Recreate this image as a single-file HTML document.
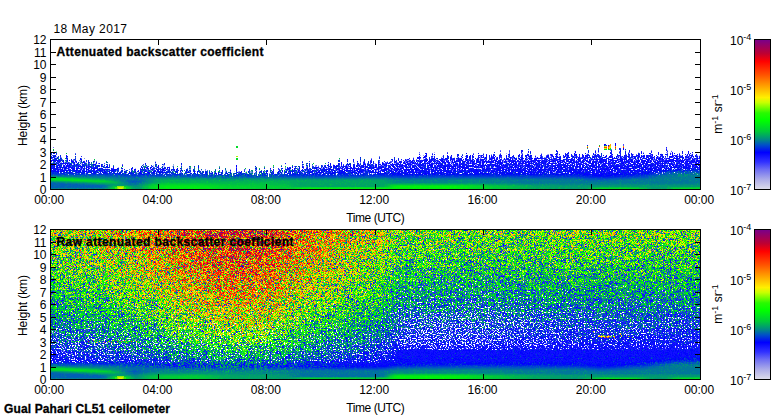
<!DOCTYPE html><html><head><meta charset="utf-8"><title>Ceilometer</title><style>html,body{margin:0;padding:0;background:#fff;}body{width:780px;height:420px;overflow:hidden;position:relative;font-family:"Liberation Sans",sans-serif;font-size:12px;color:#000;}svg{position:absolute;left:0;top:0;}text{font-family:"Liberation Sans",sans-serif;font-size:12px;fill:#000;}.b{font-weight:bold;stroke:#000;stroke-width:.3px;}</style></head><body><svg width="780" height="420" viewBox="0 0 780 420"><defs><linearGradient id="cb" x1="0" y1="0" x2="0" y2="1"><stop offset="0.000" stop-color="rgb(120,0,140)"/><stop offset="0.093" stop-color="rgb(190,0,50)"/><stop offset="0.145" stop-color="rgb(255,0,0)"/><stop offset="0.233" stop-color="rgb(255,80,0)"/><stop offset="0.310" stop-color="rgb(255,160,0)"/><stop offset="0.387" stop-color="rgb(255,240,0)"/><stop offset="0.420" stop-color="rgb(200,255,0)"/><stop offset="0.490" stop-color="rgb(40,250,0)"/><stop offset="0.540" stop-color="rgb(0,255,0)"/><stop offset="0.613" stop-color="rgb(0,200,60)"/><stop offset="0.665" stop-color="rgb(0,140,130)"/><stop offset="0.703" stop-color="rgb(0,80,200)"/><stop offset="0.753" stop-color="rgb(0,0,255)"/><stop offset="0.817" stop-color="rgb(50,50,255)"/><stop offset="0.867" stop-color="rgb(110,110,242)"/><stop offset="0.930" stop-color="rgb(170,170,232)"/><stop offset="1.000" stop-color="rgb(222,222,234)"/></linearGradient><linearGradient id="a0" gradientUnits="userSpaceOnUse" x1="0" y1="39" x2="0" y2="189"><stop offset="0" stop-color="#3600d9"/><stop offset=".167" stop-color="#3900c7"/><stop offset=".333" stop-color="#3c00b2"/><stop offset=".417" stop-color="#3e00a6"/><stop offset=".5" stop-color="#400098"/><stop offset=".583" stop-color="#410088"/><stop offset=".667" stop-color="#430075"/><stop offset=".708" stop-color="#44006a"/><stop offset=".75" stop-color="#45005d"/><stop offset=".792" stop-color="#45004e"/><stop offset=".812" stop-color="#460046"/><stop offset=".833" stop-color="#46003c"/><stop offset=".854" stop-color="#470031"/><stop offset=".875" stop-color="#47002a"/><stop offset=".887" stop-color="#4b0027"/><stop offset=".9" stop-color="#51001f"/><stop offset=".908" stop-color="#560017"/><stop offset=".917" stop-color="#5d000c"/><stop offset=".925" stop-color="#6c0001"/><stop offset=".933" stop-color="#720000"/><stop offset=".942" stop-color="#660000"/><stop offset=".95" stop-color="#5e0000"/><stop offset=".958" stop-color="#570000"/><stop offset=".967" stop-color="#570000"/><stop offset=".975" stop-color="#570000"/><stop offset=".983" stop-color="#570000"/><stop offset=".992" stop-color="#570000"/><stop offset="1" stop-color="#5d0000"/></linearGradient><linearGradient id="a1" gradientUnits="userSpaceOnUse" x1="0" y1="39" x2="0" y2="189"><stop offset="0" stop-color="#3600db"/><stop offset=".167" stop-color="#3900c9"/><stop offset=".333" stop-color="#3c00b4"/><stop offset=".417" stop-color="#3e00a8"/><stop offset=".5" stop-color="#40009a"/><stop offset=".583" stop-color="#41008a"/><stop offset=".667" stop-color="#430077"/><stop offset=".708" stop-color="#44006c"/><stop offset=".75" stop-color="#45005f"/><stop offset=".792" stop-color="#450050"/><stop offset=".812" stop-color="#460048"/><stop offset=".833" stop-color="#46003e"/><stop offset=".854" stop-color="#470033"/><stop offset=".875" stop-color="#47002a"/><stop offset=".887" stop-color="#4b0027"/><stop offset=".9" stop-color="#51001f"/><stop offset=".908" stop-color="#550017"/><stop offset=".917" stop-color="#5c000c"/><stop offset=".925" stop-color="#680001"/><stop offset=".933" stop-color="#720000"/><stop offset=".942" stop-color="#690000"/><stop offset=".95" stop-color="#5f0000"/><stop offset=".958" stop-color="#580000"/><stop offset=".967" stop-color="#570000"/><stop offset=".975" stop-color="#570000"/><stop offset=".983" stop-color="#570000"/><stop offset=".992" stop-color="#570000"/><stop offset="1" stop-color="#5d0000"/></linearGradient><linearGradient id="a2" gradientUnits="userSpaceOnUse" x1="0" y1="39" x2="0" y2="189"><stop offset="0" stop-color="#3600de"/><stop offset=".167" stop-color="#3900cc"/><stop offset=".333" stop-color="#3c00b7"/><stop offset=".417" stop-color="#3e00ab"/><stop offset=".5" stop-color="#40009d"/><stop offset=".583" stop-color="#41008d"/><stop offset=".667" stop-color="#43007a"/><stop offset=".708" stop-color="#44006f"/><stop offset=".75" stop-color="#450063"/><stop offset=".792" stop-color="#450054"/><stop offset=".812" stop-color="#46004b"/><stop offset=".833" stop-color="#460042"/><stop offset=".854" stop-color="#470037"/><stop offset=".875" stop-color="#47002b"/><stop offset=".887" stop-color="#4b0027"/><stop offset=".9" stop-color="#51001f"/><stop offset=".908" stop-color="#550017"/><stop offset=".917" stop-color="#5a000c"/><stop offset=".925" stop-color="#630001"/><stop offset=".933" stop-color="#6f0000"/><stop offset=".942" stop-color="#6d0000"/><stop offset=".95" stop-color="#610000"/><stop offset=".958" stop-color="#5b0000"/><stop offset=".967" stop-color="#570000"/><stop offset=".975" stop-color="#570000"/><stop offset=".983" stop-color="#570000"/><stop offset=".992" stop-color="#570000"/><stop offset="1" stop-color="#5d0000"/></linearGradient><linearGradient id="a3" gradientUnits="userSpaceOnUse" x1="0" y1="39" x2="0" y2="189"><stop offset="0" stop-color="#3600e0"/><stop offset=".167" stop-color="#3900cf"/><stop offset=".333" stop-color="#3c00ba"/><stop offset=".417" stop-color="#3e00ae"/><stop offset=".5" stop-color="#4000a0"/><stop offset=".583" stop-color="#410091"/><stop offset=".667" stop-color="#43007e"/><stop offset=".708" stop-color="#440073"/><stop offset=".75" stop-color="#450066"/><stop offset=".792" stop-color="#450058"/><stop offset=".812" stop-color="#46004f"/><stop offset=".833" stop-color="#460046"/><stop offset=".854" stop-color="#47003b"/><stop offset=".875" stop-color="#47002f"/><stop offset=".887" stop-color="#4a0027"/><stop offset=".9" stop-color="#50001f"/><stop offset=".908" stop-color="#550017"/><stop offset=".917" stop-color="#59000c"/><stop offset=".925" stop-color="#5f0001"/><stop offset=".933" stop-color="#6a0000"/><stop offset=".942" stop-color="#6f0000"/><stop offset=".95" stop-color="#650000"/><stop offset=".958" stop-color="#5e0000"/><stop offset=".967" stop-color="#570000"/><stop offset=".975" stop-color="#570000"/><stop offset=".983" stop-color="#570000"/><stop offset=".992" stop-color="#570000"/><stop offset="1" stop-color="#5d0000"/></linearGradient><linearGradient id="a4" gradientUnits="userSpaceOnUse" x1="0" y1="39" x2="0" y2="189"><stop offset="0" stop-color="#3600e3"/><stop offset=".167" stop-color="#3900d2"/><stop offset=".333" stop-color="#3c00bd"/><stop offset=".417" stop-color="#3e00b1"/><stop offset=".5" stop-color="#4000a4"/><stop offset=".583" stop-color="#410094"/><stop offset=".667" stop-color="#430081"/><stop offset=".708" stop-color="#440077"/><stop offset=".75" stop-color="#45006a"/><stop offset=".792" stop-color="#45005b"/><stop offset=".812" stop-color="#460053"/><stop offset=".833" stop-color="#46004a"/><stop offset=".854" stop-color="#47003f"/><stop offset=".875" stop-color="#470033"/><stop offset=".887" stop-color="#4a0027"/><stop offset=".9" stop-color="#50001f"/><stop offset=".908" stop-color="#540017"/><stop offset=".917" stop-color="#58000c"/><stop offset=".925" stop-color="#5d0001"/><stop offset=".933" stop-color="#650000"/><stop offset=".942" stop-color="#6d0000"/><stop offset=".95" stop-color="#680000"/><stop offset=".958" stop-color="#5f0000"/><stop offset=".967" stop-color="#590000"/><stop offset=".975" stop-color="#570000"/><stop offset=".983" stop-color="#570000"/><stop offset=".992" stop-color="#570000"/><stop offset="1" stop-color="#5d0000"/></linearGradient><linearGradient id="a5" gradientUnits="userSpaceOnUse" x1="0" y1="39" x2="0" y2="189"><stop offset="0" stop-color="#3600e6"/><stop offset=".167" stop-color="#3900d5"/><stop offset=".333" stop-color="#3c00c0"/><stop offset=".417" stop-color="#3e00b4"/><stop offset=".5" stop-color="#4000a7"/><stop offset=".583" stop-color="#410098"/><stop offset=".667" stop-color="#430085"/><stop offset=".708" stop-color="#44007a"/><stop offset=".75" stop-color="#45006e"/><stop offset=".792" stop-color="#45005f"/><stop offset=".812" stop-color="#460057"/><stop offset=".833" stop-color="#46004e"/><stop offset=".854" stop-color="#470043"/><stop offset=".875" stop-color="#470037"/><stop offset=".887" stop-color="#4a002c"/><stop offset=".9" stop-color="#50001f"/><stop offset=".908" stop-color="#540017"/><stop offset=".917" stop-color="#58000c"/><stop offset=".925" stop-color="#5b0001"/><stop offset=".933" stop-color="#610000"/><stop offset=".942" stop-color="#690000"/><stop offset=".95" stop-color="#6a0000"/><stop offset=".958" stop-color="#620000"/><stop offset=".967" stop-color="#5c0000"/><stop offset=".975" stop-color="#570000"/><stop offset=".983" stop-color="#570000"/><stop offset=".992" stop-color="#570000"/><stop offset="1" stop-color="#5d0000"/></linearGradient><linearGradient id="a6" gradientUnits="userSpaceOnUse" x1="0" y1="39" x2="0" y2="189"><stop offset="0" stop-color="#3600e9"/><stop offset=".167" stop-color="#3900d8"/><stop offset=".333" stop-color="#3c00c4"/><stop offset=".417" stop-color="#3e00b8"/><stop offset=".5" stop-color="#4000ab"/><stop offset=".583" stop-color="#41009b"/><stop offset=".667" stop-color="#430089"/><stop offset=".708" stop-color="#44007e"/><stop offset=".75" stop-color="#450071"/><stop offset=".792" stop-color="#450063"/><stop offset=".812" stop-color="#46005b"/><stop offset=".833" stop-color="#460052"/><stop offset=".854" stop-color="#470047"/><stop offset=".875" stop-color="#47003b"/><stop offset=".887" stop-color="#4a0030"/><stop offset=".9" stop-color="#4f0021"/><stop offset=".908" stop-color="#540017"/><stop offset=".917" stop-color="#58000c"/><stop offset=".925" stop-color="#5b0001"/><stop offset=".933" stop-color="#5e0000"/><stop offset=".942" stop-color="#640000"/><stop offset=".95" stop-color="#6a0000"/><stop offset=".958" stop-color="#650000"/><stop offset=".967" stop-color="#5e0000"/><stop offset=".975" stop-color="#590000"/><stop offset=".983" stop-color="#570000"/><stop offset=".992" stop-color="#570000"/><stop offset="1" stop-color="#5d0000"/></linearGradient><linearGradient id="a7" gradientUnits="userSpaceOnUse" x1="0" y1="39" x2="0" y2="189"><stop offset="0" stop-color="#3600ee"/><stop offset=".167" stop-color="#3900dd"/><stop offset=".333" stop-color="#3c00c8"/><stop offset=".417" stop-color="#3e00bd"/><stop offset=".5" stop-color="#4000af"/><stop offset=".583" stop-color="#4100a0"/><stop offset=".667" stop-color="#43008e"/><stop offset=".708" stop-color="#440083"/><stop offset=".75" stop-color="#450077"/><stop offset=".792" stop-color="#450068"/><stop offset=".812" stop-color="#460060"/><stop offset=".833" stop-color="#460057"/><stop offset=".854" stop-color="#47004d"/><stop offset=".875" stop-color="#470041"/><stop offset=".887" stop-color="#4a0036"/><stop offset=".9" stop-color="#4f0027"/><stop offset=".908" stop-color="#53001c"/><stop offset=".917" stop-color="#570010"/><stop offset=".925" stop-color="#5b0004"/><stop offset=".933" stop-color="#5c0000"/><stop offset=".942" stop-color="#5e0000"/><stop offset=".95" stop-color="#620000"/><stop offset=".958" stop-color="#650000"/><stop offset=".967" stop-color="#610000"/><stop offset=".975" stop-color="#5f0000"/><stop offset=".983" stop-color="#670000"/><stop offset=".992" stop-color="#6b0000"/><stop offset="1" stop-color="#6b0000"/></linearGradient><linearGradient id="a8" gradientUnits="userSpaceOnUse" x1="0" y1="39" x2="0" y2="189"><stop offset="0" stop-color="#3600f2"/><stop offset=".167" stop-color="#3900e1"/><stop offset=".333" stop-color="#3c00cd"/><stop offset=".417" stop-color="#3e00c1"/><stop offset=".5" stop-color="#4000b4"/><stop offset=".583" stop-color="#4100a5"/><stop offset=".667" stop-color="#430093"/><stop offset=".708" stop-color="#440088"/><stop offset=".75" stop-color="#45007c"/><stop offset=".792" stop-color="#45006e"/><stop offset=".812" stop-color="#460066"/><stop offset=".833" stop-color="#46005d"/><stop offset=".854" stop-color="#470052"/><stop offset=".875" stop-color="#470047"/><stop offset=".887" stop-color="#49003d"/><stop offset=".9" stop-color="#4d002f"/><stop offset=".908" stop-color="#510024"/><stop offset=".917" stop-color="#550018"/><stop offset=".925" stop-color="#58000d"/><stop offset=".933" stop-color="#5a0003"/><stop offset=".942" stop-color="#590000"/><stop offset=".95" stop-color="#590000"/><stop offset=".958" stop-color="#5b0000"/><stop offset=".967" stop-color="#5c0000"/><stop offset=".975" stop-color="#5e0000"/><stop offset=".983" stop-color="#690000"/><stop offset=".992" stop-color="#700000"/><stop offset="1" stop-color="#710000"/></linearGradient><linearGradient id="a9" gradientUnits="userSpaceOnUse" x1="0" y1="39" x2="0" y2="189"><stop offset="0" stop-color="#3600f7"/><stop offset=".167" stop-color="#3900e6"/><stop offset=".333" stop-color="#3c00d2"/><stop offset=".417" stop-color="#3e00c6"/><stop offset=".5" stop-color="#4000b9"/><stop offset=".583" stop-color="#4100aa"/><stop offset=".667" stop-color="#430098"/><stop offset=".708" stop-color="#44008d"/><stop offset=".75" stop-color="#450081"/><stop offset=".792" stop-color="#450073"/><stop offset=".812" stop-color="#46006b"/><stop offset=".833" stop-color="#460062"/><stop offset=".854" stop-color="#470058"/><stop offset=".875" stop-color="#47004c"/><stop offset=".887" stop-color="#480043"/><stop offset=".9" stop-color="#4c0036"/><stop offset=".908" stop-color="#50002b"/><stop offset=".917" stop-color="#540020"/><stop offset=".925" stop-color="#570014"/><stop offset=".933" stop-color="#58000b"/><stop offset=".942" stop-color="#570002"/><stop offset=".95" stop-color="#550000"/><stop offset=".958" stop-color="#560000"/><stop offset=".967" stop-color="#580000"/><stop offset=".975" stop-color="#5a0000"/><stop offset=".983" stop-color="#5b0000"/><stop offset=".992" stop-color="#5c0000"/><stop offset="1" stop-color="#5c0000"/></linearGradient><linearGradient id="a10" gradientUnits="userSpaceOnUse" x1="0" y1="39" x2="0" y2="189"><stop offset="0" stop-color="#3600f5"/><stop offset=".167" stop-color="#3900e4"/><stop offset=".333" stop-color="#3c00d0"/><stop offset=".417" stop-color="#3e00c4"/><stop offset=".5" stop-color="#4000b7"/><stop offset=".583" stop-color="#4100a8"/><stop offset=".667" stop-color="#430096"/><stop offset=".708" stop-color="#44008c"/><stop offset=".75" stop-color="#450080"/><stop offset=".792" stop-color="#450072"/><stop offset=".812" stop-color="#46006a"/><stop offset=".833" stop-color="#460061"/><stop offset=".854" stop-color="#470057"/><stop offset=".875" stop-color="#47004b"/><stop offset=".887" stop-color="#490042"/><stop offset=".9" stop-color="#4c0035"/><stop offset=".908" stop-color="#50002a"/><stop offset=".917" stop-color="#54001e"/><stop offset=".925" stop-color="#580012"/><stop offset=".933" stop-color="#5a0007"/><stop offset=".942" stop-color="#5a0000"/><stop offset=".95" stop-color="#5a0000"/><stop offset=".958" stop-color="#5b0000"/><stop offset=".967" stop-color="#5f0000"/><stop offset=".975" stop-color="#620000"/><stop offset=".983" stop-color="#640000"/><stop offset=".992" stop-color="#640000"/><stop offset="1" stop-color="#640000"/></linearGradient><linearGradient id="a11" gradientUnits="userSpaceOnUse" x1="0" y1="39" x2="0" y2="189"><stop offset="0" stop-color="#3600ea"/><stop offset=".167" stop-color="#3900d9"/><stop offset=".333" stop-color="#3c00c5"/><stop offset=".417" stop-color="#3e00ba"/><stop offset=".5" stop-color="#4000ad"/><stop offset=".583" stop-color="#41009e"/><stop offset=".667" stop-color="#43008c"/><stop offset=".708" stop-color="#440081"/><stop offset=".75" stop-color="#450076"/><stop offset=".792" stop-color="#450068"/><stop offset=".812" stop-color="#460060"/><stop offset=".833" stop-color="#460057"/><stop offset=".854" stop-color="#47004d"/><stop offset=".875" stop-color="#480040"/><stop offset=".887" stop-color="#4b0035"/><stop offset=".9" stop-color="#4e002a"/><stop offset=".908" stop-color="#51001f"/><stop offset=".917" stop-color="#560013"/><stop offset=".925" stop-color="#5b0005"/><stop offset=".933" stop-color="#5e0000"/><stop offset=".942" stop-color="#600000"/><stop offset=".95" stop-color="#600000"/><stop offset=".958" stop-color="#620000"/><stop offset=".967" stop-color="#660000"/><stop offset=".975" stop-color="#6a0000"/><stop offset=".983" stop-color="#6d0000"/><stop offset=".992" stop-color="#6d0000"/><stop offset="1" stop-color="#6d0000"/></linearGradient><linearGradient id="a12" gradientUnits="userSpaceOnUse" x1="0" y1="39" x2="0" y2="189"><stop offset="0" stop-color="#3600e8"/><stop offset=".167" stop-color="#3900d7"/><stop offset=".333" stop-color="#3c00c3"/><stop offset=".417" stop-color="#3e00b8"/><stop offset=".5" stop-color="#4000ab"/><stop offset=".583" stop-color="#41009c"/><stop offset=".667" stop-color="#43008a"/><stop offset=".708" stop-color="#440080"/><stop offset=".75" stop-color="#450074"/><stop offset=".792" stop-color="#450066"/><stop offset=".812" stop-color="#46005e"/><stop offset=".833" stop-color="#460055"/><stop offset=".854" stop-color="#47004b"/><stop offset=".875" stop-color="#48003e"/><stop offset=".887" stop-color="#4c0033"/><stop offset=".9" stop-color="#4e0027"/><stop offset=".908" stop-color="#51001d"/><stop offset=".917" stop-color="#560011"/><stop offset=".925" stop-color="#5b0003"/><stop offset=".933" stop-color="#600000"/><stop offset=".942" stop-color="#630000"/><stop offset=".95" stop-color="#630000"/><stop offset=".958" stop-color="#650000"/><stop offset=".967" stop-color="#680000"/><stop offset=".975" stop-color="#6d0000"/><stop offset=".983" stop-color="#700000"/><stop offset=".992" stop-color="#700000"/><stop offset="1" stop-color="#700000"/></linearGradient><linearGradient id="a13" gradientUnits="userSpaceOnUse" x1="0" y1="39" x2="0" y2="189"><stop offset="0" stop-color="#3600ed"/><stop offset=".167" stop-color="#3900dc"/><stop offset=".333" stop-color="#3c00c9"/><stop offset=".417" stop-color="#3e00bd"/><stop offset=".5" stop-color="#4000b0"/><stop offset=".583" stop-color="#4100a1"/><stop offset=".667" stop-color="#43008f"/><stop offset=".708" stop-color="#440085"/><stop offset=".75" stop-color="#450079"/><stop offset=".792" stop-color="#45006b"/><stop offset=".812" stop-color="#460063"/><stop offset=".833" stop-color="#46005a"/><stop offset=".854" stop-color="#470050"/><stop offset=".875" stop-color="#480043"/><stop offset=".887" stop-color="#4b0038"/><stop offset=".9" stop-color="#4e002c"/><stop offset=".908" stop-color="#510023"/><stop offset=".917" stop-color="#550017"/><stop offset=".925" stop-color="#5a0009"/><stop offset=".933" stop-color="#5f0000"/><stop offset=".942" stop-color="#620000"/><stop offset=".95" stop-color="#630000"/><stop offset=".958" stop-color="#650000"/><stop offset=".967" stop-color="#680000"/><stop offset=".975" stop-color="#6d0000"/><stop offset=".983" stop-color="#700000"/><stop offset=".992" stop-color="#700000"/><stop offset="1" stop-color="#700000"/></linearGradient><linearGradient id="a14" gradientUnits="userSpaceOnUse" x1="0" y1="39" x2="0" y2="189"><stop offset="0" stop-color="#3600f3"/><stop offset=".167" stop-color="#3900e2"/><stop offset=".333" stop-color="#3c00ce"/><stop offset=".417" stop-color="#3e00c3"/><stop offset=".5" stop-color="#4000b6"/><stop offset=".583" stop-color="#4100a7"/><stop offset=".667" stop-color="#430095"/><stop offset=".708" stop-color="#44008a"/><stop offset=".75" stop-color="#45007f"/><stop offset=".792" stop-color="#450071"/><stop offset=".812" stop-color="#460069"/><stop offset=".833" stop-color="#460060"/><stop offset=".854" stop-color="#470056"/><stop offset=".875" stop-color="#480049"/><stop offset=".887" stop-color="#4b003e"/><stop offset=".9" stop-color="#4e0032"/><stop offset=".908" stop-color="#500029"/><stop offset=".917" stop-color="#55001d"/><stop offset=".925" stop-color="#5a0010"/><stop offset=".933" stop-color="#5f0001"/><stop offset=".942" stop-color="#620000"/><stop offset=".95" stop-color="#630000"/><stop offset=".958" stop-color="#650000"/><stop offset=".967" stop-color="#680000"/><stop offset=".975" stop-color="#6d0000"/><stop offset=".983" stop-color="#700000"/><stop offset=".992" stop-color="#700000"/><stop offset="1" stop-color="#700000"/></linearGradient><linearGradient id="a15" gradientUnits="userSpaceOnUse" x1="0" y1="39" x2="0" y2="189"><stop offset="0" stop-color="#3600f8"/><stop offset=".167" stop-color="#3900e7"/><stop offset=".333" stop-color="#3c00d3"/><stop offset=".417" stop-color="#3e00c8"/><stop offset=".5" stop-color="#4000bb"/><stop offset=".583" stop-color="#4100ac"/><stop offset=".667" stop-color="#43009a"/><stop offset=".708" stop-color="#44008f"/><stop offset=".75" stop-color="#450084"/><stop offset=".792" stop-color="#450076"/><stop offset=".812" stop-color="#46006e"/><stop offset=".833" stop-color="#460065"/><stop offset=".854" stop-color="#47005b"/><stop offset=".875" stop-color="#48004e"/><stop offset=".887" stop-color="#4b0043"/><stop offset=".9" stop-color="#4e0037"/><stop offset=".908" stop-color="#50002e"/><stop offset=".917" stop-color="#540023"/><stop offset=".925" stop-color="#590015"/><stop offset=".933" stop-color="#5e0007"/><stop offset=".942" stop-color="#620000"/><stop offset=".95" stop-color="#630000"/><stop offset=".958" stop-color="#650000"/><stop offset=".967" stop-color="#680000"/><stop offset=".975" stop-color="#6d0000"/><stop offset=".983" stop-color="#700000"/><stop offset=".992" stop-color="#700000"/><stop offset="1" stop-color="#700000"/></linearGradient><linearGradient id="a16" gradientUnits="userSpaceOnUse" x1="0" y1="39" x2="0" y2="189"><stop offset="0" stop-color="#3600fd"/><stop offset=".167" stop-color="#3900ec"/><stop offset=".333" stop-color="#3c00d8"/><stop offset=".417" stop-color="#3e00cd"/><stop offset=".5" stop-color="#4000c0"/><stop offset=".583" stop-color="#4100b1"/><stop offset=".667" stop-color="#43009f"/><stop offset=".708" stop-color="#440094"/><stop offset=".75" stop-color="#450089"/><stop offset=".792" stop-color="#45007b"/><stop offset=".812" stop-color="#460073"/><stop offset=".833" stop-color="#46006a"/><stop offset=".854" stop-color="#470060"/><stop offset=".875" stop-color="#480053"/><stop offset=".887" stop-color="#4b0049"/><stop offset=".9" stop-color="#4e003d"/><stop offset=".908" stop-color="#500034"/><stop offset=".917" stop-color="#530029"/><stop offset=".925" stop-color="#58001b"/><stop offset=".933" stop-color="#5e000d"/><stop offset=".942" stop-color="#620000"/><stop offset=".95" stop-color="#630000"/><stop offset=".958" stop-color="#640000"/><stop offset=".967" stop-color="#680000"/><stop offset=".975" stop-color="#6c0000"/><stop offset=".983" stop-color="#6e0000"/><stop offset=".992" stop-color="#6f0000"/><stop offset="1" stop-color="#6f0000"/></linearGradient><linearGradient id="a17" gradientUnits="userSpaceOnUse" x1="0" y1="39" x2="0" y2="189"><stop offset="0" stop-color="#3700ff"/><stop offset=".167" stop-color="#3900f0"/><stop offset=".333" stop-color="#3c00dc"/><stop offset=".417" stop-color="#3e00d1"/><stop offset=".5" stop-color="#4000c4"/><stop offset=".583" stop-color="#4100b5"/><stop offset=".667" stop-color="#4300a3"/><stop offset=".708" stop-color="#440099"/><stop offset=".75" stop-color="#45008d"/><stop offset=".792" stop-color="#45007f"/><stop offset=".812" stop-color="#460077"/><stop offset=".833" stop-color="#46006e"/><stop offset=".854" stop-color="#470064"/><stop offset=".875" stop-color="#480058"/><stop offset=".887" stop-color="#4a004d"/><stop offset=".9" stop-color="#4d0041"/><stop offset=".908" stop-color="#4f0038"/><stop offset=".917" stop-color="#53002d"/><stop offset=".925" stop-color="#580020"/><stop offset=".933" stop-color="#5d0011"/><stop offset=".942" stop-color="#610003"/><stop offset=".95" stop-color="#630000"/><stop offset=".958" stop-color="#640000"/><stop offset=".967" stop-color="#670000"/><stop offset=".975" stop-color="#6a0000"/><stop offset=".983" stop-color="#6c0000"/><stop offset=".992" stop-color="#6d0000"/><stop offset="1" stop-color="#6d0000"/></linearGradient><linearGradient id="a18" gradientUnits="userSpaceOnUse" x1="0" y1="39" x2="0" y2="189"><stop offset="0" stop-color="#3900ff"/><stop offset=".167" stop-color="#3900f2"/><stop offset=".333" stop-color="#3c00de"/><stop offset=".417" stop-color="#3e00d3"/><stop offset=".5" stop-color="#4000c6"/><stop offset=".583" stop-color="#4100b7"/><stop offset=".667" stop-color="#4300a5"/><stop offset=".708" stop-color="#44009a"/><stop offset=".75" stop-color="#45008e"/><stop offset=".792" stop-color="#450081"/><stop offset=".812" stop-color="#460079"/><stop offset=".833" stop-color="#460070"/><stop offset=".854" stop-color="#470066"/><stop offset=".875" stop-color="#48005a"/><stop offset=".887" stop-color="#4a004f"/><stop offset=".9" stop-color="#4d0043"/><stop offset=".908" stop-color="#4f003a"/><stop offset=".917" stop-color="#53002f"/><stop offset=".925" stop-color="#580022"/><stop offset=".933" stop-color="#5d0013"/><stop offset=".942" stop-color="#610005"/><stop offset=".95" stop-color="#630000"/><stop offset=".958" stop-color="#640000"/><stop offset=".967" stop-color="#660000"/><stop offset=".975" stop-color="#680000"/><stop offset=".983" stop-color="#6a0000"/><stop offset=".992" stop-color="#6a0000"/><stop offset="1" stop-color="#6a0000"/></linearGradient><linearGradient id="a19" gradientUnits="userSpaceOnUse" x1="0" y1="39" x2="0" y2="189"><stop offset="0" stop-color="#3a00ff"/><stop offset=".167" stop-color="#3900f4"/><stop offset=".333" stop-color="#3c00e0"/><stop offset=".417" stop-color="#3e00d4"/><stop offset=".5" stop-color="#4000c7"/><stop offset=".583" stop-color="#4100b9"/><stop offset=".667" stop-color="#4300a7"/><stop offset=".708" stop-color="#44009c"/><stop offset=".75" stop-color="#450090"/><stop offset=".792" stop-color="#450082"/><stop offset=".812" stop-color="#46007a"/><stop offset=".833" stop-color="#460072"/><stop offset=".854" stop-color="#470068"/><stop offset=".875" stop-color="#48005b"/><stop offset=".887" stop-color="#4a0051"/><stop offset=".9" stop-color="#4d0045"/><stop offset=".908" stop-color="#4f003c"/><stop offset=".917" stop-color="#530031"/><stop offset=".925" stop-color="#580024"/><stop offset=".933" stop-color="#5d0015"/><stop offset=".942" stop-color="#610007"/><stop offset=".95" stop-color="#630000"/><stop offset=".958" stop-color="#640000"/><stop offset=".967" stop-color="#660000"/><stop offset=".975" stop-color="#680000"/><stop offset=".983" stop-color="#690000"/><stop offset=".992" stop-color="#6a0000"/><stop offset="1" stop-color="#6a0000"/></linearGradient><linearGradient id="a20" gradientUnits="userSpaceOnUse" x1="0" y1="39" x2="0" y2="189"><stop offset="0" stop-color="#3a00ff"/><stop offset=".167" stop-color="#3900f3"/><stop offset=".333" stop-color="#3c00e0"/><stop offset=".417" stop-color="#3e00d4"/><stop offset=".5" stop-color="#4000c7"/><stop offset=".583" stop-color="#4100b8"/><stop offset=".667" stop-color="#4300a7"/><stop offset=".708" stop-color="#44009c"/><stop offset=".75" stop-color="#450090"/><stop offset=".792" stop-color="#450082"/><stop offset=".812" stop-color="#46007a"/><stop offset=".833" stop-color="#460071"/><stop offset=".854" stop-color="#470067"/><stop offset=".875" stop-color="#48005b"/><stop offset=".887" stop-color="#4a0051"/><stop offset=".9" stop-color="#4d0044"/><stop offset=".908" stop-color="#4f003c"/><stop offset=".917" stop-color="#530031"/><stop offset=".925" stop-color="#580023"/><stop offset=".933" stop-color="#5d0015"/><stop offset=".942" stop-color="#610006"/><stop offset=".95" stop-color="#630000"/><stop offset=".958" stop-color="#640000"/><stop offset=".967" stop-color="#660000"/><stop offset=".975" stop-color="#680000"/><stop offset=".983" stop-color="#690000"/><stop offset=".992" stop-color="#690000"/><stop offset="1" stop-color="#690000"/></linearGradient><linearGradient id="a21" gradientUnits="userSpaceOnUse" x1="0" y1="39" x2="0" y2="189"><stop offset="0" stop-color="#3900ff"/><stop offset=".167" stop-color="#3900f2"/><stop offset=".333" stop-color="#3c00de"/><stop offset=".417" stop-color="#3e00d2"/><stop offset=".5" stop-color="#4000c5"/><stop offset=".583" stop-color="#4100b7"/><stop offset=".667" stop-color="#4300a5"/><stop offset=".708" stop-color="#44009a"/><stop offset=".75" stop-color="#45008e"/><stop offset=".792" stop-color="#450080"/><stop offset=".812" stop-color="#460078"/><stop offset=".833" stop-color="#460070"/><stop offset=".854" stop-color="#470066"/><stop offset=".875" stop-color="#480059"/><stop offset=".887" stop-color="#4a004f"/><stop offset=".9" stop-color="#4d0043"/><stop offset=".908" stop-color="#4f003a"/><stop offset=".917" stop-color="#53002f"/><stop offset=".925" stop-color="#580022"/><stop offset=".933" stop-color="#5d0013"/><stop offset=".942" stop-color="#610005"/><stop offset=".95" stop-color="#630000"/><stop offset=".958" stop-color="#640000"/><stop offset=".967" stop-color="#650000"/><stop offset=".975" stop-color="#670000"/><stop offset=".983" stop-color="#680000"/><stop offset=".992" stop-color="#690000"/><stop offset="1" stop-color="#690000"/></linearGradient><linearGradient id="a22" gradientUnits="userSpaceOnUse" x1="0" y1="39" x2="0" y2="189"><stop offset="0" stop-color="#3700ff"/><stop offset=".167" stop-color="#3900f0"/><stop offset=".333" stop-color="#3c00dc"/><stop offset=".417" stop-color="#3e00d1"/><stop offset=".5" stop-color="#4000c4"/><stop offset=".583" stop-color="#4100b5"/><stop offset=".667" stop-color="#4300a3"/><stop offset=".708" stop-color="#440098"/><stop offset=".75" stop-color="#45008d"/><stop offset=".792" stop-color="#45007f"/><stop offset=".812" stop-color="#460077"/><stop offset=".833" stop-color="#46006e"/><stop offset=".854" stop-color="#470064"/><stop offset=".875" stop-color="#480058"/><stop offset=".887" stop-color="#4a004d"/><stop offset=".9" stop-color="#4d0041"/><stop offset=".908" stop-color="#4f0038"/><stop offset=".917" stop-color="#53002d"/><stop offset=".925" stop-color="#580020"/><stop offset=".933" stop-color="#5d0011"/><stop offset=".942" stop-color="#610003"/><stop offset=".95" stop-color="#630000"/><stop offset=".958" stop-color="#640000"/><stop offset=".967" stop-color="#650000"/><stop offset=".975" stop-color="#670000"/><stop offset=".983" stop-color="#680000"/><stop offset=".992" stop-color="#680000"/><stop offset="1" stop-color="#680000"/></linearGradient><linearGradient id="a23" gradientUnits="userSpaceOnUse" x1="0" y1="39" x2="0" y2="189"><stop offset="0" stop-color="#3600fb"/><stop offset=".167" stop-color="#3900ea"/><stop offset=".333" stop-color="#3c00d6"/><stop offset=".417" stop-color="#3e00cb"/><stop offset=".5" stop-color="#4000be"/><stop offset=".583" stop-color="#4100af"/><stop offset=".667" stop-color="#43009d"/><stop offset=".708" stop-color="#440093"/><stop offset=".75" stop-color="#450087"/><stop offset=".792" stop-color="#450079"/><stop offset=".812" stop-color="#460071"/><stop offset=".833" stop-color="#460068"/><stop offset=".854" stop-color="#47005e"/><stop offset=".875" stop-color="#480052"/><stop offset=".887" stop-color="#4a0047"/><stop offset=".9" stop-color="#4d003b"/><stop offset=".908" stop-color="#4f0032"/><stop offset=".917" stop-color="#530027"/><stop offset=".925" stop-color="#58001a"/><stop offset=".933" stop-color="#5d000b"/><stop offset=".942" stop-color="#610000"/><stop offset=".95" stop-color="#630000"/><stop offset=".958" stop-color="#640000"/><stop offset=".967" stop-color="#650000"/><stop offset=".975" stop-color="#660000"/><stop offset=".983" stop-color="#680000"/><stop offset=".992" stop-color="#680000"/><stop offset="1" stop-color="#680000"/></linearGradient><linearGradient id="a24" gradientUnits="userSpaceOnUse" x1="0" y1="39" x2="0" y2="189"><stop offset="0" stop-color="#3600f4"/><stop offset=".167" stop-color="#3900e3"/><stop offset=".333" stop-color="#3c00cf"/><stop offset=".417" stop-color="#3e00c4"/><stop offset=".5" stop-color="#4000b7"/><stop offset=".583" stop-color="#4100a8"/><stop offset=".667" stop-color="#430096"/><stop offset=".708" stop-color="#44008c"/><stop offset=".75" stop-color="#450080"/><stop offset=".792" stop-color="#450072"/><stop offset=".812" stop-color="#46006a"/><stop offset=".833" stop-color="#460061"/><stop offset=".854" stop-color="#470057"/><stop offset=".875" stop-color="#48004b"/><stop offset=".887" stop-color="#4a0040"/><stop offset=".9" stop-color="#4d0034"/><stop offset=".908" stop-color="#4f002c"/><stop offset=".917" stop-color="#530020"/><stop offset=".925" stop-color="#580013"/><stop offset=".933" stop-color="#5d0005"/><stop offset=".942" stop-color="#610000"/><stop offset=".95" stop-color="#630000"/><stop offset=".958" stop-color="#630000"/><stop offset=".967" stop-color="#650000"/><stop offset=".975" stop-color="#660000"/><stop offset=".983" stop-color="#670000"/><stop offset=".992" stop-color="#670000"/><stop offset="1" stop-color="#670000"/></linearGradient><linearGradient id="a25" gradientUnits="userSpaceOnUse" x1="0" y1="39" x2="0" y2="189"><stop offset="0" stop-color="#3600ed"/><stop offset=".167" stop-color="#3900dc"/><stop offset=".333" stop-color="#3c00c9"/><stop offset=".417" stop-color="#3e00bd"/><stop offset=".5" stop-color="#4000b0"/><stop offset=".583" stop-color="#4100a1"/><stop offset=".667" stop-color="#430090"/><stop offset=".708" stop-color="#440085"/><stop offset=".75" stop-color="#450079"/><stop offset=".792" stop-color="#45006b"/><stop offset=".812" stop-color="#460063"/><stop offset=".833" stop-color="#46005a"/><stop offset=".854" stop-color="#470050"/><stop offset=".875" stop-color="#480044"/><stop offset=".887" stop-color="#4a0039"/><stop offset=".9" stop-color="#4d002d"/><stop offset=".908" stop-color="#4f0025"/><stop offset=".917" stop-color="#53001a"/><stop offset=".925" stop-color="#57000d"/><stop offset=".933" stop-color="#5c0000"/><stop offset=".942" stop-color="#600000"/><stop offset=".95" stop-color="#620000"/><stop offset=".958" stop-color="#620000"/><stop offset=".967" stop-color="#620000"/><stop offset=".975" stop-color="#620000"/><stop offset=".983" stop-color="#620000"/><stop offset=".992" stop-color="#680000"/><stop offset="1" stop-color="#6b0000"/></linearGradient><linearGradient id="a26" gradientUnits="userSpaceOnUse" x1="0" y1="39" x2="0" y2="189"><stop offset="0" stop-color="#3600e7"/><stop offset=".167" stop-color="#3900d6"/><stop offset=".333" stop-color="#3c00c3"/><stop offset=".417" stop-color="#3e00b7"/><stop offset=".5" stop-color="#4000aa"/><stop offset=".583" stop-color="#41009b"/><stop offset=".667" stop-color="#43008a"/><stop offset=".708" stop-color="#44007f"/><stop offset=".75" stop-color="#450073"/><stop offset=".792" stop-color="#450065"/><stop offset=".812" stop-color="#46005d"/><stop offset=".833" stop-color="#460054"/><stop offset=".854" stop-color="#47004a"/><stop offset=".875" stop-color="#48003e"/><stop offset=".887" stop-color="#4a0034"/><stop offset=".9" stop-color="#4d0028"/><stop offset=".908" stop-color="#4f001f"/><stop offset=".917" stop-color="#530014"/><stop offset=".925" stop-color="#570007"/><stop offset=".933" stop-color="#5c0000"/><stop offset=".942" stop-color="#600000"/><stop offset=".95" stop-color="#610000"/><stop offset=".958" stop-color="#610000"/><stop offset=".967" stop-color="#610000"/><stop offset=".975" stop-color="#610000"/><stop offset=".983" stop-color="#610000"/><stop offset=".992" stop-color="#6e0000"/><stop offset="1" stop-color="#730000"/></linearGradient><linearGradient id="a27" gradientUnits="userSpaceOnUse" x1="0" y1="39" x2="0" y2="189"><stop offset="0" stop-color="#3600e1"/><stop offset=".167" stop-color="#3900d1"/><stop offset=".333" stop-color="#3c00bd"/><stop offset=".417" stop-color="#3e00b1"/><stop offset=".5" stop-color="#4000a4"/><stop offset=".583" stop-color="#410096"/><stop offset=".667" stop-color="#430084"/><stop offset=".708" stop-color="#440079"/><stop offset=".75" stop-color="#45006d"/><stop offset=".792" stop-color="#45005f"/><stop offset=".812" stop-color="#460057"/><stop offset=".833" stop-color="#46004f"/><stop offset=".854" stop-color="#470045"/><stop offset=".875" stop-color="#480038"/><stop offset=".887" stop-color="#4a002e"/><stop offset=".9" stop-color="#4d0022"/><stop offset=".908" stop-color="#4f0019"/><stop offset=".917" stop-color="#53000e"/><stop offset=".925" stop-color="#570001"/><stop offset=".933" stop-color="#5c0000"/><stop offset=".942" stop-color="#600000"/><stop offset=".95" stop-color="#610000"/><stop offset=".958" stop-color="#610000"/><stop offset=".967" stop-color="#610000"/><stop offset=".975" stop-color="#610000"/><stop offset=".983" stop-color="#610000"/><stop offset=".992" stop-color="#6e0000"/><stop offset="1" stop-color="#730000"/></linearGradient><linearGradient id="a28" gradientUnits="userSpaceOnUse" x1="0" y1="39" x2="0" y2="189"><stop offset="0" stop-color="#3600dc"/><stop offset=".167" stop-color="#3900cb"/><stop offset=".333" stop-color="#3c00b7"/><stop offset=".417" stop-color="#3e00ac"/><stop offset=".5" stop-color="#40009f"/><stop offset=".583" stop-color="#410090"/><stop offset=".667" stop-color="#43007e"/><stop offset=".708" stop-color="#440074"/><stop offset=".75" stop-color="#450068"/><stop offset=".792" stop-color="#45005a"/><stop offset=".812" stop-color="#460052"/><stop offset=".833" stop-color="#460049"/><stop offset=".854" stop-color="#47003f"/><stop offset=".875" stop-color="#480033"/><stop offset=".887" stop-color="#4a0028"/><stop offset=".9" stop-color="#4d001f"/><stop offset=".908" stop-color="#4f0017"/><stop offset=".917" stop-color="#53000c"/><stop offset=".925" stop-color="#570001"/><stop offset=".933" stop-color="#5c0000"/><stop offset=".942" stop-color="#600000"/><stop offset=".95" stop-color="#610000"/><stop offset=".958" stop-color="#610000"/><stop offset=".967" stop-color="#610000"/><stop offset=".975" stop-color="#610000"/><stop offset=".983" stop-color="#610000"/><stop offset=".992" stop-color="#6e0000"/><stop offset="1" stop-color="#730000"/></linearGradient><linearGradient id="a29" gradientUnits="userSpaceOnUse" x1="0" y1="39" x2="0" y2="189"><stop offset="0" stop-color="#3600d8"/><stop offset=".167" stop-color="#3900c7"/><stop offset=".333" stop-color="#3c00b3"/><stop offset=".417" stop-color="#3e00a8"/><stop offset=".5" stop-color="#40009b"/><stop offset=".583" stop-color="#41008c"/><stop offset=".667" stop-color="#43007a"/><stop offset=".708" stop-color="#44006f"/><stop offset=".75" stop-color="#450063"/><stop offset=".792" stop-color="#450056"/><stop offset=".812" stop-color="#46004e"/><stop offset=".833" stop-color="#460045"/><stop offset=".854" stop-color="#47003b"/><stop offset=".875" stop-color="#48002f"/><stop offset=".887" stop-color="#4a0027"/><stop offset=".9" stop-color="#4d001f"/><stop offset=".908" stop-color="#4f0017"/><stop offset=".917" stop-color="#53000c"/><stop offset=".925" stop-color="#570001"/><stop offset=".933" stop-color="#5c0000"/><stop offset=".942" stop-color="#600000"/><stop offset=".95" stop-color="#610000"/><stop offset=".958" stop-color="#610000"/><stop offset=".967" stop-color="#610000"/><stop offset=".975" stop-color="#610000"/><stop offset=".983" stop-color="#610000"/><stop offset=".992" stop-color="#6e0000"/><stop offset="1" stop-color="#730000"/></linearGradient><linearGradient id="a30" gradientUnits="userSpaceOnUse" x1="0" y1="39" x2="0" y2="189"><stop offset="0" stop-color="#3600d3"/><stop offset=".167" stop-color="#3900c2"/><stop offset=".333" stop-color="#3c00ae"/><stop offset=".417" stop-color="#3e00a3"/><stop offset=".5" stop-color="#400096"/><stop offset=".583" stop-color="#410087"/><stop offset=".667" stop-color="#430075"/><stop offset=".708" stop-color="#44006b"/><stop offset=".75" stop-color="#45005f"/><stop offset=".792" stop-color="#450051"/><stop offset=".812" stop-color="#460049"/><stop offset=".833" stop-color="#460040"/><stop offset=".854" stop-color="#470036"/><stop offset=".875" stop-color="#48002a"/><stop offset=".887" stop-color="#4a0027"/><stop offset=".9" stop-color="#4d001f"/><stop offset=".908" stop-color="#4f0017"/><stop offset=".917" stop-color="#53000c"/><stop offset=".925" stop-color="#570001"/><stop offset=".933" stop-color="#5c0000"/><stop offset=".942" stop-color="#600000"/><stop offset=".95" stop-color="#610000"/><stop offset=".958" stop-color="#610000"/><stop offset=".967" stop-color="#610000"/><stop offset=".975" stop-color="#610000"/><stop offset=".983" stop-color="#610000"/><stop offset=".992" stop-color="#6e0000"/><stop offset="1" stop-color="#730000"/></linearGradient><linearGradient id="a31" gradientUnits="userSpaceOnUse" x1="0" y1="39" x2="0" y2="189"><stop offset="0" stop-color="#3600cf"/><stop offset=".167" stop-color="#3900be"/><stop offset=".333" stop-color="#3c00aa"/><stop offset=".417" stop-color="#3e009e"/><stop offset=".5" stop-color="#400091"/><stop offset=".583" stop-color="#410082"/><stop offset=".667" stop-color="#430070"/><stop offset=".708" stop-color="#440065"/><stop offset=".75" stop-color="#450059"/><stop offset=".792" stop-color="#45004b"/><stop offset=".812" stop-color="#460043"/><stop offset=".833" stop-color="#46003a"/><stop offset=".854" stop-color="#470030"/><stop offset=".875" stop-color="#48002a"/><stop offset=".887" stop-color="#4a0027"/><stop offset=".9" stop-color="#4d001f"/><stop offset=".908" stop-color="#4f0017"/><stop offset=".917" stop-color="#53000c"/><stop offset=".925" stop-color="#570001"/><stop offset=".933" stop-color="#5c0000"/><stop offset=".942" stop-color="#600000"/><stop offset=".95" stop-color="#610000"/><stop offset=".958" stop-color="#610000"/><stop offset=".967" stop-color="#610000"/><stop offset=".975" stop-color="#610000"/><stop offset=".983" stop-color="#610000"/><stop offset=".992" stop-color="#6e0000"/><stop offset="1" stop-color="#730000"/></linearGradient><linearGradient id="a32" gradientUnits="userSpaceOnUse" x1="0" y1="39" x2="0" y2="189"><stop offset="0" stop-color="#3600cb"/><stop offset=".167" stop-color="#3900ba"/><stop offset=".333" stop-color="#3c00a5"/><stop offset=".417" stop-color="#3e0099"/><stop offset=".5" stop-color="#40008c"/><stop offset=".583" stop-color="#41007d"/><stop offset=".667" stop-color="#43006a"/><stop offset=".708" stop-color="#440060"/><stop offset=".75" stop-color="#450053"/><stop offset=".792" stop-color="#450045"/><stop offset=".812" stop-color="#46003d"/><stop offset=".833" stop-color="#460034"/><stop offset=".854" stop-color="#47002a"/><stop offset=".875" stop-color="#48002a"/><stop offset=".887" stop-color="#4a0027"/><stop offset=".9" stop-color="#4d001f"/><stop offset=".908" stop-color="#4f0017"/><stop offset=".917" stop-color="#53000c"/><stop offset=".925" stop-color="#570001"/><stop offset=".933" stop-color="#5c0000"/><stop offset=".942" stop-color="#600000"/><stop offset=".95" stop-color="#610000"/><stop offset=".958" stop-color="#610000"/><stop offset=".967" stop-color="#610000"/><stop offset=".975" stop-color="#610000"/><stop offset=".983" stop-color="#610000"/><stop offset=".992" stop-color="#6e0000"/><stop offset="1" stop-color="#730000"/></linearGradient><linearGradient id="a33" gradientUnits="userSpaceOnUse" x1="0" y1="39" x2="0" y2="189"><stop offset="0" stop-color="#3600c7"/><stop offset=".167" stop-color="#3900b5"/><stop offset=".333" stop-color="#3c00a1"/><stop offset=".417" stop-color="#3e0095"/><stop offset=".5" stop-color="#400087"/><stop offset=".583" stop-color="#410078"/><stop offset=".667" stop-color="#430065"/><stop offset=".708" stop-color="#44005a"/><stop offset=".75" stop-color="#45004d"/><stop offset=".792" stop-color="#45003f"/><stop offset=".812" stop-color="#460036"/><stop offset=".833" stop-color="#46002d"/><stop offset=".854" stop-color="#47002a"/><stop offset=".875" stop-color="#48002a"/><stop offset=".887" stop-color="#4a0027"/><stop offset=".9" stop-color="#4d001f"/><stop offset=".908" stop-color="#4f0017"/><stop offset=".917" stop-color="#53000c"/><stop offset=".925" stop-color="#570001"/><stop offset=".933" stop-color="#5c0000"/><stop offset=".942" stop-color="#600000"/><stop offset=".95" stop-color="#610000"/><stop offset=".958" stop-color="#610000"/><stop offset=".967" stop-color="#610000"/><stop offset=".975" stop-color="#610000"/><stop offset=".983" stop-color="#610000"/><stop offset=".992" stop-color="#6e0000"/><stop offset="1" stop-color="#730000"/></linearGradient><linearGradient id="a34" gradientUnits="userSpaceOnUse" x1="0" y1="39" x2="0" y2="189"><stop offset="0" stop-color="#3600c4"/><stop offset=".167" stop-color="#3900b2"/><stop offset=".333" stop-color="#3c009d"/><stop offset=".417" stop-color="#3e0091"/><stop offset=".5" stop-color="#400084"/><stop offset=".583" stop-color="#410074"/><stop offset=".667" stop-color="#430061"/><stop offset=".708" stop-color="#440056"/><stop offset=".75" stop-color="#450049"/><stop offset=".792" stop-color="#45003a"/><stop offset=".812" stop-color="#460031"/><stop offset=".833" stop-color="#46002a"/><stop offset=".854" stop-color="#47002a"/><stop offset=".875" stop-color="#48002a"/><stop offset=".887" stop-color="#4a0027"/><stop offset=".9" stop-color="#4d001f"/><stop offset=".908" stop-color="#4f0017"/><stop offset=".917" stop-color="#53000c"/><stop offset=".925" stop-color="#570001"/><stop offset=".933" stop-color="#5c0000"/><stop offset=".942" stop-color="#5f0000"/><stop offset=".95" stop-color="#610000"/><stop offset=".958" stop-color="#610000"/><stop offset=".967" stop-color="#610000"/><stop offset=".975" stop-color="#610000"/><stop offset=".983" stop-color="#610000"/><stop offset=".992" stop-color="#6d0000"/><stop offset="1" stop-color="#730000"/></linearGradient><linearGradient id="a35" gradientUnits="userSpaceOnUse" x1="0" y1="39" x2="0" y2="189"><stop offset="0" stop-color="#3600d5"/><stop offset=".167" stop-color="#3900c2"/><stop offset=".333" stop-color="#3c00ab"/><stop offset=".417" stop-color="#3e009e"/><stop offset=".5" stop-color="#400090"/><stop offset=".583" stop-color="#41007e"/><stop offset=".667" stop-color="#43006a"/><stop offset=".708" stop-color="#44005e"/><stop offset=".75" stop-color="#450050"/><stop offset=".792" stop-color="#450040"/><stop offset=".812" stop-color="#460037"/><stop offset=".833" stop-color="#46002c"/><stop offset=".854" stop-color="#47002a"/><stop offset=".875" stop-color="#47002a"/><stop offset=".887" stop-color="#470027"/><stop offset=".9" stop-color="#4a001f"/><stop offset=".908" stop-color="#4d0017"/><stop offset=".917" stop-color="#51000c"/><stop offset=".925" stop-color="#550001"/><stop offset=".933" stop-color="#590000"/><stop offset=".942" stop-color="#5b0000"/><stop offset=".95" stop-color="#5c0000"/><stop offset=".958" stop-color="#5c0000"/><stop offset=".967" stop-color="#620000"/><stop offset=".975" stop-color="#6c0000"/><stop offset=".983" stop-color="#720000"/><stop offset=".992" stop-color="#720000"/><stop offset="1" stop-color="#720000"/></linearGradient><linearGradient id="a36" gradientUnits="userSpaceOnUse" x1="0" y1="39" x2="0" y2="189"><stop offset="0" stop-color="#3600d0"/><stop offset=".167" stop-color="#3900bc"/><stop offset=".333" stop-color="#3c00a4"/><stop offset=".417" stop-color="#3e0096"/><stop offset=".5" stop-color="#400086"/><stop offset=".583" stop-color="#410073"/><stop offset=".667" stop-color="#43005d"/><stop offset=".708" stop-color="#440050"/><stop offset=".75" stop-color="#450041"/><stop offset=".792" stop-color="#450030"/><stop offset=".812" stop-color="#46002a"/><stop offset=".833" stop-color="#46002a"/><stop offset=".854" stop-color="#47002a"/><stop offset=".875" stop-color="#47002a"/><stop offset=".887" stop-color="#470027"/><stop offset=".9" stop-color="#4a001f"/><stop offset=".908" stop-color="#4d0017"/><stop offset=".917" stop-color="#51000c"/><stop offset=".925" stop-color="#550001"/><stop offset=".933" stop-color="#590000"/><stop offset=".942" stop-color="#5b0000"/><stop offset=".95" stop-color="#5c0000"/><stop offset=".958" stop-color="#5c0000"/><stop offset=".967" stop-color="#620000"/><stop offset=".975" stop-color="#6c0000"/><stop offset=".983" stop-color="#720000"/><stop offset=".992" stop-color="#720000"/><stop offset="1" stop-color="#720000"/></linearGradient><linearGradient id="a37" gradientUnits="userSpaceOnUse" x1="0" y1="39" x2="0" y2="189"><stop offset="0" stop-color="#3600d0"/><stop offset=".167" stop-color="#3900bb"/><stop offset=".333" stop-color="#3c00a3"/><stop offset=".417" stop-color="#3e0095"/><stop offset=".5" stop-color="#400085"/><stop offset=".583" stop-color="#410073"/><stop offset=".667" stop-color="#43005d"/><stop offset=".708" stop-color="#440050"/><stop offset=".75" stop-color="#450041"/><stop offset=".792" stop-color="#45002f"/><stop offset=".812" stop-color="#46002a"/><stop offset=".833" stop-color="#46002a"/><stop offset=".854" stop-color="#47002a"/><stop offset=".875" stop-color="#47002a"/><stop offset=".887" stop-color="#470027"/><stop offset=".9" stop-color="#4a001f"/><stop offset=".908" stop-color="#4d0017"/><stop offset=".917" stop-color="#51000c"/><stop offset=".925" stop-color="#550001"/><stop offset=".933" stop-color="#590000"/><stop offset=".942" stop-color="#5b0000"/><stop offset=".95" stop-color="#5c0000"/><stop offset=".958" stop-color="#5c0000"/><stop offset=".967" stop-color="#620000"/><stop offset=".975" stop-color="#6c0000"/><stop offset=".983" stop-color="#720000"/><stop offset=".992" stop-color="#720000"/><stop offset="1" stop-color="#720000"/></linearGradient><linearGradient id="a38" gradientUnits="userSpaceOnUse" x1="0" y1="39" x2="0" y2="189"><stop offset="0" stop-color="#3600cf"/><stop offset=".167" stop-color="#3900bb"/><stop offset=".333" stop-color="#3c00a3"/><stop offset=".417" stop-color="#3e0095"/><stop offset=".5" stop-color="#400085"/><stop offset=".583" stop-color="#410072"/><stop offset=".667" stop-color="#43005c"/><stop offset=".708" stop-color="#44004f"/><stop offset=".75" stop-color="#450040"/><stop offset=".792" stop-color="#45002e"/><stop offset=".812" stop-color="#46002a"/><stop offset=".833" stop-color="#46002a"/><stop offset=".854" stop-color="#47002a"/><stop offset=".875" stop-color="#47002a"/><stop offset=".887" stop-color="#470027"/><stop offset=".9" stop-color="#4a001f"/><stop offset=".908" stop-color="#4e0017"/><stop offset=".917" stop-color="#52000c"/><stop offset=".925" stop-color="#560001"/><stop offset=".933" stop-color="#590000"/><stop offset=".942" stop-color="#5b0000"/><stop offset=".95" stop-color="#5c0000"/><stop offset=".958" stop-color="#5c0000"/><stop offset=".967" stop-color="#620000"/><stop offset=".975" stop-color="#6c0000"/><stop offset=".983" stop-color="#720000"/><stop offset=".992" stop-color="#720000"/><stop offset="1" stop-color="#720000"/></linearGradient><linearGradient id="a39" gradientUnits="userSpaceOnUse" x1="0" y1="39" x2="0" y2="189"><stop offset="0" stop-color="#3600cf"/><stop offset=".167" stop-color="#3900bb"/><stop offset=".333" stop-color="#3c00a3"/><stop offset=".417" stop-color="#3e0095"/><stop offset=".5" stop-color="#400085"/><stop offset=".583" stop-color="#410072"/><stop offset=".667" stop-color="#43005c"/><stop offset=".708" stop-color="#44004f"/><stop offset=".75" stop-color="#450040"/><stop offset=".792" stop-color="#45002e"/><stop offset=".812" stop-color="#46002a"/><stop offset=".833" stop-color="#46002a"/><stop offset=".854" stop-color="#47002a"/><stop offset=".875" stop-color="#47002a"/><stop offset=".887" stop-color="#470027"/><stop offset=".9" stop-color="#4a001f"/><stop offset=".908" stop-color="#4e0017"/><stop offset=".917" stop-color="#52000c"/><stop offset=".925" stop-color="#560001"/><stop offset=".933" stop-color="#590000"/><stop offset=".942" stop-color="#5b0000"/><stop offset=".95" stop-color="#5c0000"/><stop offset=".958" stop-color="#5c0000"/><stop offset=".967" stop-color="#620000"/><stop offset=".975" stop-color="#6c0000"/><stop offset=".983" stop-color="#720000"/><stop offset=".992" stop-color="#720000"/><stop offset="1" stop-color="#720000"/></linearGradient><linearGradient id="a40" gradientUnits="userSpaceOnUse" x1="0" y1="39" x2="0" y2="189"><stop offset="0" stop-color="#3600cf"/><stop offset=".167" stop-color="#3900bb"/><stop offset=".333" stop-color="#3c00a3"/><stop offset=".417" stop-color="#3e0094"/><stop offset=".5" stop-color="#400084"/><stop offset=".583" stop-color="#410072"/><stop offset=".667" stop-color="#43005c"/><stop offset=".708" stop-color="#44004f"/><stop offset=".75" stop-color="#450040"/><stop offset=".792" stop-color="#45002e"/><stop offset=".812" stop-color="#46002a"/><stop offset=".833" stop-color="#46002a"/><stop offset=".854" stop-color="#47002a"/><stop offset=".875" stop-color="#47002a"/><stop offset=".887" stop-color="#470027"/><stop offset=".9" stop-color="#4b001f"/><stop offset=".908" stop-color="#4e0017"/><stop offset=".917" stop-color="#52000c"/><stop offset=".925" stop-color="#560001"/><stop offset=".933" stop-color="#590000"/><stop offset=".942" stop-color="#5b0000"/><stop offset=".95" stop-color="#5c0000"/><stop offset=".958" stop-color="#5c0000"/><stop offset=".967" stop-color="#620000"/><stop offset=".975" stop-color="#6c0000"/><stop offset=".983" stop-color="#720000"/><stop offset=".992" stop-color="#720000"/><stop offset="1" stop-color="#720000"/></linearGradient><linearGradient id="a41" gradientUnits="userSpaceOnUse" x1="0" y1="39" x2="0" y2="189"><stop offset="0" stop-color="#3600cf"/><stop offset=".167" stop-color="#3900bb"/><stop offset=".333" stop-color="#3c00a3"/><stop offset=".417" stop-color="#3e0094"/><stop offset=".5" stop-color="#400084"/><stop offset=".583" stop-color="#410072"/><stop offset=".667" stop-color="#43005c"/><stop offset=".708" stop-color="#44004e"/><stop offset=".75" stop-color="#45003f"/><stop offset=".792" stop-color="#45002e"/><stop offset=".812" stop-color="#46002a"/><stop offset=".833" stop-color="#46002a"/><stop offset=".854" stop-color="#47002a"/><stop offset=".875" stop-color="#47002a"/><stop offset=".887" stop-color="#480027"/><stop offset=".9" stop-color="#4b001f"/><stop offset=".908" stop-color="#4e0017"/><stop offset=".917" stop-color="#52000c"/><stop offset=".925" stop-color="#560001"/><stop offset=".933" stop-color="#590000"/><stop offset=".942" stop-color="#5b0000"/><stop offset=".95" stop-color="#5c0000"/><stop offset=".958" stop-color="#5c0000"/><stop offset=".967" stop-color="#620000"/><stop offset=".975" stop-color="#6c0000"/><stop offset=".983" stop-color="#720000"/><stop offset=".992" stop-color="#720000"/><stop offset="1" stop-color="#720000"/></linearGradient><linearGradient id="a42" gradientUnits="userSpaceOnUse" x1="0" y1="39" x2="0" y2="189"><stop offset="0" stop-color="#3600cf"/><stop offset=".167" stop-color="#3900bb"/><stop offset=".333" stop-color="#3c00a2"/><stop offset=".417" stop-color="#3e0094"/><stop offset=".5" stop-color="#400084"/><stop offset=".583" stop-color="#410072"/><stop offset=".667" stop-color="#43005b"/><stop offset=".708" stop-color="#44004e"/><stop offset=".75" stop-color="#45003f"/><stop offset=".792" stop-color="#45002e"/><stop offset=".812" stop-color="#46002a"/><stop offset=".833" stop-color="#46002a"/><stop offset=".854" stop-color="#47002a"/><stop offset=".875" stop-color="#47002a"/><stop offset=".887" stop-color="#480027"/><stop offset=".9" stop-color="#4b001f"/><stop offset=".908" stop-color="#4e0017"/><stop offset=".917" stop-color="#53000c"/><stop offset=".925" stop-color="#560001"/><stop offset=".933" stop-color="#5a0000"/><stop offset=".942" stop-color="#5c0000"/><stop offset=".95" stop-color="#5c0000"/><stop offset=".958" stop-color="#5c0000"/><stop offset=".967" stop-color="#610000"/><stop offset=".975" stop-color="#6a0000"/><stop offset=".983" stop-color="#6f0000"/><stop offset=".992" stop-color="#6f0000"/><stop offset="1" stop-color="#6f0000"/></linearGradient><linearGradient id="a43" gradientUnits="userSpaceOnUse" x1="0" y1="39" x2="0" y2="189"><stop offset="0" stop-color="#3600cf"/><stop offset=".167" stop-color="#3900bb"/><stop offset=".333" stop-color="#3c00a2"/><stop offset=".417" stop-color="#3e0094"/><stop offset=".5" stop-color="#400084"/><stop offset=".583" stop-color="#410072"/><stop offset=".667" stop-color="#43005b"/><stop offset=".708" stop-color="#44004e"/><stop offset=".75" stop-color="#45003f"/><stop offset=".792" stop-color="#45002d"/><stop offset=".812" stop-color="#46002a"/><stop offset=".833" stop-color="#46002a"/><stop offset=".854" stop-color="#47002a"/><stop offset=".875" stop-color="#47002a"/><stop offset=".887" stop-color="#480027"/><stop offset=".9" stop-color="#4b001f"/><stop offset=".908" stop-color="#4f0017"/><stop offset=".917" stop-color="#53000c"/><stop offset=".925" stop-color="#560001"/><stop offset=".933" stop-color="#5a0000"/><stop offset=".942" stop-color="#5b0000"/><stop offset=".95" stop-color="#5c0000"/><stop offset=".958" stop-color="#5c0000"/><stop offset=".967" stop-color="#600000"/><stop offset=".975" stop-color="#680000"/><stop offset=".983" stop-color="#6c0000"/><stop offset=".992" stop-color="#6c0000"/><stop offset="1" stop-color="#6c0000"/></linearGradient><linearGradient id="a44" gradientUnits="userSpaceOnUse" x1="0" y1="39" x2="0" y2="189"><stop offset="0" stop-color="#3600cf"/><stop offset=".167" stop-color="#3900bb"/><stop offset=".333" stop-color="#3c00a2"/><stop offset=".417" stop-color="#3e0094"/><stop offset=".5" stop-color="#400084"/><stop offset=".583" stop-color="#410072"/><stop offset=".667" stop-color="#43005b"/><stop offset=".708" stop-color="#44004e"/><stop offset=".75" stop-color="#45003f"/><stop offset=".792" stop-color="#45002d"/><stop offset=".812" stop-color="#46002a"/><stop offset=".833" stop-color="#46002a"/><stop offset=".854" stop-color="#47002a"/><stop offset=".875" stop-color="#47002a"/><stop offset=".887" stop-color="#480027"/><stop offset=".9" stop-color="#4b001f"/><stop offset=".908" stop-color="#4e0017"/><stop offset=".917" stop-color="#52000c"/><stop offset=".925" stop-color="#560001"/><stop offset=".933" stop-color="#590000"/><stop offset=".942" stop-color="#5b0000"/><stop offset=".95" stop-color="#5b0000"/><stop offset=".958" stop-color="#5b0000"/><stop offset=".967" stop-color="#5f0000"/><stop offset=".975" stop-color="#650000"/><stop offset=".983" stop-color="#690000"/><stop offset=".992" stop-color="#690000"/><stop offset="1" stop-color="#690000"/></linearGradient><linearGradient id="a45" gradientUnits="userSpaceOnUse" x1="0" y1="39" x2="0" y2="189"><stop offset="0" stop-color="#3600cf"/><stop offset=".167" stop-color="#3900bb"/><stop offset=".333" stop-color="#3c00a2"/><stop offset=".417" stop-color="#3e0094"/><stop offset=".5" stop-color="#400084"/><stop offset=".583" stop-color="#410072"/><stop offset=".667" stop-color="#43005b"/><stop offset=".708" stop-color="#44004e"/><stop offset=".75" stop-color="#45003f"/><stop offset=".792" stop-color="#45002d"/><stop offset=".812" stop-color="#46002a"/><stop offset=".833" stop-color="#46002a"/><stop offset=".854" stop-color="#47002a"/><stop offset=".875" stop-color="#47002a"/><stop offset=".887" stop-color="#480027"/><stop offset=".9" stop-color="#4b001f"/><stop offset=".908" stop-color="#4e0017"/><stop offset=".917" stop-color="#52000c"/><stop offset=".925" stop-color="#560001"/><stop offset=".933" stop-color="#590000"/><stop offset=".942" stop-color="#5b0000"/><stop offset=".95" stop-color="#5b0000"/><stop offset=".958" stop-color="#5b0000"/><stop offset=".967" stop-color="#5e0000"/><stop offset=".975" stop-color="#640000"/><stop offset=".983" stop-color="#670000"/><stop offset=".992" stop-color="#670000"/><stop offset="1" stop-color="#670000"/></linearGradient><linearGradient id="a46" gradientUnits="userSpaceOnUse" x1="0" y1="39" x2="0" y2="189"><stop offset="0" stop-color="#3600d0"/><stop offset=".167" stop-color="#3900bb"/><stop offset=".333" stop-color="#3c00a3"/><stop offset=".417" stop-color="#3e0094"/><stop offset=".5" stop-color="#400084"/><stop offset=".583" stop-color="#410072"/><stop offset=".667" stop-color="#43005b"/><stop offset=".708" stop-color="#44004e"/><stop offset=".75" stop-color="#45003f"/><stop offset=".792" stop-color="#45002d"/><stop offset=".812" stop-color="#46002a"/><stop offset=".833" stop-color="#46002a"/><stop offset=".854" stop-color="#47002a"/><stop offset=".875" stop-color="#47002a"/><stop offset=".887" stop-color="#480027"/><stop offset=".9" stop-color="#4b001f"/><stop offset=".908" stop-color="#4e0017"/><stop offset=".917" stop-color="#52000c"/><stop offset=".925" stop-color="#560001"/><stop offset=".933" stop-color="#590000"/><stop offset=".942" stop-color="#5a0000"/><stop offset=".95" stop-color="#5b0000"/><stop offset=".958" stop-color="#5b0000"/><stop offset=".967" stop-color="#5e0000"/><stop offset=".975" stop-color="#630000"/><stop offset=".983" stop-color="#660000"/><stop offset=".992" stop-color="#660000"/><stop offset="1" stop-color="#660000"/></linearGradient><linearGradient id="a47" gradientUnits="userSpaceOnUse" x1="0" y1="39" x2="0" y2="189"><stop offset="0" stop-color="#3600d0"/><stop offset=".167" stop-color="#3900bb"/><stop offset=".333" stop-color="#3c00a3"/><stop offset=".417" stop-color="#3e0094"/><stop offset=".5" stop-color="#400084"/><stop offset=".583" stop-color="#410072"/><stop offset=".667" stop-color="#43005b"/><stop offset=".708" stop-color="#44004e"/><stop offset=".75" stop-color="#45003f"/><stop offset=".792" stop-color="#45002d"/><stop offset=".812" stop-color="#46002a"/><stop offset=".833" stop-color="#46002a"/><stop offset=".854" stop-color="#47002a"/><stop offset=".875" stop-color="#47002a"/><stop offset=".887" stop-color="#480027"/><stop offset=".9" stop-color="#4b001f"/><stop offset=".908" stop-color="#4e0017"/><stop offset=".917" stop-color="#52000c"/><stop offset=".925" stop-color="#560001"/><stop offset=".933" stop-color="#580000"/><stop offset=".942" stop-color="#5a0000"/><stop offset=".95" stop-color="#5a0000"/><stop offset=".958" stop-color="#5a0000"/><stop offset=".967" stop-color="#5d0000"/><stop offset=".975" stop-color="#620000"/><stop offset=".983" stop-color="#640000"/><stop offset=".992" stop-color="#640000"/><stop offset="1" stop-color="#640000"/></linearGradient><linearGradient id="a48" gradientUnits="userSpaceOnUse" x1="0" y1="39" x2="0" y2="189"><stop offset="0" stop-color="#3600d0"/><stop offset=".167" stop-color="#3900bb"/><stop offset=".333" stop-color="#3c00a3"/><stop offset=".417" stop-color="#3e0094"/><stop offset=".5" stop-color="#400084"/><stop offset=".583" stop-color="#410072"/><stop offset=".667" stop-color="#43005b"/><stop offset=".708" stop-color="#44004e"/><stop offset=".75" stop-color="#45003f"/><stop offset=".792" stop-color="#45002d"/><stop offset=".812" stop-color="#46002a"/><stop offset=".833" stop-color="#46002a"/><stop offset=".854" stop-color="#47002a"/><stop offset=".875" stop-color="#47002a"/><stop offset=".887" stop-color="#480027"/><stop offset=".9" stop-color="#4b001f"/><stop offset=".908" stop-color="#4e0017"/><stop offset=".917" stop-color="#52000c"/><stop offset=".925" stop-color="#550001"/><stop offset=".933" stop-color="#580000"/><stop offset=".942" stop-color="#5a0000"/><stop offset=".95" stop-color="#5a0000"/><stop offset=".958" stop-color="#5a0000"/><stop offset=".967" stop-color="#5c0000"/><stop offset=".975" stop-color="#610000"/><stop offset=".983" stop-color="#630000"/><stop offset=".992" stop-color="#630000"/><stop offset="1" stop-color="#630000"/></linearGradient><linearGradient id="a49" gradientUnits="userSpaceOnUse" x1="0" y1="39" x2="0" y2="189"><stop offset="0" stop-color="#3600d0"/><stop offset=".167" stop-color="#3900bb"/><stop offset=".333" stop-color="#3c00a3"/><stop offset=".417" stop-color="#3e0095"/><stop offset=".5" stop-color="#400084"/><stop offset=".583" stop-color="#410072"/><stop offset=".667" stop-color="#43005b"/><stop offset=".708" stop-color="#44004e"/><stop offset=".75" stop-color="#45003f"/><stop offset=".792" stop-color="#45002d"/><stop offset=".812" stop-color="#46002a"/><stop offset=".833" stop-color="#46002a"/><stop offset=".854" stop-color="#47002a"/><stop offset=".875" stop-color="#47002a"/><stop offset=".887" stop-color="#480027"/><stop offset=".9" stop-color="#4b001f"/><stop offset=".908" stop-color="#4e0017"/><stop offset=".917" stop-color="#52000c"/><stop offset=".925" stop-color="#550001"/><stop offset=".933" stop-color="#580000"/><stop offset=".942" stop-color="#5a0000"/><stop offset=".95" stop-color="#5a0000"/><stop offset=".958" stop-color="#5a0000"/><stop offset=".967" stop-color="#5c0000"/><stop offset=".975" stop-color="#5f0000"/><stop offset=".983" stop-color="#610000"/><stop offset=".992" stop-color="#610000"/><stop offset="1" stop-color="#610000"/></linearGradient><linearGradient id="a50" gradientUnits="userSpaceOnUse" x1="0" y1="39" x2="0" y2="189"><stop offset="0" stop-color="#3600d0"/><stop offset=".167" stop-color="#3900bb"/><stop offset=".333" stop-color="#3c00a3"/><stop offset=".417" stop-color="#3e0095"/><stop offset=".5" stop-color="#400084"/><stop offset=".583" stop-color="#410072"/><stop offset=".667" stop-color="#43005b"/><stop offset=".708" stop-color="#44004e"/><stop offset=".75" stop-color="#45003f"/><stop offset=".792" stop-color="#45002d"/><stop offset=".812" stop-color="#46002a"/><stop offset=".833" stop-color="#46002a"/><stop offset=".854" stop-color="#47002a"/><stop offset=".875" stop-color="#47002a"/><stop offset=".887" stop-color="#480027"/><stop offset=".9" stop-color="#4b001f"/><stop offset=".908" stop-color="#4e0017"/><stop offset=".917" stop-color="#51000c"/><stop offset=".925" stop-color="#550001"/><stop offset=".933" stop-color="#580000"/><stop offset=".942" stop-color="#5a0000"/><stop offset=".95" stop-color="#5a0000"/><stop offset=".958" stop-color="#5a0000"/><stop offset=".967" stop-color="#5c0000"/><stop offset=".975" stop-color="#5f0000"/><stop offset=".983" stop-color="#610000"/><stop offset=".992" stop-color="#610000"/><stop offset="1" stop-color="#610000"/></linearGradient><linearGradient id="a51" gradientUnits="userSpaceOnUse" x1="0" y1="39" x2="0" y2="189"><stop offset="0" stop-color="#3600d0"/><stop offset=".167" stop-color="#3900bb"/><stop offset=".333" stop-color="#3c00a3"/><stop offset=".417" stop-color="#3e0095"/><stop offset=".5" stop-color="#400084"/><stop offset=".583" stop-color="#410072"/><stop offset=".667" stop-color="#43005b"/><stop offset=".708" stop-color="#44004e"/><stop offset=".75" stop-color="#45003f"/><stop offset=".792" stop-color="#45002d"/><stop offset=".812" stop-color="#46002a"/><stop offset=".833" stop-color="#46002a"/><stop offset=".854" stop-color="#47002a"/><stop offset=".875" stop-color="#47002a"/><stop offset=".887" stop-color="#480027"/><stop offset=".9" stop-color="#4b001f"/><stop offset=".908" stop-color="#4e0017"/><stop offset=".917" stop-color="#51000c"/><stop offset=".925" stop-color="#550001"/><stop offset=".933" stop-color="#580000"/><stop offset=".942" stop-color="#5a0000"/><stop offset=".95" stop-color="#5a0000"/><stop offset=".958" stop-color="#5a0000"/><stop offset=".967" stop-color="#5b0000"/><stop offset=".975" stop-color="#5f0000"/><stop offset=".983" stop-color="#600000"/><stop offset=".992" stop-color="#600000"/><stop offset="1" stop-color="#600000"/></linearGradient><linearGradient id="a52" gradientUnits="userSpaceOnUse" x1="0" y1="39" x2="0" y2="189"><stop offset="0" stop-color="#3600d0"/><stop offset=".167" stop-color="#3900bb"/><stop offset=".333" stop-color="#3c00a3"/><stop offset=".417" stop-color="#3e0095"/><stop offset=".5" stop-color="#400085"/><stop offset=".583" stop-color="#410072"/><stop offset=".667" stop-color="#43005b"/><stop offset=".708" stop-color="#44004e"/><stop offset=".75" stop-color="#45003f"/><stop offset=".792" stop-color="#45002d"/><stop offset=".812" stop-color="#46002a"/><stop offset=".833" stop-color="#46002a"/><stop offset=".854" stop-color="#47002a"/><stop offset=".875" stop-color="#47002a"/><stop offset=".887" stop-color="#480027"/><stop offset=".9" stop-color="#4b001f"/><stop offset=".908" stop-color="#4e0017"/><stop offset=".917" stop-color="#51000c"/><stop offset=".925" stop-color="#550001"/><stop offset=".933" stop-color="#580000"/><stop offset=".942" stop-color="#5a0000"/><stop offset=".95" stop-color="#5a0000"/><stop offset=".958" stop-color="#5a0000"/><stop offset=".967" stop-color="#5b0000"/><stop offset=".975" stop-color="#5e0000"/><stop offset=".983" stop-color="#600000"/><stop offset=".992" stop-color="#600000"/><stop offset="1" stop-color="#600000"/></linearGradient><linearGradient id="a53" gradientUnits="userSpaceOnUse" x1="0" y1="39" x2="0" y2="189"><stop offset="0" stop-color="#3600d0"/><stop offset=".167" stop-color="#3900bc"/><stop offset=".333" stop-color="#3c00a3"/><stop offset=".417" stop-color="#3e0095"/><stop offset=".5" stop-color="#400085"/><stop offset=".583" stop-color="#410072"/><stop offset=".667" stop-color="#43005b"/><stop offset=".708" stop-color="#44004e"/><stop offset=".75" stop-color="#45003f"/><stop offset=".792" stop-color="#45002d"/><stop offset=".812" stop-color="#46002a"/><stop offset=".833" stop-color="#46002a"/><stop offset=".854" stop-color="#47002a"/><stop offset=".875" stop-color="#47002a"/><stop offset=".887" stop-color="#480027"/><stop offset=".9" stop-color="#4b001f"/><stop offset=".908" stop-color="#4e0017"/><stop offset=".917" stop-color="#51000c"/><stop offset=".925" stop-color="#550001"/><stop offset=".933" stop-color="#580000"/><stop offset=".942" stop-color="#5a0000"/><stop offset=".95" stop-color="#5a0000"/><stop offset=".958" stop-color="#5a0000"/><stop offset=".967" stop-color="#5b0000"/><stop offset=".975" stop-color="#5e0000"/><stop offset=".983" stop-color="#5f0000"/><stop offset=".992" stop-color="#5f0000"/><stop offset="1" stop-color="#5f0000"/></linearGradient><linearGradient id="a54" gradientUnits="userSpaceOnUse" x1="0" y1="39" x2="0" y2="189"><stop offset="0" stop-color="#3600d0"/><stop offset=".167" stop-color="#3900bc"/><stop offset=".333" stop-color="#3c00a3"/><stop offset=".417" stop-color="#3e0095"/><stop offset=".5" stop-color="#400085"/><stop offset=".583" stop-color="#410072"/><stop offset=".667" stop-color="#43005b"/><stop offset=".708" stop-color="#44004e"/><stop offset=".75" stop-color="#45003f"/><stop offset=".792" stop-color="#45002d"/><stop offset=".812" stop-color="#46002a"/><stop offset=".833" stop-color="#46002a"/><stop offset=".854" stop-color="#47002a"/><stop offset=".875" stop-color="#47002a"/><stop offset=".887" stop-color="#470027"/><stop offset=".9" stop-color="#49001f"/><stop offset=".908" stop-color="#4c0017"/><stop offset=".917" stop-color="#50000c"/><stop offset=".925" stop-color="#530001"/><stop offset=".933" stop-color="#570000"/><stop offset=".942" stop-color="#590000"/><stop offset=".95" stop-color="#5a0000"/><stop offset=".958" stop-color="#5a0000"/><stop offset=".967" stop-color="#5b0000"/><stop offset=".975" stop-color="#5e0000"/><stop offset=".983" stop-color="#5f0000"/><stop offset=".992" stop-color="#5f0000"/><stop offset="1" stop-color="#5f0000"/></linearGradient><linearGradient id="a55" gradientUnits="userSpaceOnUse" x1="0" y1="39" x2="0" y2="189"><stop offset="0" stop-color="#3600d1"/><stop offset=".167" stop-color="#3900bc"/><stop offset=".333" stop-color="#3c00a3"/><stop offset=".417" stop-color="#3e0095"/><stop offset=".5" stop-color="#400085"/><stop offset=".583" stop-color="#410072"/><stop offset=".667" stop-color="#43005b"/><stop offset=".708" stop-color="#44004e"/><stop offset=".75" stop-color="#45003f"/><stop offset=".792" stop-color="#45002d"/><stop offset=".812" stop-color="#46002a"/><stop offset=".833" stop-color="#46002a"/><stop offset=".854" stop-color="#47002a"/><stop offset=".875" stop-color="#47002a"/><stop offset=".887" stop-color="#470027"/><stop offset=".9" stop-color="#48001f"/><stop offset=".908" stop-color="#4a0017"/><stop offset=".917" stop-color="#4d000c"/><stop offset=".925" stop-color="#510001"/><stop offset=".933" stop-color="#540000"/><stop offset=".942" stop-color="#570000"/><stop offset=".95" stop-color="#590000"/><stop offset=".958" stop-color="#5a0000"/><stop offset=".967" stop-color="#5b0000"/><stop offset=".975" stop-color="#5e0000"/><stop offset=".983" stop-color="#5f0000"/><stop offset=".992" stop-color="#650000"/><stop offset="1" stop-color="#6a0000"/></linearGradient><linearGradient id="a56" gradientUnits="userSpaceOnUse" x1="0" y1="39" x2="0" y2="189"><stop offset="0" stop-color="#3600d1"/><stop offset=".167" stop-color="#3900bc"/><stop offset=".333" stop-color="#3c00a3"/><stop offset=".417" stop-color="#3e0095"/><stop offset=".5" stop-color="#400085"/><stop offset=".583" stop-color="#410072"/><stop offset=".667" stop-color="#43005b"/><stop offset=".708" stop-color="#44004e"/><stop offset=".75" stop-color="#45003e"/><stop offset=".792" stop-color="#45002d"/><stop offset=".812" stop-color="#46002a"/><stop offset=".833" stop-color="#46002a"/><stop offset=".854" stop-color="#47002a"/><stop offset=".875" stop-color="#47002a"/><stop offset=".887" stop-color="#470027"/><stop offset=".9" stop-color="#48001f"/><stop offset=".908" stop-color="#4a0017"/><stop offset=".917" stop-color="#4d000c"/><stop offset=".925" stop-color="#500001"/><stop offset=".933" stop-color="#540000"/><stop offset=".942" stop-color="#570000"/><stop offset=".95" stop-color="#590000"/><stop offset=".958" stop-color="#5a0000"/><stop offset=".967" stop-color="#5b0000"/><stop offset=".975" stop-color="#5e0000"/><stop offset=".983" stop-color="#5f0000"/><stop offset=".992" stop-color="#670000"/><stop offset="1" stop-color="#6f0000"/></linearGradient><linearGradient id="a57" gradientUnits="userSpaceOnUse" x1="0" y1="39" x2="0" y2="189"><stop offset="0" stop-color="#3600d1"/><stop offset=".167" stop-color="#3900bc"/><stop offset=".333" stop-color="#3c00a3"/><stop offset=".417" stop-color="#3e0095"/><stop offset=".5" stop-color="#400084"/><stop offset=".583" stop-color="#410072"/><stop offset=".667" stop-color="#43005b"/><stop offset=".708" stop-color="#44004e"/><stop offset=".75" stop-color="#45003e"/><stop offset=".792" stop-color="#45002c"/><stop offset=".812" stop-color="#46002a"/><stop offset=".833" stop-color="#46002a"/><stop offset=".854" stop-color="#47002a"/><stop offset=".875" stop-color="#47002a"/><stop offset=".887" stop-color="#470027"/><stop offset=".9" stop-color="#49001f"/><stop offset=".908" stop-color="#4b0017"/><stop offset=".917" stop-color="#4e000c"/><stop offset=".925" stop-color="#520001"/><stop offset=".933" stop-color="#560000"/><stop offset=".942" stop-color="#580000"/><stop offset=".95" stop-color="#5a0000"/><stop offset=".958" stop-color="#5a0000"/><stop offset=".967" stop-color="#5b0000"/><stop offset=".975" stop-color="#5e0000"/><stop offset=".983" stop-color="#5f0000"/><stop offset=".992" stop-color="#670000"/><stop offset="1" stop-color="#6f0000"/></linearGradient><linearGradient id="a58" gradientUnits="userSpaceOnUse" x1="0" y1="39" x2="0" y2="189"><stop offset="0" stop-color="#3600d1"/><stop offset=".167" stop-color="#3900bc"/><stop offset=".333" stop-color="#3c00a3"/><stop offset=".417" stop-color="#3e0095"/><stop offset=".5" stop-color="#400084"/><stop offset=".583" stop-color="#410071"/><stop offset=".667" stop-color="#43005b"/><stop offset=".708" stop-color="#44004d"/><stop offset=".75" stop-color="#45003e"/><stop offset=".792" stop-color="#45002c"/><stop offset=".812" stop-color="#46002a"/><stop offset=".833" stop-color="#46002a"/><stop offset=".854" stop-color="#47002a"/><stop offset=".875" stop-color="#47002a"/><stop offset=".887" stop-color="#470027"/><stop offset=".9" stop-color="#4a001f"/><stop offset=".908" stop-color="#4c0017"/><stop offset=".917" stop-color="#50000c"/><stop offset=".925" stop-color="#540001"/><stop offset=".933" stop-color="#570000"/><stop offset=".942" stop-color="#590000"/><stop offset=".95" stop-color="#5a0000"/><stop offset=".958" stop-color="#5a0000"/><stop offset=".967" stop-color="#5b0000"/><stop offset=".975" stop-color="#5e0000"/><stop offset=".983" stop-color="#5f0000"/><stop offset=".992" stop-color="#670000"/><stop offset="1" stop-color="#6f0000"/></linearGradient><linearGradient id="a59" gradientUnits="userSpaceOnUse" x1="0" y1="39" x2="0" y2="189"><stop offset="0" stop-color="#3600d1"/><stop offset=".167" stop-color="#3900bc"/><stop offset=".333" stop-color="#3c00a3"/><stop offset=".417" stop-color="#3e0095"/><stop offset=".5" stop-color="#400084"/><stop offset=".583" stop-color="#410071"/><stop offset=".667" stop-color="#43005b"/><stop offset=".708" stop-color="#44004d"/><stop offset=".75" stop-color="#45003e"/><stop offset=".792" stop-color="#45002c"/><stop offset=".812" stop-color="#46002a"/><stop offset=".833" stop-color="#46002a"/><stop offset=".854" stop-color="#47002a"/><stop offset=".875" stop-color="#47002a"/><stop offset=".887" stop-color="#480027"/><stop offset=".9" stop-color="#4b001f"/><stop offset=".908" stop-color="#4e0017"/><stop offset=".917" stop-color="#52000c"/><stop offset=".925" stop-color="#550001"/><stop offset=".933" stop-color="#580000"/><stop offset=".942" stop-color="#5a0000"/><stop offset=".95" stop-color="#5a0000"/><stop offset=".958" stop-color="#5a0000"/><stop offset=".967" stop-color="#5b0000"/><stop offset=".975" stop-color="#5e0000"/><stop offset=".983" stop-color="#5f0000"/><stop offset=".992" stop-color="#670000"/><stop offset="1" stop-color="#6f0000"/></linearGradient><linearGradient id="a60" gradientUnits="userSpaceOnUse" x1="0" y1="39" x2="0" y2="189"><stop offset="0" stop-color="#3600d1"/><stop offset=".167" stop-color="#3900bc"/><stop offset=".333" stop-color="#3c00a3"/><stop offset=".417" stop-color="#3e0095"/><stop offset=".5" stop-color="#400084"/><stop offset=".583" stop-color="#410071"/><stop offset=".667" stop-color="#43005b"/><stop offset=".708" stop-color="#44004d"/><stop offset=".75" stop-color="#45003e"/><stop offset=".792" stop-color="#45002c"/><stop offset=".812" stop-color="#46002a"/><stop offset=".833" stop-color="#46002a"/><stop offset=".854" stop-color="#47002a"/><stop offset=".875" stop-color="#47002a"/><stop offset=".887" stop-color="#480027"/><stop offset=".9" stop-color="#4c001f"/><stop offset=".908" stop-color="#500017"/><stop offset=".917" stop-color="#53000c"/><stop offset=".925" stop-color="#560001"/><stop offset=".933" stop-color="#590000"/><stop offset=".942" stop-color="#5a0000"/><stop offset=".95" stop-color="#5a0000"/><stop offset=".958" stop-color="#5a0000"/><stop offset=".967" stop-color="#5b0000"/><stop offset=".975" stop-color="#5e0000"/><stop offset=".983" stop-color="#5f0000"/><stop offset=".992" stop-color="#620000"/><stop offset="1" stop-color="#640000"/></linearGradient><linearGradient id="a61" gradientUnits="userSpaceOnUse" x1="0" y1="39" x2="0" y2="189"><stop offset="0" stop-color="#3600d1"/><stop offset=".167" stop-color="#3900bc"/><stop offset=".333" stop-color="#3c00a3"/><stop offset=".417" stop-color="#3e0094"/><stop offset=".5" stop-color="#400084"/><stop offset=".583" stop-color="#410071"/><stop offset=".667" stop-color="#43005a"/><stop offset=".708" stop-color="#44004d"/><stop offset=".75" stop-color="#45003e"/><stop offset=".792" stop-color="#45002c"/><stop offset=".812" stop-color="#46002a"/><stop offset=".833" stop-color="#46002a"/><stop offset=".854" stop-color="#47002a"/><stop offset=".875" stop-color="#47002a"/><stop offset=".887" stop-color="#4b0027"/><stop offset=".9" stop-color="#50001f"/><stop offset=".908" stop-color="#530017"/><stop offset=".917" stop-color="#57000c"/><stop offset=".925" stop-color="#590001"/><stop offset=".933" stop-color="#5a0000"/><stop offset=".942" stop-color="#5a0000"/><stop offset=".95" stop-color="#5a0000"/><stop offset=".958" stop-color="#5a0000"/><stop offset=".967" stop-color="#5b0000"/><stop offset=".975" stop-color="#5e0000"/><stop offset=".983" stop-color="#5f0000"/><stop offset=".992" stop-color="#5f0000"/><stop offset="1" stop-color="#5f0000"/></linearGradient><linearGradient id="a62" gradientUnits="userSpaceOnUse" x1="0" y1="39" x2="0" y2="189"><stop offset="0" stop-color="#3600d1"/><stop offset=".167" stop-color="#3900bc"/><stop offset=".333" stop-color="#3c00a3"/><stop offset=".417" stop-color="#3e0094"/><stop offset=".5" stop-color="#400084"/><stop offset=".583" stop-color="#410071"/><stop offset=".667" stop-color="#43005a"/><stop offset=".708" stop-color="#44004d"/><stop offset=".75" stop-color="#45003d"/><stop offset=".792" stop-color="#45002c"/><stop offset=".812" stop-color="#46002a"/><stop offset=".833" stop-color="#46002a"/><stop offset=".854" stop-color="#47002a"/><stop offset=".875" stop-color="#49002a"/><stop offset=".887" stop-color="#4e0027"/><stop offset=".9" stop-color="#54001f"/><stop offset=".908" stop-color="#570017"/><stop offset=".917" stop-color="#59000c"/><stop offset=".925" stop-color="#5a0001"/><stop offset=".933" stop-color="#5a0000"/><stop offset=".942" stop-color="#5a0000"/><stop offset=".95" stop-color="#5a0000"/><stop offset=".958" stop-color="#5a0000"/><stop offset=".967" stop-color="#5b0000"/><stop offset=".975" stop-color="#5e0000"/><stop offset=".983" stop-color="#5f0000"/><stop offset=".992" stop-color="#5f0000"/><stop offset="1" stop-color="#5f0000"/></linearGradient><linearGradient id="a63" gradientUnits="userSpaceOnUse" x1="0" y1="39" x2="0" y2="189"><stop offset="0" stop-color="#3600d1"/><stop offset=".167" stop-color="#3900bc"/><stop offset=".333" stop-color="#3c00a3"/><stop offset=".417" stop-color="#3e0094"/><stop offset=".5" stop-color="#400084"/><stop offset=".583" stop-color="#410071"/><stop offset=".667" stop-color="#43005a"/><stop offset=".708" stop-color="#44004d"/><stop offset=".75" stop-color="#45003d"/><stop offset=".792" stop-color="#45002b"/><stop offset=".812" stop-color="#46002a"/><stop offset=".833" stop-color="#46002a"/><stop offset=".854" stop-color="#47002a"/><stop offset=".875" stop-color="#4c002a"/><stop offset=".887" stop-color="#520027"/><stop offset=".9" stop-color="#57001f"/><stop offset=".908" stop-color="#590017"/><stop offset=".917" stop-color="#5a000c"/><stop offset=".925" stop-color="#5a0001"/><stop offset=".933" stop-color="#5a0000"/><stop offset=".942" stop-color="#5a0000"/><stop offset=".95" stop-color="#5a0000"/><stop offset=".958" stop-color="#5a0000"/><stop offset=".967" stop-color="#5b0000"/><stop offset=".975" stop-color="#5e0000"/><stop offset=".983" stop-color="#5f0000"/><stop offset=".992" stop-color="#650000"/><stop offset="1" stop-color="#6b0000"/></linearGradient><linearGradient id="a64" gradientUnits="userSpaceOnUse" x1="0" y1="39" x2="0" y2="189"><stop offset="0" stop-color="#3600d1"/><stop offset=".167" stop-color="#3900bc"/><stop offset=".333" stop-color="#3c00a3"/><stop offset=".417" stop-color="#3e0094"/><stop offset=".5" stop-color="#400084"/><stop offset=".583" stop-color="#410071"/><stop offset=".667" stop-color="#43005a"/><stop offset=".708" stop-color="#44004d"/><stop offset=".75" stop-color="#45003d"/><stop offset=".792" stop-color="#45002b"/><stop offset=".812" stop-color="#46002a"/><stop offset=".833" stop-color="#46002a"/><stop offset=".854" stop-color="#47002a"/><stop offset=".875" stop-color="#4d002a"/><stop offset=".887" stop-color="#520027"/><stop offset=".9" stop-color="#57001f"/><stop offset=".908" stop-color="#590017"/><stop offset=".917" stop-color="#5a000c"/><stop offset=".925" stop-color="#5a0001"/><stop offset=".933" stop-color="#5a0000"/><stop offset=".942" stop-color="#5a0000"/><stop offset=".95" stop-color="#5a0000"/><stop offset=".958" stop-color="#5a0000"/><stop offset=".967" stop-color="#5b0000"/><stop offset=".975" stop-color="#5e0000"/><stop offset=".983" stop-color="#5f0000"/><stop offset=".992" stop-color="#670000"/><stop offset="1" stop-color="#6f0000"/></linearGradient><linearGradient id="a65" gradientUnits="userSpaceOnUse" x1="0" y1="39" x2="0" y2="189"><stop offset="0" stop-color="#3600d1"/><stop offset=".167" stop-color="#3900bc"/><stop offset=".333" stop-color="#3c00a3"/><stop offset=".417" stop-color="#3e0094"/><stop offset=".5" stop-color="#400084"/><stop offset=".583" stop-color="#410071"/><stop offset=".667" stop-color="#43005a"/><stop offset=".708" stop-color="#44004c"/><stop offset=".75" stop-color="#45003d"/><stop offset=".792" stop-color="#45002b"/><stop offset=".812" stop-color="#46002a"/><stop offset=".833" stop-color="#46002a"/><stop offset=".854" stop-color="#47002a"/><stop offset=".875" stop-color="#4d002a"/><stop offset=".887" stop-color="#530027"/><stop offset=".9" stop-color="#58001f"/><stop offset=".908" stop-color="#590017"/><stop offset=".917" stop-color="#5a000c"/><stop offset=".925" stop-color="#5a0001"/><stop offset=".933" stop-color="#5a0000"/><stop offset=".942" stop-color="#5a0000"/><stop offset=".95" stop-color="#5a0000"/><stop offset=".958" stop-color="#5a0000"/><stop offset=".967" stop-color="#5b0000"/><stop offset=".975" stop-color="#5e0000"/><stop offset=".983" stop-color="#5f0000"/><stop offset=".992" stop-color="#670000"/><stop offset="1" stop-color="#6f0000"/></linearGradient><linearGradient id="a66" gradientUnits="userSpaceOnUse" x1="0" y1="39" x2="0" y2="189"><stop offset="0" stop-color="#3600d1"/><stop offset=".167" stop-color="#3900bc"/><stop offset=".333" stop-color="#3c00a3"/><stop offset=".417" stop-color="#3e0094"/><stop offset=".5" stop-color="#400084"/><stop offset=".583" stop-color="#410071"/><stop offset=".667" stop-color="#43005a"/><stop offset=".708" stop-color="#44004c"/><stop offset=".75" stop-color="#45003d"/><stop offset=".792" stop-color="#45002b"/><stop offset=".812" stop-color="#46002a"/><stop offset=".833" stop-color="#46002a"/><stop offset=".854" stop-color="#47002a"/><stop offset=".875" stop-color="#4e002a"/><stop offset=".887" stop-color="#530027"/><stop offset=".9" stop-color="#58001f"/><stop offset=".908" stop-color="#5a0017"/><stop offset=".917" stop-color="#5a000c"/><stop offset=".925" stop-color="#5a0001"/><stop offset=".933" stop-color="#5a0000"/><stop offset=".942" stop-color="#5a0000"/><stop offset=".95" stop-color="#5a0000"/><stop offset=".958" stop-color="#5a0000"/><stop offset=".967" stop-color="#5b0000"/><stop offset=".975" stop-color="#5e0000"/><stop offset=".983" stop-color="#5f0000"/><stop offset=".992" stop-color="#670000"/><stop offset="1" stop-color="#6f0000"/></linearGradient><linearGradient id="b0" gradientUnits="userSpaceOnUse" x1="0" y1="229" x2="0" y2="379"><stop offset="0" stop-color="#3600d9"/><stop offset=".167" stop-color="#3900c7"/><stop offset=".333" stop-color="#3c00b2"/><stop offset=".417" stop-color="#3e00a6"/><stop offset=".5" stop-color="#400098"/><stop offset=".583" stop-color="#410088"/><stop offset=".667" stop-color="#430075"/><stop offset=".708" stop-color="#44006a"/><stop offset=".75" stop-color="#45005d"/><stop offset=".792" stop-color="#45004e"/><stop offset=".812" stop-color="#460046"/><stop offset=".833" stop-color="#46003c"/><stop offset=".854" stop-color="#470031"/><stop offset=".875" stop-color="#47002a"/><stop offset=".887" stop-color="#4b0027"/><stop offset=".9" stop-color="#51001f"/><stop offset=".908" stop-color="#560017"/><stop offset=".917" stop-color="#5d000c"/><stop offset=".925" stop-color="#6c0001"/><stop offset=".933" stop-color="#720000"/><stop offset=".942" stop-color="#660000"/><stop offset=".95" stop-color="#5e0000"/><stop offset=".958" stop-color="#570000"/><stop offset=".967" stop-color="#570000"/><stop offset=".975" stop-color="#570000"/><stop offset=".983" stop-color="#570000"/><stop offset=".992" stop-color="#570000"/><stop offset="1" stop-color="#5d0000"/></linearGradient><linearGradient id="b1" gradientUnits="userSpaceOnUse" x1="0" y1="229" x2="0" y2="379"><stop offset="0" stop-color="#3600db"/><stop offset=".167" stop-color="#3900c9"/><stop offset=".333" stop-color="#3c00b4"/><stop offset=".417" stop-color="#3e00a8"/><stop offset=".5" stop-color="#40009a"/><stop offset=".583" stop-color="#41008a"/><stop offset=".667" stop-color="#430077"/><stop offset=".708" stop-color="#44006c"/><stop offset=".75" stop-color="#45005f"/><stop offset=".792" stop-color="#450050"/><stop offset=".812" stop-color="#460048"/><stop offset=".833" stop-color="#46003e"/><stop offset=".854" stop-color="#470033"/><stop offset=".875" stop-color="#47002a"/><stop offset=".887" stop-color="#4b0027"/><stop offset=".9" stop-color="#51001f"/><stop offset=".908" stop-color="#550017"/><stop offset=".917" stop-color="#5c000c"/><stop offset=".925" stop-color="#680001"/><stop offset=".933" stop-color="#720000"/><stop offset=".942" stop-color="#690000"/><stop offset=".95" stop-color="#5f0000"/><stop offset=".958" stop-color="#580000"/><stop offset=".967" stop-color="#570000"/><stop offset=".975" stop-color="#570000"/><stop offset=".983" stop-color="#570000"/><stop offset=".992" stop-color="#570000"/><stop offset="1" stop-color="#5d0000"/></linearGradient><linearGradient id="b2" gradientUnits="userSpaceOnUse" x1="0" y1="229" x2="0" y2="379"><stop offset="0" stop-color="#3600de"/><stop offset=".167" stop-color="#3900cc"/><stop offset=".333" stop-color="#3c00b7"/><stop offset=".417" stop-color="#3e00ab"/><stop offset=".5" stop-color="#40009d"/><stop offset=".583" stop-color="#41008d"/><stop offset=".667" stop-color="#43007a"/><stop offset=".708" stop-color="#44006f"/><stop offset=".75" stop-color="#450063"/><stop offset=".792" stop-color="#450054"/><stop offset=".812" stop-color="#46004b"/><stop offset=".833" stop-color="#460042"/><stop offset=".854" stop-color="#470037"/><stop offset=".875" stop-color="#47002b"/><stop offset=".887" stop-color="#4b0027"/><stop offset=".9" stop-color="#51001f"/><stop offset=".908" stop-color="#550017"/><stop offset=".917" stop-color="#5a000c"/><stop offset=".925" stop-color="#630001"/><stop offset=".933" stop-color="#6f0000"/><stop offset=".942" stop-color="#6d0000"/><stop offset=".95" stop-color="#610000"/><stop offset=".958" stop-color="#5b0000"/><stop offset=".967" stop-color="#570000"/><stop offset=".975" stop-color="#570000"/><stop offset=".983" stop-color="#570000"/><stop offset=".992" stop-color="#570000"/><stop offset="1" stop-color="#5d0000"/></linearGradient><linearGradient id="b3" gradientUnits="userSpaceOnUse" x1="0" y1="229" x2="0" y2="379"><stop offset="0" stop-color="#3600e0"/><stop offset=".167" stop-color="#3900cf"/><stop offset=".333" stop-color="#3c00ba"/><stop offset=".417" stop-color="#3e00ae"/><stop offset=".5" stop-color="#4000a0"/><stop offset=".583" stop-color="#410091"/><stop offset=".667" stop-color="#43007e"/><stop offset=".708" stop-color="#440073"/><stop offset=".75" stop-color="#450066"/><stop offset=".792" stop-color="#450058"/><stop offset=".812" stop-color="#46004f"/><stop offset=".833" stop-color="#460046"/><stop offset=".854" stop-color="#47003b"/><stop offset=".875" stop-color="#47002f"/><stop offset=".887" stop-color="#4a0027"/><stop offset=".9" stop-color="#50001f"/><stop offset=".908" stop-color="#550017"/><stop offset=".917" stop-color="#59000c"/><stop offset=".925" stop-color="#5f0001"/><stop offset=".933" stop-color="#6a0000"/><stop offset=".942" stop-color="#6f0000"/><stop offset=".95" stop-color="#650000"/><stop offset=".958" stop-color="#5e0000"/><stop offset=".967" stop-color="#570000"/><stop offset=".975" stop-color="#570000"/><stop offset=".983" stop-color="#570000"/><stop offset=".992" stop-color="#570000"/><stop offset="1" stop-color="#5d0000"/></linearGradient><linearGradient id="b4" gradientUnits="userSpaceOnUse" x1="0" y1="229" x2="0" y2="379"><stop offset="0" stop-color="#3600e3"/><stop offset=".167" stop-color="#3900d2"/><stop offset=".333" stop-color="#3c00bd"/><stop offset=".417" stop-color="#3e00b1"/><stop offset=".5" stop-color="#4000a4"/><stop offset=".583" stop-color="#410094"/><stop offset=".667" stop-color="#430081"/><stop offset=".708" stop-color="#440077"/><stop offset=".75" stop-color="#45006a"/><stop offset=".792" stop-color="#45005b"/><stop offset=".812" stop-color="#460053"/><stop offset=".833" stop-color="#46004a"/><stop offset=".854" stop-color="#47003f"/><stop offset=".875" stop-color="#470033"/><stop offset=".887" stop-color="#4a0027"/><stop offset=".9" stop-color="#50001f"/><stop offset=".908" stop-color="#540017"/><stop offset=".917" stop-color="#58000c"/><stop offset=".925" stop-color="#5d0001"/><stop offset=".933" stop-color="#650000"/><stop offset=".942" stop-color="#6d0000"/><stop offset=".95" stop-color="#680000"/><stop offset=".958" stop-color="#5f0000"/><stop offset=".967" stop-color="#590000"/><stop offset=".975" stop-color="#570000"/><stop offset=".983" stop-color="#570000"/><stop offset=".992" stop-color="#570000"/><stop offset="1" stop-color="#5d0000"/></linearGradient><linearGradient id="b5" gradientUnits="userSpaceOnUse" x1="0" y1="229" x2="0" y2="379"><stop offset="0" stop-color="#3600e6"/><stop offset=".167" stop-color="#3900d5"/><stop offset=".333" stop-color="#3c00c0"/><stop offset=".417" stop-color="#3e00b4"/><stop offset=".5" stop-color="#4000a7"/><stop offset=".583" stop-color="#410098"/><stop offset=".667" stop-color="#430085"/><stop offset=".708" stop-color="#44007a"/><stop offset=".75" stop-color="#45006e"/><stop offset=".792" stop-color="#45005f"/><stop offset=".812" stop-color="#460057"/><stop offset=".833" stop-color="#46004e"/><stop offset=".854" stop-color="#470043"/><stop offset=".875" stop-color="#470037"/><stop offset=".887" stop-color="#4a002c"/><stop offset=".9" stop-color="#50001f"/><stop offset=".908" stop-color="#540017"/><stop offset=".917" stop-color="#58000c"/><stop offset=".925" stop-color="#5b0001"/><stop offset=".933" stop-color="#610000"/><stop offset=".942" stop-color="#690000"/><stop offset=".95" stop-color="#6a0000"/><stop offset=".958" stop-color="#620000"/><stop offset=".967" stop-color="#5c0000"/><stop offset=".975" stop-color="#570000"/><stop offset=".983" stop-color="#570000"/><stop offset=".992" stop-color="#570000"/><stop offset="1" stop-color="#5d0000"/></linearGradient><linearGradient id="b6" gradientUnits="userSpaceOnUse" x1="0" y1="229" x2="0" y2="379"><stop offset="0" stop-color="#3600e9"/><stop offset=".167" stop-color="#3900d8"/><stop offset=".333" stop-color="#3c00c4"/><stop offset=".417" stop-color="#3e00b8"/><stop offset=".5" stop-color="#4000ab"/><stop offset=".583" stop-color="#41009b"/><stop offset=".667" stop-color="#430089"/><stop offset=".708" stop-color="#44007e"/><stop offset=".75" stop-color="#450071"/><stop offset=".792" stop-color="#450063"/><stop offset=".812" stop-color="#46005b"/><stop offset=".833" stop-color="#460052"/><stop offset=".854" stop-color="#470047"/><stop offset=".875" stop-color="#47003b"/><stop offset=".887" stop-color="#4a0030"/><stop offset=".9" stop-color="#4f0021"/><stop offset=".908" stop-color="#540017"/><stop offset=".917" stop-color="#58000c"/><stop offset=".925" stop-color="#5b0001"/><stop offset=".933" stop-color="#5e0000"/><stop offset=".942" stop-color="#640000"/><stop offset=".95" stop-color="#6a0000"/><stop offset=".958" stop-color="#650000"/><stop offset=".967" stop-color="#5e0000"/><stop offset=".975" stop-color="#590000"/><stop offset=".983" stop-color="#570000"/><stop offset=".992" stop-color="#570000"/><stop offset="1" stop-color="#5d0000"/></linearGradient><linearGradient id="b7" gradientUnits="userSpaceOnUse" x1="0" y1="229" x2="0" y2="379"><stop offset="0" stop-color="#3600ee"/><stop offset=".167" stop-color="#3900dd"/><stop offset=".333" stop-color="#3c00c8"/><stop offset=".417" stop-color="#3e00bd"/><stop offset=".5" stop-color="#4000af"/><stop offset=".583" stop-color="#4100a0"/><stop offset=".667" stop-color="#43008e"/><stop offset=".708" stop-color="#440083"/><stop offset=".75" stop-color="#450077"/><stop offset=".792" stop-color="#450068"/><stop offset=".812" stop-color="#460060"/><stop offset=".833" stop-color="#460057"/><stop offset=".854" stop-color="#47004d"/><stop offset=".875" stop-color="#470041"/><stop offset=".887" stop-color="#4a0036"/><stop offset=".9" stop-color="#4f0027"/><stop offset=".908" stop-color="#53001c"/><stop offset=".917" stop-color="#570010"/><stop offset=".925" stop-color="#5b0004"/><stop offset=".933" stop-color="#5c0000"/><stop offset=".942" stop-color="#5e0000"/><stop offset=".95" stop-color="#620000"/><stop offset=".958" stop-color="#650000"/><stop offset=".967" stop-color="#610000"/><stop offset=".975" stop-color="#5f0000"/><stop offset=".983" stop-color="#670000"/><stop offset=".992" stop-color="#6b0000"/><stop offset="1" stop-color="#6b0000"/></linearGradient><linearGradient id="b8" gradientUnits="userSpaceOnUse" x1="0" y1="229" x2="0" y2="379"><stop offset="0" stop-color="#3600f2"/><stop offset=".167" stop-color="#3900e1"/><stop offset=".333" stop-color="#3c00cd"/><stop offset=".417" stop-color="#3e00c1"/><stop offset=".5" stop-color="#4000b4"/><stop offset=".583" stop-color="#4100a5"/><stop offset=".667" stop-color="#430093"/><stop offset=".708" stop-color="#440088"/><stop offset=".75" stop-color="#45007c"/><stop offset=".792" stop-color="#45006e"/><stop offset=".812" stop-color="#460066"/><stop offset=".833" stop-color="#46005d"/><stop offset=".854" stop-color="#470052"/><stop offset=".875" stop-color="#470047"/><stop offset=".887" stop-color="#49003d"/><stop offset=".9" stop-color="#4d002f"/><stop offset=".908" stop-color="#510024"/><stop offset=".917" stop-color="#550018"/><stop offset=".925" stop-color="#58000d"/><stop offset=".933" stop-color="#5a0003"/><stop offset=".942" stop-color="#590000"/><stop offset=".95" stop-color="#590000"/><stop offset=".958" stop-color="#5b0000"/><stop offset=".967" stop-color="#5c0000"/><stop offset=".975" stop-color="#5e0000"/><stop offset=".983" stop-color="#690000"/><stop offset=".992" stop-color="#700000"/><stop offset="1" stop-color="#710000"/></linearGradient><linearGradient id="b9" gradientUnits="userSpaceOnUse" x1="0" y1="229" x2="0" y2="379"><stop offset="0" stop-color="#3600f7"/><stop offset=".167" stop-color="#3900e6"/><stop offset=".333" stop-color="#3c00d2"/><stop offset=".417" stop-color="#3e00c6"/><stop offset=".5" stop-color="#4000b9"/><stop offset=".583" stop-color="#4100aa"/><stop offset=".667" stop-color="#430098"/><stop offset=".708" stop-color="#44008d"/><stop offset=".75" stop-color="#450081"/><stop offset=".792" stop-color="#450073"/><stop offset=".812" stop-color="#46006b"/><stop offset=".833" stop-color="#460062"/><stop offset=".854" stop-color="#470058"/><stop offset=".875" stop-color="#47004c"/><stop offset=".887" stop-color="#480043"/><stop offset=".9" stop-color="#4c0036"/><stop offset=".908" stop-color="#50002b"/><stop offset=".917" stop-color="#540020"/><stop offset=".925" stop-color="#570014"/><stop offset=".933" stop-color="#58000b"/><stop offset=".942" stop-color="#570002"/><stop offset=".95" stop-color="#550000"/><stop offset=".958" stop-color="#560000"/><stop offset=".967" stop-color="#580000"/><stop offset=".975" stop-color="#5a0000"/><stop offset=".983" stop-color="#5b0000"/><stop offset=".992" stop-color="#5c0000"/><stop offset="1" stop-color="#5c0000"/></linearGradient><linearGradient id="b10" gradientUnits="userSpaceOnUse" x1="0" y1="229" x2="0" y2="379"><stop offset="0" stop-color="#3600fc"/><stop offset=".167" stop-color="#3900eb"/><stop offset=".333" stop-color="#3c00d7"/><stop offset=".417" stop-color="#3e00cb"/><stop offset=".5" stop-color="#4000be"/><stop offset=".583" stop-color="#4100af"/><stop offset=".667" stop-color="#43009d"/><stop offset=".708" stop-color="#440092"/><stop offset=".75" stop-color="#450086"/><stop offset=".792" stop-color="#450078"/><stop offset=".812" stop-color="#460070"/><stop offset=".833" stop-color="#460067"/><stop offset=".854" stop-color="#47005d"/><stop offset=".875" stop-color="#470052"/><stop offset=".887" stop-color="#47004a"/><stop offset=".9" stop-color="#4b003d"/><stop offset=".908" stop-color="#4f0033"/><stop offset=".917" stop-color="#530027"/><stop offset=".925" stop-color="#56001b"/><stop offset=".933" stop-color="#580010"/><stop offset=".942" stop-color="#580006"/><stop offset=".95" stop-color="#580000"/><stop offset=".958" stop-color="#590000"/><stop offset=".967" stop-color="#5d0000"/><stop offset=".975" stop-color="#600000"/><stop offset=".983" stop-color="#620000"/><stop offset=".992" stop-color="#630000"/><stop offset="1" stop-color="#630000"/></linearGradient><linearGradient id="b11" gradientUnits="userSpaceOnUse" x1="0" y1="229" x2="0" y2="379"><stop offset="0" stop-color="#3700ff"/><stop offset=".167" stop-color="#3900ef"/><stop offset=".333" stop-color="#3c00db"/><stop offset=".417" stop-color="#3e00d0"/><stop offset=".5" stop-color="#4000c3"/><stop offset=".583" stop-color="#4100b4"/><stop offset=".667" stop-color="#4300a2"/><stop offset=".708" stop-color="#440098"/><stop offset=".75" stop-color="#45008c"/><stop offset=".792" stop-color="#45007e"/><stop offset=".812" stop-color="#460076"/><stop offset=".833" stop-color="#46006d"/><stop offset=".854" stop-color="#470063"/><stop offset=".875" stop-color="#470057"/><stop offset=".887" stop-color="#470050"/><stop offset=".9" stop-color="#480046"/><stop offset=".908" stop-color="#4b003c"/><stop offset=".917" stop-color="#500030"/><stop offset=".925" stop-color="#540023"/><stop offset=".933" stop-color="#580016"/><stop offset=".942" stop-color="#5a000a"/><stop offset=".95" stop-color="#5a0000"/><stop offset=".958" stop-color="#5c0000"/><stop offset=".967" stop-color="#600000"/><stop offset=".975" stop-color="#640000"/><stop offset=".983" stop-color="#660000"/><stop offset=".992" stop-color="#670000"/><stop offset="1" stop-color="#670000"/></linearGradient><linearGradient id="b12" gradientUnits="userSpaceOnUse" x1="0" y1="229" x2="0" y2="379"><stop offset="0" stop-color="#3b00ff"/><stop offset=".167" stop-color="#3900f4"/><stop offset=".333" stop-color="#3c00e1"/><stop offset=".417" stop-color="#3e00d5"/><stop offset=".5" stop-color="#4000c8"/><stop offset=".583" stop-color="#4100b9"/><stop offset=".667" stop-color="#4300a7"/><stop offset=".708" stop-color="#44009d"/><stop offset=".75" stop-color="#450091"/><stop offset=".792" stop-color="#450083"/><stop offset=".812" stop-color="#46007b"/><stop offset=".833" stop-color="#460072"/><stop offset=".854" stop-color="#470068"/><stop offset=".875" stop-color="#47005d"/><stop offset=".887" stop-color="#470055"/><stop offset=".9" stop-color="#47004d"/><stop offset=".908" stop-color="#490044"/><stop offset=".917" stop-color="#4e0038"/><stop offset=".925" stop-color="#53002a"/><stop offset=".933" stop-color="#58001c"/><stop offset=".942" stop-color="#5a000f"/><stop offset=".95" stop-color="#5b0004"/><stop offset=".958" stop-color="#5c0000"/><stop offset=".967" stop-color="#600000"/><stop offset=".975" stop-color="#650000"/><stop offset=".983" stop-color="#680000"/><stop offset=".992" stop-color="#680000"/><stop offset="1" stop-color="#680000"/></linearGradient><linearGradient id="b13" gradientUnits="userSpaceOnUse" x1="0" y1="229" x2="0" y2="379"><stop offset="0" stop-color="#4000ff"/><stop offset=".167" stop-color="#3900fa"/><stop offset=".333" stop-color="#3c00e6"/><stop offset=".417" stop-color="#3e00db"/><stop offset=".5" stop-color="#4000ce"/><stop offset=".583" stop-color="#4100bf"/><stop offset=".667" stop-color="#4300ad"/><stop offset=".708" stop-color="#4400a2"/><stop offset=".75" stop-color="#450097"/><stop offset=".792" stop-color="#450089"/><stop offset=".812" stop-color="#460081"/><stop offset=".833" stop-color="#460078"/><stop offset=".854" stop-color="#47006e"/><stop offset=".875" stop-color="#470062"/><stop offset=".887" stop-color="#47005b"/><stop offset=".9" stop-color="#470052"/><stop offset=".908" stop-color="#49004a"/><stop offset=".917" stop-color="#4d003e"/><stop offset=".925" stop-color="#520031"/><stop offset=".933" stop-color="#570022"/><stop offset=".942" stop-color="#5a0015"/><stop offset=".95" stop-color="#5b000a"/><stop offset=".958" stop-color="#5c0000"/><stop offset=".967" stop-color="#600000"/><stop offset=".975" stop-color="#650000"/><stop offset=".983" stop-color="#680000"/><stop offset=".992" stop-color="#680000"/><stop offset="1" stop-color="#680000"/></linearGradient><linearGradient id="b14" gradientUnits="userSpaceOnUse" x1="0" y1="229" x2="0" y2="379"><stop offset="0" stop-color="#4400ff"/><stop offset=".167" stop-color="#3900ff"/><stop offset=".333" stop-color="#3c00eb"/><stop offset=".417" stop-color="#3e00e0"/><stop offset=".5" stop-color="#4000d3"/><stop offset=".583" stop-color="#4100c4"/><stop offset=".667" stop-color="#4300b2"/><stop offset=".708" stop-color="#4400a8"/><stop offset=".75" stop-color="#45009c"/><stop offset=".792" stop-color="#45008e"/><stop offset=".812" stop-color="#460086"/><stop offset=".833" stop-color="#46007d"/><stop offset=".854" stop-color="#470073"/><stop offset=".875" stop-color="#470068"/><stop offset=".887" stop-color="#470060"/><stop offset=".9" stop-color="#470058"/><stop offset=".908" stop-color="#490050"/><stop offset=".917" stop-color="#4c0045"/><stop offset=".925" stop-color="#520037"/><stop offset=".933" stop-color="#570029"/><stop offset=".942" stop-color="#5a001b"/><stop offset=".95" stop-color="#5b000f"/><stop offset=".958" stop-color="#5c0000"/><stop offset=".967" stop-color="#600000"/><stop offset=".975" stop-color="#650000"/><stop offset=".983" stop-color="#680000"/><stop offset=".992" stop-color="#680000"/><stop offset="1" stop-color="#680000"/></linearGradient><linearGradient id="b15" gradientUnits="userSpaceOnUse" x1="0" y1="229" x2="0" y2="379"><stop offset="0" stop-color="#4800ff"/><stop offset=".167" stop-color="#3e00ff"/><stop offset=".333" stop-color="#3c00f0"/><stop offset=".417" stop-color="#3e00e5"/><stop offset=".5" stop-color="#4000d8"/><stop offset=".583" stop-color="#4100c9"/><stop offset=".667" stop-color="#4300b7"/><stop offset=".708" stop-color="#4400ad"/><stop offset=".75" stop-color="#4500a1"/><stop offset=".792" stop-color="#450093"/><stop offset=".812" stop-color="#46008b"/><stop offset=".833" stop-color="#460082"/><stop offset=".854" stop-color="#470078"/><stop offset=".875" stop-color="#47006d"/><stop offset=".887" stop-color="#470065"/><stop offset=".9" stop-color="#47005d"/><stop offset=".908" stop-color="#480055"/><stop offset=".917" stop-color="#4c004a"/><stop offset=".925" stop-color="#51003d"/><stop offset=".933" stop-color="#56002e"/><stop offset=".942" stop-color="#5a0020"/><stop offset=".95" stop-color="#5b0014"/><stop offset=".958" stop-color="#5c0005"/><stop offset=".967" stop-color="#600000"/><stop offset=".975" stop-color="#650000"/><stop offset=".983" stop-color="#680000"/><stop offset=".992" stop-color="#680000"/><stop offset="1" stop-color="#680000"/></linearGradient><linearGradient id="b16" gradientUnits="userSpaceOnUse" x1="0" y1="229" x2="0" y2="379"><stop offset="0" stop-color="#4c00ff"/><stop offset=".167" stop-color="#4200ff"/><stop offset=".333" stop-color="#3c00f5"/><stop offset=".417" stop-color="#3e00ea"/><stop offset=".5" stop-color="#4000dd"/><stop offset=".583" stop-color="#4100ce"/><stop offset=".667" stop-color="#4300bc"/><stop offset=".708" stop-color="#4400b2"/><stop offset=".75" stop-color="#4500a6"/><stop offset=".792" stop-color="#450098"/><stop offset=".812" stop-color="#460090"/><stop offset=".833" stop-color="#460087"/><stop offset=".854" stop-color="#47007d"/><stop offset=".875" stop-color="#470072"/><stop offset=".887" stop-color="#47006a"/><stop offset=".9" stop-color="#470062"/><stop offset=".908" stop-color="#48005b"/><stop offset=".917" stop-color="#4b0050"/><stop offset=".925" stop-color="#500042"/><stop offset=".933" stop-color="#550034"/><stop offset=".942" stop-color="#590026"/><stop offset=".95" stop-color="#5b0019"/><stop offset=".958" stop-color="#5c000a"/><stop offset=".967" stop-color="#600000"/><stop offset=".975" stop-color="#640000"/><stop offset=".983" stop-color="#660000"/><stop offset=".992" stop-color="#670000"/><stop offset="1" stop-color="#670000"/></linearGradient><linearGradient id="b17" gradientUnits="userSpaceOnUse" x1="0" y1="229" x2="0" y2="379"><stop offset="0" stop-color="#5000ff"/><stop offset=".167" stop-color="#4500ff"/><stop offset=".333" stop-color="#3c00fa"/><stop offset=".417" stop-color="#3e00ee"/><stop offset=".5" stop-color="#4000e1"/><stop offset=".583" stop-color="#4100d2"/><stop offset=".667" stop-color="#4300c1"/><stop offset=".708" stop-color="#4400b6"/><stop offset=".75" stop-color="#4500aa"/><stop offset=".792" stop-color="#45009c"/><stop offset=".812" stop-color="#460094"/><stop offset=".833" stop-color="#46008b"/><stop offset=".854" stop-color="#470081"/><stop offset=".875" stop-color="#470076"/><stop offset=".887" stop-color="#47006e"/><stop offset=".9" stop-color="#470066"/><stop offset=".908" stop-color="#48005f"/><stop offset=".917" stop-color="#4b0054"/><stop offset=".925" stop-color="#500047"/><stop offset=".933" stop-color="#550039"/><stop offset=".942" stop-color="#59002a"/><stop offset=".95" stop-color="#5b001d"/><stop offset=".958" stop-color="#5c000f"/><stop offset=".967" stop-color="#5f0000"/><stop offset=".975" stop-color="#620000"/><stop offset=".983" stop-color="#640000"/><stop offset=".992" stop-color="#640000"/><stop offset="1" stop-color="#640000"/></linearGradient><linearGradient id="b18" gradientUnits="userSpaceOnUse" x1="0" y1="229" x2="0" y2="379"><stop offset="0" stop-color="#5100ff"/><stop offset=".167" stop-color="#4700ff"/><stop offset=".333" stop-color="#3c00fb"/><stop offset=".417" stop-color="#3e00f0"/><stop offset=".5" stop-color="#4000e3"/><stop offset=".583" stop-color="#4100d4"/><stop offset=".667" stop-color="#4300c2"/><stop offset=".708" stop-color="#4400b8"/><stop offset=".75" stop-color="#4500ac"/><stop offset=".792" stop-color="#45009e"/><stop offset=".812" stop-color="#460096"/><stop offset=".833" stop-color="#46008d"/><stop offset=".854" stop-color="#470083"/><stop offset=".875" stop-color="#470078"/><stop offset=".887" stop-color="#470070"/><stop offset=".9" stop-color="#470068"/><stop offset=".908" stop-color="#480061"/><stop offset=".917" stop-color="#4b0056"/><stop offset=".925" stop-color="#500049"/><stop offset=".933" stop-color="#55003a"/><stop offset=".942" stop-color="#59002c"/><stop offset=".95" stop-color="#5b001f"/><stop offset=".958" stop-color="#5c0011"/><stop offset=".967" stop-color="#5e0000"/><stop offset=".975" stop-color="#600000"/><stop offset=".983" stop-color="#620000"/><stop offset=".992" stop-color="#620000"/><stop offset="1" stop-color="#620000"/></linearGradient><linearGradient id="b19" gradientUnits="userSpaceOnUse" x1="0" y1="229" x2="0" y2="379"><stop offset="0" stop-color="#5300ff"/><stop offset=".167" stop-color="#4800ff"/><stop offset=".333" stop-color="#3c00fd"/><stop offset=".417" stop-color="#3e00f2"/><stop offset=".5" stop-color="#4000e5"/><stop offset=".583" stop-color="#4100d6"/><stop offset=".667" stop-color="#4300c4"/><stop offset=".708" stop-color="#4400ba"/><stop offset=".75" stop-color="#4500ae"/><stop offset=".792" stop-color="#4500a0"/><stop offset=".812" stop-color="#460098"/><stop offset=".833" stop-color="#46008f"/><stop offset=".854" stop-color="#470085"/><stop offset=".875" stop-color="#47007a"/><stop offset=".887" stop-color="#470072"/><stop offset=".9" stop-color="#470069"/><stop offset=".908" stop-color="#480063"/><stop offset=".917" stop-color="#4b0058"/><stop offset=".925" stop-color="#50004b"/><stop offset=".933" stop-color="#55003c"/><stop offset=".942" stop-color="#59002e"/><stop offset=".95" stop-color="#5b0021"/><stop offset=".958" stop-color="#5c0013"/><stop offset=".967" stop-color="#5e0001"/><stop offset=".975" stop-color="#600000"/><stop offset=".983" stop-color="#610000"/><stop offset=".992" stop-color="#610000"/><stop offset="1" stop-color="#610000"/></linearGradient><linearGradient id="b20" gradientUnits="userSpaceOnUse" x1="0" y1="229" x2="0" y2="379"><stop offset="0" stop-color="#5300ff"/><stop offset=".167" stop-color="#4800ff"/><stop offset=".333" stop-color="#3c00fd"/><stop offset=".417" stop-color="#3e00f2"/><stop offset=".5" stop-color="#4000e5"/><stop offset=".583" stop-color="#4100d6"/><stop offset=".667" stop-color="#4300c4"/><stop offset=".708" stop-color="#4400ba"/><stop offset=".75" stop-color="#4500ae"/><stop offset=".792" stop-color="#4500a0"/><stop offset=".812" stop-color="#460098"/><stop offset=".833" stop-color="#46008f"/><stop offset=".854" stop-color="#470085"/><stop offset=".875" stop-color="#470079"/><stop offset=".887" stop-color="#470072"/><stop offset=".9" stop-color="#470069"/><stop offset=".908" stop-color="#480062"/><stop offset=".917" stop-color="#4b0058"/><stop offset=".925" stop-color="#50004b"/><stop offset=".933" stop-color="#55003c"/><stop offset=".942" stop-color="#59002e"/><stop offset=".95" stop-color="#5b0021"/><stop offset=".958" stop-color="#5c0013"/><stop offset=".967" stop-color="#5d0001"/><stop offset=".975" stop-color="#5f0000"/><stop offset=".983" stop-color="#610000"/><stop offset=".992" stop-color="#610000"/><stop offset="1" stop-color="#610000"/></linearGradient><linearGradient id="b21" gradientUnits="userSpaceOnUse" x1="0" y1="229" x2="0" y2="379"><stop offset="0" stop-color="#5100ff"/><stop offset=".167" stop-color="#4700ff"/><stop offset=".333" stop-color="#3c00fb"/><stop offset=".417" stop-color="#3e00f0"/><stop offset=".5" stop-color="#4000e3"/><stop offset=".583" stop-color="#4100d4"/><stop offset=".667" stop-color="#4300c2"/><stop offset=".708" stop-color="#4400b8"/><stop offset=".75" stop-color="#4500ac"/><stop offset=".792" stop-color="#45009e"/><stop offset=".812" stop-color="#460096"/><stop offset=".833" stop-color="#46008d"/><stop offset=".854" stop-color="#470083"/><stop offset=".875" stop-color="#470078"/><stop offset=".887" stop-color="#470070"/><stop offset=".9" stop-color="#470067"/><stop offset=".908" stop-color="#480061"/><stop offset=".917" stop-color="#4b0056"/><stop offset=".925" stop-color="#500049"/><stop offset=".933" stop-color="#55003a"/><stop offset=".942" stop-color="#59002c"/><stop offset=".95" stop-color="#5b001f"/><stop offset=".958" stop-color="#5c0011"/><stop offset=".967" stop-color="#5d0000"/><stop offset=".975" stop-color="#5f0000"/><stop offset=".983" stop-color="#600000"/><stop offset=".992" stop-color="#600000"/><stop offset="1" stop-color="#600000"/></linearGradient><linearGradient id="b22" gradientUnits="userSpaceOnUse" x1="0" y1="229" x2="0" y2="379"><stop offset="0" stop-color="#5000ff"/><stop offset=".167" stop-color="#4500ff"/><stop offset=".333" stop-color="#3c00f9"/><stop offset=".417" stop-color="#3e00ee"/><stop offset=".5" stop-color="#4000e1"/><stop offset=".583" stop-color="#4100d2"/><stop offset=".667" stop-color="#4300c0"/><stop offset=".708" stop-color="#4400b6"/><stop offset=".75" stop-color="#4500aa"/><stop offset=".792" stop-color="#45009c"/><stop offset=".812" stop-color="#460094"/><stop offset=".833" stop-color="#46008b"/><stop offset=".854" stop-color="#470081"/><stop offset=".875" stop-color="#470076"/><stop offset=".887" stop-color="#47006e"/><stop offset=".9" stop-color="#470066"/><stop offset=".908" stop-color="#48005f"/><stop offset=".917" stop-color="#4b0054"/><stop offset=".925" stop-color="#500047"/><stop offset=".933" stop-color="#550038"/><stop offset=".942" stop-color="#59002a"/><stop offset=".95" stop-color="#5b001d"/><stop offset=".958" stop-color="#5b000f"/><stop offset=".967" stop-color="#5d0000"/><stop offset=".975" stop-color="#5f0000"/><stop offset=".983" stop-color="#600000"/><stop offset=".992" stop-color="#600000"/><stop offset="1" stop-color="#600000"/></linearGradient><linearGradient id="b23" gradientUnits="userSpaceOnUse" x1="0" y1="229" x2="0" y2="379"><stop offset="0" stop-color="#4b00ff"/><stop offset=".167" stop-color="#4000ff"/><stop offset=".333" stop-color="#3c00f3"/><stop offset=".417" stop-color="#3e00e8"/><stop offset=".5" stop-color="#4000db"/><stop offset=".583" stop-color="#4100cc"/><stop offset=".667" stop-color="#4300ba"/><stop offset=".708" stop-color="#4400b0"/><stop offset=".75" stop-color="#4500a4"/><stop offset=".792" stop-color="#450096"/><stop offset=".812" stop-color="#46008e"/><stop offset=".833" stop-color="#460085"/><stop offset=".854" stop-color="#47007b"/><stop offset=".875" stop-color="#470070"/><stop offset=".887" stop-color="#470068"/><stop offset=".9" stop-color="#470060"/><stop offset=".908" stop-color="#480059"/><stop offset=".917" stop-color="#4b004e"/><stop offset=".925" stop-color="#500041"/><stop offset=".933" stop-color="#550032"/><stop offset=".942" stop-color="#590024"/><stop offset=".95" stop-color="#5b0017"/><stop offset=".958" stop-color="#5b0009"/><stop offset=".967" stop-color="#5d0000"/><stop offset=".975" stop-color="#5e0000"/><stop offset=".983" stop-color="#5f0000"/><stop offset=".992" stop-color="#600000"/><stop offset="1" stop-color="#600000"/></linearGradient><linearGradient id="b24" gradientUnits="userSpaceOnUse" x1="0" y1="229" x2="0" y2="379"><stop offset="0" stop-color="#4500ff"/><stop offset=".167" stop-color="#3a00ff"/><stop offset=".333" stop-color="#3c00ed"/><stop offset=".417" stop-color="#3e00e1"/><stop offset=".5" stop-color="#4000d4"/><stop offset=".583" stop-color="#4100c5"/><stop offset=".667" stop-color="#4300b4"/><stop offset=".708" stop-color="#4400a9"/><stop offset=".75" stop-color="#45009d"/><stop offset=".792" stop-color="#45008f"/><stop offset=".812" stop-color="#460087"/><stop offset=".833" stop-color="#46007e"/><stop offset=".854" stop-color="#470074"/><stop offset=".875" stop-color="#470069"/><stop offset=".887" stop-color="#470061"/><stop offset=".9" stop-color="#470059"/><stop offset=".908" stop-color="#480052"/><stop offset=".917" stop-color="#4b0048"/><stop offset=".925" stop-color="#50003a"/><stop offset=".933" stop-color="#55002c"/><stop offset=".942" stop-color="#59001d"/><stop offset=".95" stop-color="#5b0011"/><stop offset=".958" stop-color="#5b0003"/><stop offset=".967" stop-color="#5c0000"/><stop offset=".975" stop-color="#5e0000"/><stop offset=".983" stop-color="#5f0000"/><stop offset=".992" stop-color="#5f0000"/><stop offset="1" stop-color="#5f0000"/></linearGradient><linearGradient id="b25" gradientUnits="userSpaceOnUse" x1="0" y1="229" x2="0" y2="379"><stop offset="0" stop-color="#4000ff"/><stop offset=".167" stop-color="#3900fa"/><stop offset=".333" stop-color="#3c00e6"/><stop offset=".417" stop-color="#3e00db"/><stop offset=".5" stop-color="#4000ce"/><stop offset=".583" stop-color="#4100bf"/><stop offset=".667" stop-color="#4300ad"/><stop offset=".708" stop-color="#4400a2"/><stop offset=".75" stop-color="#450097"/><stop offset=".792" stop-color="#450089"/><stop offset=".812" stop-color="#460081"/><stop offset=".833" stop-color="#460078"/><stop offset=".854" stop-color="#47006e"/><stop offset=".875" stop-color="#470062"/><stop offset=".887" stop-color="#47005b"/><stop offset=".9" stop-color="#470052"/><stop offset=".908" stop-color="#48004b"/><stop offset=".917" stop-color="#4b0041"/><stop offset=".925" stop-color="#4f0034"/><stop offset=".933" stop-color="#540026"/><stop offset=".942" stop-color="#580018"/><stop offset=".95" stop-color="#5a000b"/><stop offset=".958" stop-color="#5a0000"/><stop offset=".967" stop-color="#5a0000"/><stop offset=".975" stop-color="#5a0000"/><stop offset=".983" stop-color="#5a0000"/><stop offset=".992" stop-color="#600000"/><stop offset="1" stop-color="#620000"/></linearGradient><linearGradient id="b26" gradientUnits="userSpaceOnUse" x1="0" y1="229" x2="0" y2="379"><stop offset="0" stop-color="#3b00ff"/><stop offset=".167" stop-color="#3900f4"/><stop offset=".333" stop-color="#3c00e0"/><stop offset=".417" stop-color="#3e00d5"/><stop offset=".5" stop-color="#4000c8"/><stop offset=".583" stop-color="#4100b9"/><stop offset=".667" stop-color="#4300a7"/><stop offset=".708" stop-color="#44009d"/><stop offset=".75" stop-color="#450091"/><stop offset=".792" stop-color="#450083"/><stop offset=".812" stop-color="#46007b"/><stop offset=".833" stop-color="#460072"/><stop offset=".854" stop-color="#470068"/><stop offset=".875" stop-color="#47005c"/><stop offset=".887" stop-color="#470055"/><stop offset=".9" stop-color="#47004c"/><stop offset=".908" stop-color="#480046"/><stop offset=".917" stop-color="#4b003b"/><stop offset=".925" stop-color="#4f002f"/><stop offset=".933" stop-color="#540021"/><stop offset=".942" stop-color="#580012"/><stop offset=".95" stop-color="#590006"/><stop offset=".958" stop-color="#590000"/><stop offset=".967" stop-color="#590000"/><stop offset=".975" stop-color="#590000"/><stop offset=".983" stop-color="#590000"/><stop offset=".992" stop-color="#650000"/><stop offset="1" stop-color="#6b0000"/></linearGradient><linearGradient id="b27" gradientUnits="userSpaceOnUse" x1="0" y1="229" x2="0" y2="379"><stop offset="0" stop-color="#3600ff"/><stop offset=".167" stop-color="#3900ee"/><stop offset=".333" stop-color="#3c00da"/><stop offset=".417" stop-color="#3e00cf"/><stop offset=".5" stop-color="#4000c2"/><stop offset=".583" stop-color="#4100b3"/><stop offset=".667" stop-color="#4300a1"/><stop offset=".708" stop-color="#440097"/><stop offset=".75" stop-color="#45008b"/><stop offset=".792" stop-color="#45007d"/><stop offset=".812" stop-color="#460075"/><stop offset=".833" stop-color="#46006c"/><stop offset=".854" stop-color="#470062"/><stop offset=".875" stop-color="#470057"/><stop offset=".887" stop-color="#47004f"/><stop offset=".9" stop-color="#470046"/><stop offset=".908" stop-color="#480040"/><stop offset=".917" stop-color="#4b0036"/><stop offset=".925" stop-color="#4f0029"/><stop offset=".933" stop-color="#54001b"/><stop offset=".942" stop-color="#58000d"/><stop offset=".95" stop-color="#590000"/><stop offset=".958" stop-color="#590000"/><stop offset=".967" stop-color="#590000"/><stop offset=".975" stop-color="#590000"/><stop offset=".983" stop-color="#590000"/><stop offset=".992" stop-color="#650000"/><stop offset="1" stop-color="#6b0000"/></linearGradient><linearGradient id="b28" gradientUnits="userSpaceOnUse" x1="0" y1="229" x2="0" y2="379"><stop offset="0" stop-color="#3600fa"/><stop offset=".167" stop-color="#3900e9"/><stop offset=".333" stop-color="#3c00d5"/><stop offset=".417" stop-color="#3e00c9"/><stop offset=".5" stop-color="#4000bd"/><stop offset=".583" stop-color="#4100ae"/><stop offset=".667" stop-color="#43009c"/><stop offset=".708" stop-color="#440091"/><stop offset=".75" stop-color="#450085"/><stop offset=".792" stop-color="#450078"/><stop offset=".812" stop-color="#460070"/><stop offset=".833" stop-color="#460067"/><stop offset=".854" stop-color="#47005d"/><stop offset=".875" stop-color="#470051"/><stop offset=".887" stop-color="#470049"/><stop offset=".9" stop-color="#470041"/><stop offset=".908" stop-color="#48003a"/><stop offset=".917" stop-color="#4b0030"/><stop offset=".925" stop-color="#4f0023"/><stop offset=".933" stop-color="#540015"/><stop offset=".942" stop-color="#580007"/><stop offset=".95" stop-color="#590000"/><stop offset=".958" stop-color="#590000"/><stop offset=".967" stop-color="#590000"/><stop offset=".975" stop-color="#590000"/><stop offset=".983" stop-color="#590000"/><stop offset=".992" stop-color="#650000"/><stop offset="1" stop-color="#6b0000"/></linearGradient><linearGradient id="b29" gradientUnits="userSpaceOnUse" x1="0" y1="229" x2="0" y2="379"><stop offset="0" stop-color="#3600f5"/><stop offset=".167" stop-color="#3900e4"/><stop offset=".333" stop-color="#3c00d0"/><stop offset=".417" stop-color="#3e00c5"/><stop offset=".5" stop-color="#4000b8"/><stop offset=".583" stop-color="#4100a9"/><stop offset=".667" stop-color="#430097"/><stop offset=".708" stop-color="#44008d"/><stop offset=".75" stop-color="#450081"/><stop offset=".792" stop-color="#450073"/><stop offset=".812" stop-color="#46006b"/><stop offset=".833" stop-color="#460062"/><stop offset=".854" stop-color="#470058"/><stop offset=".875" stop-color="#47004d"/><stop offset=".887" stop-color="#470045"/><stop offset=".9" stop-color="#47003d"/><stop offset=".908" stop-color="#480036"/><stop offset=".917" stop-color="#4b002c"/><stop offset=".925" stop-color="#4f001f"/><stop offset=".933" stop-color="#540011"/><stop offset=".942" stop-color="#580003"/><stop offset=".95" stop-color="#590000"/><stop offset=".958" stop-color="#590000"/><stop offset=".967" stop-color="#590000"/><stop offset=".975" stop-color="#590000"/><stop offset=".983" stop-color="#590000"/><stop offset=".992" stop-color="#650000"/><stop offset="1" stop-color="#6b0000"/></linearGradient><linearGradient id="b30" gradientUnits="userSpaceOnUse" x1="0" y1="229" x2="0" y2="379"><stop offset="0" stop-color="#3600f1"/><stop offset=".167" stop-color="#3900e0"/><stop offset=".333" stop-color="#3c00cc"/><stop offset=".417" stop-color="#3e00c0"/><stop offset=".5" stop-color="#4000b4"/><stop offset=".583" stop-color="#4100a5"/><stop offset=".667" stop-color="#430093"/><stop offset=".708" stop-color="#440088"/><stop offset=".75" stop-color="#45007c"/><stop offset=".792" stop-color="#45006e"/><stop offset=".812" stop-color="#460066"/><stop offset=".833" stop-color="#46005e"/><stop offset=".854" stop-color="#470054"/><stop offset=".875" stop-color="#470048"/><stop offset=".887" stop-color="#470040"/><stop offset=".9" stop-color="#470038"/><stop offset=".908" stop-color="#480031"/><stop offset=".917" stop-color="#4b0027"/><stop offset=".925" stop-color="#4f001a"/><stop offset=".933" stop-color="#54000c"/><stop offset=".942" stop-color="#580000"/><stop offset=".95" stop-color="#590000"/><stop offset=".958" stop-color="#590000"/><stop offset=".967" stop-color="#590000"/><stop offset=".975" stop-color="#590000"/><stop offset=".983" stop-color="#590000"/><stop offset=".992" stop-color="#650000"/><stop offset="1" stop-color="#6b0000"/></linearGradient><linearGradient id="b31" gradientUnits="userSpaceOnUse" x1="0" y1="229" x2="0" y2="379"><stop offset="0" stop-color="#3600ec"/><stop offset=".167" stop-color="#3900db"/><stop offset=".333" stop-color="#3c00c7"/><stop offset=".417" stop-color="#3e00bc"/><stop offset=".5" stop-color="#4000af"/><stop offset=".583" stop-color="#4100a0"/><stop offset=".667" stop-color="#43008d"/><stop offset=".708" stop-color="#440083"/><stop offset=".75" stop-color="#450077"/><stop offset=".792" stop-color="#450069"/><stop offset=".812" stop-color="#460061"/><stop offset=".833" stop-color="#460058"/><stop offset=".854" stop-color="#47004e"/><stop offset=".875" stop-color="#470042"/><stop offset=".887" stop-color="#47003a"/><stop offset=".9" stop-color="#470032"/><stop offset=".908" stop-color="#48002b"/><stop offset=".917" stop-color="#4b0020"/><stop offset=".925" stop-color="#4f0014"/><stop offset=".933" stop-color="#540005"/><stop offset=".942" stop-color="#580000"/><stop offset=".95" stop-color="#590000"/><stop offset=".958" stop-color="#590000"/><stop offset=".967" stop-color="#590000"/><stop offset=".975" stop-color="#590000"/><stop offset=".983" stop-color="#590000"/><stop offset=".992" stop-color="#650000"/><stop offset="1" stop-color="#6b0000"/></linearGradient><linearGradient id="b32" gradientUnits="userSpaceOnUse" x1="0" y1="229" x2="0" y2="379"><stop offset="0" stop-color="#3600e8"/><stop offset=".167" stop-color="#3900d7"/><stop offset=".333" stop-color="#3c00c3"/><stop offset=".417" stop-color="#3e00b7"/><stop offset=".5" stop-color="#4000aa"/><stop offset=".583" stop-color="#41009a"/><stop offset=".667" stop-color="#430088"/><stop offset=".708" stop-color="#44007d"/><stop offset=".75" stop-color="#450071"/><stop offset=".792" stop-color="#450062"/><stop offset=".812" stop-color="#46005a"/><stop offset=".833" stop-color="#460051"/><stop offset=".854" stop-color="#470047"/><stop offset=".875" stop-color="#47003b"/><stop offset=".887" stop-color="#470033"/><stop offset=".9" stop-color="#47002a"/><stop offset=".908" stop-color="#480023"/><stop offset=".917" stop-color="#4b0019"/><stop offset=".925" stop-color="#4f000c"/><stop offset=".933" stop-color="#540000"/><stop offset=".942" stop-color="#580000"/><stop offset=".95" stop-color="#590000"/><stop offset=".958" stop-color="#590000"/><stop offset=".967" stop-color="#590000"/><stop offset=".975" stop-color="#590000"/><stop offset=".983" stop-color="#590000"/><stop offset=".992" stop-color="#650000"/><stop offset="1" stop-color="#6b0000"/></linearGradient><linearGradient id="b33" gradientUnits="userSpaceOnUse" x1="0" y1="229" x2="0" y2="379"><stop offset="0" stop-color="#3600e4"/><stop offset=".167" stop-color="#3900d3"/><stop offset=".333" stop-color="#3c00be"/><stop offset=".417" stop-color="#3e00b2"/><stop offset=".5" stop-color="#4000a5"/><stop offset=".583" stop-color="#410095"/><stop offset=".667" stop-color="#430082"/><stop offset=".708" stop-color="#440077"/><stop offset=".75" stop-color="#45006b"/><stop offset=".792" stop-color="#45005c"/><stop offset=".812" stop-color="#460054"/><stop offset=".833" stop-color="#46004b"/><stop offset=".854" stop-color="#470040"/><stop offset=".875" stop-color="#470034"/><stop offset=".887" stop-color="#47002c"/><stop offset=".9" stop-color="#470023"/><stop offset=".908" stop-color="#48001c"/><stop offset=".917" stop-color="#4b0011"/><stop offset=".925" stop-color="#4f0004"/><stop offset=".933" stop-color="#540000"/><stop offset=".942" stop-color="#580000"/><stop offset=".95" stop-color="#590000"/><stop offset=".958" stop-color="#590000"/><stop offset=".967" stop-color="#590000"/><stop offset=".975" stop-color="#590000"/><stop offset=".983" stop-color="#590000"/><stop offset=".992" stop-color="#650000"/><stop offset="1" stop-color="#6b0000"/></linearGradient><linearGradient id="b34" gradientUnits="userSpaceOnUse" x1="0" y1="229" x2="0" y2="379"><stop offset="0" stop-color="#3600df"/><stop offset=".167" stop-color="#3900cd"/><stop offset=".333" stop-color="#3c00b8"/><stop offset=".417" stop-color="#3e00ac"/><stop offset=".5" stop-color="#40009f"/><stop offset=".583" stop-color="#41008f"/><stop offset=".667" stop-color="#43007c"/><stop offset=".708" stop-color="#440071"/><stop offset=".75" stop-color="#450064"/><stop offset=".792" stop-color="#450055"/><stop offset=".812" stop-color="#46004d"/><stop offset=".833" stop-color="#460043"/><stop offset=".854" stop-color="#470038"/><stop offset=".875" stop-color="#47002c"/><stop offset=".887" stop-color="#470027"/><stop offset=".9" stop-color="#47001f"/><stop offset=".908" stop-color="#480017"/><stop offset=".917" stop-color="#4b000c"/><stop offset=".925" stop-color="#500001"/><stop offset=".933" stop-color="#540000"/><stop offset=".942" stop-color="#580000"/><stop offset=".95" stop-color="#590000"/><stop offset=".958" stop-color="#590000"/><stop offset=".967" stop-color="#590000"/><stop offset=".975" stop-color="#590000"/><stop offset=".983" stop-color="#590000"/><stop offset=".992" stop-color="#650000"/><stop offset="1" stop-color="#6b0000"/></linearGradient><linearGradient id="b35" gradientUnits="userSpaceOnUse" x1="0" y1="229" x2="0" y2="379"><stop offset="0" stop-color="#3600d5"/><stop offset=".167" stop-color="#3900c2"/><stop offset=".333" stop-color="#3c00ab"/><stop offset=".417" stop-color="#3e009e"/><stop offset=".5" stop-color="#400090"/><stop offset=".583" stop-color="#41007e"/><stop offset=".667" stop-color="#43006a"/><stop offset=".708" stop-color="#44005e"/><stop offset=".75" stop-color="#450050"/><stop offset=".792" stop-color="#450040"/><stop offset=".812" stop-color="#460037"/><stop offset=".833" stop-color="#46002c"/><stop offset=".854" stop-color="#47002a"/><stop offset=".875" stop-color="#47002a"/><stop offset=".887" stop-color="#470027"/><stop offset=".9" stop-color="#4a001f"/><stop offset=".908" stop-color="#4d0017"/><stop offset=".917" stop-color="#51000c"/><stop offset=".925" stop-color="#550001"/><stop offset=".933" stop-color="#590000"/><stop offset=".942" stop-color="#5b0000"/><stop offset=".95" stop-color="#5c0000"/><stop offset=".958" stop-color="#5c0000"/><stop offset=".967" stop-color="#620000"/><stop offset=".975" stop-color="#6c0000"/><stop offset=".983" stop-color="#720000"/><stop offset=".992" stop-color="#720000"/><stop offset="1" stop-color="#720000"/></linearGradient><linearGradient id="b36" gradientUnits="userSpaceOnUse" x1="0" y1="229" x2="0" y2="379"><stop offset="0" stop-color="#3600d0"/><stop offset=".167" stop-color="#3900bc"/><stop offset=".333" stop-color="#3c00a4"/><stop offset=".417" stop-color="#3e0096"/><stop offset=".5" stop-color="#400086"/><stop offset=".583" stop-color="#410073"/><stop offset=".667" stop-color="#43005d"/><stop offset=".708" stop-color="#440050"/><stop offset=".75" stop-color="#450041"/><stop offset=".792" stop-color="#450030"/><stop offset=".812" stop-color="#46002a"/><stop offset=".833" stop-color="#46002a"/><stop offset=".854" stop-color="#47002a"/><stop offset=".875" stop-color="#47002a"/><stop offset=".887" stop-color="#470027"/><stop offset=".9" stop-color="#4a001f"/><stop offset=".908" stop-color="#4d0017"/><stop offset=".917" stop-color="#51000c"/><stop offset=".925" stop-color="#550001"/><stop offset=".933" stop-color="#590000"/><stop offset=".942" stop-color="#5b0000"/><stop offset=".95" stop-color="#5c0000"/><stop offset=".958" stop-color="#5c0000"/><stop offset=".967" stop-color="#620000"/><stop offset=".975" stop-color="#6c0000"/><stop offset=".983" stop-color="#720000"/><stop offset=".992" stop-color="#720000"/><stop offset="1" stop-color="#720000"/></linearGradient><linearGradient id="b37" gradientUnits="userSpaceOnUse" x1="0" y1="229" x2="0" y2="379"><stop offset="0" stop-color="#3600d0"/><stop offset=".167" stop-color="#3900bb"/><stop offset=".333" stop-color="#3c00a3"/><stop offset=".417" stop-color="#3e0095"/><stop offset=".5" stop-color="#400085"/><stop offset=".583" stop-color="#410073"/><stop offset=".667" stop-color="#43005d"/><stop offset=".708" stop-color="#440050"/><stop offset=".75" stop-color="#450041"/><stop offset=".792" stop-color="#45002f"/><stop offset=".812" stop-color="#46002a"/><stop offset=".833" stop-color="#46002a"/><stop offset=".854" stop-color="#47002a"/><stop offset=".875" stop-color="#47002a"/><stop offset=".887" stop-color="#470027"/><stop offset=".9" stop-color="#4a001f"/><stop offset=".908" stop-color="#4d0017"/><stop offset=".917" stop-color="#51000c"/><stop offset=".925" stop-color="#550001"/><stop offset=".933" stop-color="#590000"/><stop offset=".942" stop-color="#5b0000"/><stop offset=".95" stop-color="#5c0000"/><stop offset=".958" stop-color="#5c0000"/><stop offset=".967" stop-color="#620000"/><stop offset=".975" stop-color="#6c0000"/><stop offset=".983" stop-color="#720000"/><stop offset=".992" stop-color="#720000"/><stop offset="1" stop-color="#720000"/></linearGradient><linearGradient id="b38" gradientUnits="userSpaceOnUse" x1="0" y1="229" x2="0" y2="379"><stop offset="0" stop-color="#3600cf"/><stop offset=".167" stop-color="#3900bb"/><stop offset=".333" stop-color="#3c00a3"/><stop offset=".417" stop-color="#3e0095"/><stop offset=".5" stop-color="#400085"/><stop offset=".583" stop-color="#410072"/><stop offset=".667" stop-color="#43005c"/><stop offset=".708" stop-color="#44004f"/><stop offset=".75" stop-color="#450040"/><stop offset=".792" stop-color="#45002e"/><stop offset=".812" stop-color="#46002a"/><stop offset=".833" stop-color="#46002a"/><stop offset=".854" stop-color="#47002a"/><stop offset=".875" stop-color="#47002a"/><stop offset=".887" stop-color="#470027"/><stop offset=".9" stop-color="#4a001f"/><stop offset=".908" stop-color="#4e0017"/><stop offset=".917" stop-color="#52000c"/><stop offset=".925" stop-color="#560001"/><stop offset=".933" stop-color="#590000"/><stop offset=".942" stop-color="#5b0000"/><stop offset=".95" stop-color="#5c0000"/><stop offset=".958" stop-color="#5c0000"/><stop offset=".967" stop-color="#620000"/><stop offset=".975" stop-color="#6c0000"/><stop offset=".983" stop-color="#720000"/><stop offset=".992" stop-color="#720000"/><stop offset="1" stop-color="#720000"/></linearGradient><linearGradient id="b39" gradientUnits="userSpaceOnUse" x1="0" y1="229" x2="0" y2="379"><stop offset="0" stop-color="#3600cf"/><stop offset=".167" stop-color="#3900bb"/><stop offset=".333" stop-color="#3c00a3"/><stop offset=".417" stop-color="#3e0095"/><stop offset=".5" stop-color="#400085"/><stop offset=".583" stop-color="#410072"/><stop offset=".667" stop-color="#43005c"/><stop offset=".708" stop-color="#44004f"/><stop offset=".75" stop-color="#450040"/><stop offset=".792" stop-color="#45002e"/><stop offset=".812" stop-color="#46002a"/><stop offset=".833" stop-color="#46002a"/><stop offset=".854" stop-color="#47002a"/><stop offset=".875" stop-color="#47002a"/><stop offset=".887" stop-color="#470027"/><stop offset=".9" stop-color="#4a001f"/><stop offset=".908" stop-color="#4e0017"/><stop offset=".917" stop-color="#52000c"/><stop offset=".925" stop-color="#560001"/><stop offset=".933" stop-color="#590000"/><stop offset=".942" stop-color="#5b0000"/><stop offset=".95" stop-color="#5c0000"/><stop offset=".958" stop-color="#5c0000"/><stop offset=".967" stop-color="#620000"/><stop offset=".975" stop-color="#6c0000"/><stop offset=".983" stop-color="#720000"/><stop offset=".992" stop-color="#720000"/><stop offset="1" stop-color="#720000"/></linearGradient><linearGradient id="b40" gradientUnits="userSpaceOnUse" x1="0" y1="229" x2="0" y2="379"><stop offset="0" stop-color="#3600cf"/><stop offset=".167" stop-color="#3900bb"/><stop offset=".333" stop-color="#3c00a3"/><stop offset=".417" stop-color="#3e0094"/><stop offset=".5" stop-color="#400084"/><stop offset=".583" stop-color="#410072"/><stop offset=".667" stop-color="#43005c"/><stop offset=".708" stop-color="#44004f"/><stop offset=".75" stop-color="#450040"/><stop offset=".792" stop-color="#45002e"/><stop offset=".812" stop-color="#46002a"/><stop offset=".833" stop-color="#46002a"/><stop offset=".854" stop-color="#47002a"/><stop offset=".875" stop-color="#47002a"/><stop offset=".887" stop-color="#470027"/><stop offset=".9" stop-color="#4b001f"/><stop offset=".908" stop-color="#4e0017"/><stop offset=".917" stop-color="#52000c"/><stop offset=".925" stop-color="#560001"/><stop offset=".933" stop-color="#590000"/><stop offset=".942" stop-color="#5b0000"/><stop offset=".95" stop-color="#5c0000"/><stop offset=".958" stop-color="#5c0000"/><stop offset=".967" stop-color="#620000"/><stop offset=".975" stop-color="#6c0000"/><stop offset=".983" stop-color="#720000"/><stop offset=".992" stop-color="#720000"/><stop offset="1" stop-color="#720000"/></linearGradient><linearGradient id="b41" gradientUnits="userSpaceOnUse" x1="0" y1="229" x2="0" y2="379"><stop offset="0" stop-color="#3600cf"/><stop offset=".167" stop-color="#3900bb"/><stop offset=".333" stop-color="#3c00a3"/><stop offset=".417" stop-color="#3e0094"/><stop offset=".5" stop-color="#400084"/><stop offset=".583" stop-color="#410072"/><stop offset=".667" stop-color="#43005c"/><stop offset=".708" stop-color="#44004e"/><stop offset=".75" stop-color="#45003f"/><stop offset=".792" stop-color="#45002e"/><stop offset=".812" stop-color="#46002a"/><stop offset=".833" stop-color="#46002a"/><stop offset=".854" stop-color="#47002a"/><stop offset=".875" stop-color="#47002a"/><stop offset=".887" stop-color="#480027"/><stop offset=".9" stop-color="#4b001f"/><stop offset=".908" stop-color="#4e0017"/><stop offset=".917" stop-color="#52000c"/><stop offset=".925" stop-color="#560001"/><stop offset=".933" stop-color="#590000"/><stop offset=".942" stop-color="#5b0000"/><stop offset=".95" stop-color="#5c0000"/><stop offset=".958" stop-color="#5c0000"/><stop offset=".967" stop-color="#620000"/><stop offset=".975" stop-color="#6c0000"/><stop offset=".983" stop-color="#720000"/><stop offset=".992" stop-color="#720000"/><stop offset="1" stop-color="#720000"/></linearGradient><linearGradient id="b42" gradientUnits="userSpaceOnUse" x1="0" y1="229" x2="0" y2="379"><stop offset="0" stop-color="#3600cf"/><stop offset=".167" stop-color="#3900bb"/><stop offset=".333" stop-color="#3c00a2"/><stop offset=".417" stop-color="#3e0094"/><stop offset=".5" stop-color="#400084"/><stop offset=".583" stop-color="#410072"/><stop offset=".667" stop-color="#43005b"/><stop offset=".708" stop-color="#44004e"/><stop offset=".75" stop-color="#45003f"/><stop offset=".792" stop-color="#45002e"/><stop offset=".812" stop-color="#46002a"/><stop offset=".833" stop-color="#46002a"/><stop offset=".854" stop-color="#47002a"/><stop offset=".875" stop-color="#47002a"/><stop offset=".887" stop-color="#480027"/><stop offset=".9" stop-color="#4b001f"/><stop offset=".908" stop-color="#4e0017"/><stop offset=".917" stop-color="#53000c"/><stop offset=".925" stop-color="#560001"/><stop offset=".933" stop-color="#5a0000"/><stop offset=".942" stop-color="#5c0000"/><stop offset=".95" stop-color="#5c0000"/><stop offset=".958" stop-color="#5c0000"/><stop offset=".967" stop-color="#610000"/><stop offset=".975" stop-color="#6a0000"/><stop offset=".983" stop-color="#6f0000"/><stop offset=".992" stop-color="#6f0000"/><stop offset="1" stop-color="#6f0000"/></linearGradient><linearGradient id="b43" gradientUnits="userSpaceOnUse" x1="0" y1="229" x2="0" y2="379"><stop offset="0" stop-color="#3600cf"/><stop offset=".167" stop-color="#3900bb"/><stop offset=".333" stop-color="#3c00a2"/><stop offset=".417" stop-color="#3e0094"/><stop offset=".5" stop-color="#400084"/><stop offset=".583" stop-color="#410072"/><stop offset=".667" stop-color="#43005b"/><stop offset=".708" stop-color="#44004e"/><stop offset=".75" stop-color="#45003f"/><stop offset=".792" stop-color="#45002d"/><stop offset=".812" stop-color="#46002a"/><stop offset=".833" stop-color="#46002a"/><stop offset=".854" stop-color="#47002a"/><stop offset=".875" stop-color="#47002a"/><stop offset=".887" stop-color="#480027"/><stop offset=".9" stop-color="#4b001f"/><stop offset=".908" stop-color="#4f0017"/><stop offset=".917" stop-color="#53000c"/><stop offset=".925" stop-color="#560001"/><stop offset=".933" stop-color="#5a0000"/><stop offset=".942" stop-color="#5b0000"/><stop offset=".95" stop-color="#5c0000"/><stop offset=".958" stop-color="#5c0000"/><stop offset=".967" stop-color="#600000"/><stop offset=".975" stop-color="#680000"/><stop offset=".983" stop-color="#6c0000"/><stop offset=".992" stop-color="#6c0000"/><stop offset="1" stop-color="#6c0000"/></linearGradient><linearGradient id="b44" gradientUnits="userSpaceOnUse" x1="0" y1="229" x2="0" y2="379"><stop offset="0" stop-color="#3600cf"/><stop offset=".167" stop-color="#3900bb"/><stop offset=".333" stop-color="#3c00a2"/><stop offset=".417" stop-color="#3e0094"/><stop offset=".5" stop-color="#400084"/><stop offset=".583" stop-color="#410072"/><stop offset=".667" stop-color="#43005b"/><stop offset=".708" stop-color="#44004e"/><stop offset=".75" stop-color="#45003f"/><stop offset=".792" stop-color="#45002d"/><stop offset=".812" stop-color="#46002a"/><stop offset=".833" stop-color="#46002a"/><stop offset=".854" stop-color="#47002a"/><stop offset=".875" stop-color="#47002a"/><stop offset=".887" stop-color="#480027"/><stop offset=".9" stop-color="#4b001f"/><stop offset=".908" stop-color="#4e0017"/><stop offset=".917" stop-color="#52000c"/><stop offset=".925" stop-color="#560001"/><stop offset=".933" stop-color="#590000"/><stop offset=".942" stop-color="#5b0000"/><stop offset=".95" stop-color="#5b0000"/><stop offset=".958" stop-color="#5b0000"/><stop offset=".967" stop-color="#5f0000"/><stop offset=".975" stop-color="#650000"/><stop offset=".983" stop-color="#690000"/><stop offset=".992" stop-color="#690000"/><stop offset="1" stop-color="#690000"/></linearGradient><linearGradient id="b45" gradientUnits="userSpaceOnUse" x1="0" y1="229" x2="0" y2="379"><stop offset="0" stop-color="#3600cf"/><stop offset=".167" stop-color="#3900bb"/><stop offset=".333" stop-color="#3c00a2"/><stop offset=".417" stop-color="#3e0094"/><stop offset=".5" stop-color="#400084"/><stop offset=".583" stop-color="#410072"/><stop offset=".667" stop-color="#43005b"/><stop offset=".708" stop-color="#44004e"/><stop offset=".75" stop-color="#45003f"/><stop offset=".792" stop-color="#45002d"/><stop offset=".812" stop-color="#46002a"/><stop offset=".833" stop-color="#46002a"/><stop offset=".854" stop-color="#47002a"/><stop offset=".875" stop-color="#47002a"/><stop offset=".887" stop-color="#480027"/><stop offset=".9" stop-color="#4b001f"/><stop offset=".908" stop-color="#4e0017"/><stop offset=".917" stop-color="#52000c"/><stop offset=".925" stop-color="#560001"/><stop offset=".933" stop-color="#590000"/><stop offset=".942" stop-color="#5b0000"/><stop offset=".95" stop-color="#5b0000"/><stop offset=".958" stop-color="#5b0000"/><stop offset=".967" stop-color="#5e0000"/><stop offset=".975" stop-color="#640000"/><stop offset=".983" stop-color="#670000"/><stop offset=".992" stop-color="#670000"/><stop offset="1" stop-color="#670000"/></linearGradient><linearGradient id="b46" gradientUnits="userSpaceOnUse" x1="0" y1="229" x2="0" y2="379"><stop offset="0" stop-color="#3600d0"/><stop offset=".167" stop-color="#3900bb"/><stop offset=".333" stop-color="#3c00a3"/><stop offset=".417" stop-color="#3e0094"/><stop offset=".5" stop-color="#400084"/><stop offset=".583" stop-color="#410072"/><stop offset=".667" stop-color="#43005b"/><stop offset=".708" stop-color="#44004e"/><stop offset=".75" stop-color="#45003f"/><stop offset=".792" stop-color="#45002d"/><stop offset=".812" stop-color="#46002a"/><stop offset=".833" stop-color="#46002a"/><stop offset=".854" stop-color="#47002a"/><stop offset=".875" stop-color="#47002a"/><stop offset=".887" stop-color="#480027"/><stop offset=".9" stop-color="#4b001f"/><stop offset=".908" stop-color="#4e0017"/><stop offset=".917" stop-color="#52000c"/><stop offset=".925" stop-color="#560001"/><stop offset=".933" stop-color="#590000"/><stop offset=".942" stop-color="#5a0000"/><stop offset=".95" stop-color="#5b0000"/><stop offset=".958" stop-color="#5b0000"/><stop offset=".967" stop-color="#5e0000"/><stop offset=".975" stop-color="#630000"/><stop offset=".983" stop-color="#660000"/><stop offset=".992" stop-color="#660000"/><stop offset="1" stop-color="#660000"/></linearGradient><linearGradient id="b47" gradientUnits="userSpaceOnUse" x1="0" y1="229" x2="0" y2="379"><stop offset="0" stop-color="#3600d0"/><stop offset=".167" stop-color="#3900bb"/><stop offset=".333" stop-color="#3c00a3"/><stop offset=".417" stop-color="#3e0094"/><stop offset=".5" stop-color="#400084"/><stop offset=".583" stop-color="#410072"/><stop offset=".667" stop-color="#43005b"/><stop offset=".708" stop-color="#44004e"/><stop offset=".75" stop-color="#45003f"/><stop offset=".792" stop-color="#45002d"/><stop offset=".812" stop-color="#46002a"/><stop offset=".833" stop-color="#46002a"/><stop offset=".854" stop-color="#47002a"/><stop offset=".875" stop-color="#47002a"/><stop offset=".887" stop-color="#480027"/><stop offset=".9" stop-color="#4b001f"/><stop offset=".908" stop-color="#4e0017"/><stop offset=".917" stop-color="#52000c"/><stop offset=".925" stop-color="#560001"/><stop offset=".933" stop-color="#580000"/><stop offset=".942" stop-color="#5a0000"/><stop offset=".95" stop-color="#5a0000"/><stop offset=".958" stop-color="#5a0000"/><stop offset=".967" stop-color="#5d0000"/><stop offset=".975" stop-color="#620000"/><stop offset=".983" stop-color="#640000"/><stop offset=".992" stop-color="#640000"/><stop offset="1" stop-color="#640000"/></linearGradient><linearGradient id="b48" gradientUnits="userSpaceOnUse" x1="0" y1="229" x2="0" y2="379"><stop offset="0" stop-color="#3600d0"/><stop offset=".167" stop-color="#3900bb"/><stop offset=".333" stop-color="#3c00a3"/><stop offset=".417" stop-color="#3e0094"/><stop offset=".5" stop-color="#400084"/><stop offset=".583" stop-color="#410072"/><stop offset=".667" stop-color="#43005b"/><stop offset=".708" stop-color="#44004e"/><stop offset=".75" stop-color="#45003f"/><stop offset=".792" stop-color="#45002d"/><stop offset=".812" stop-color="#46002a"/><stop offset=".833" stop-color="#46002a"/><stop offset=".854" stop-color="#47002a"/><stop offset=".875" stop-color="#47002a"/><stop offset=".887" stop-color="#480027"/><stop offset=".9" stop-color="#4b001f"/><stop offset=".908" stop-color="#4e0017"/><stop offset=".917" stop-color="#52000c"/><stop offset=".925" stop-color="#550001"/><stop offset=".933" stop-color="#580000"/><stop offset=".942" stop-color="#5a0000"/><stop offset=".95" stop-color="#5a0000"/><stop offset=".958" stop-color="#5a0000"/><stop offset=".967" stop-color="#5c0000"/><stop offset=".975" stop-color="#610000"/><stop offset=".983" stop-color="#630000"/><stop offset=".992" stop-color="#630000"/><stop offset="1" stop-color="#630000"/></linearGradient><linearGradient id="b49" gradientUnits="userSpaceOnUse" x1="0" y1="229" x2="0" y2="379"><stop offset="0" stop-color="#3600d0"/><stop offset=".167" stop-color="#3900bb"/><stop offset=".333" stop-color="#3c00a3"/><stop offset=".417" stop-color="#3e0095"/><stop offset=".5" stop-color="#400084"/><stop offset=".583" stop-color="#410072"/><stop offset=".667" stop-color="#43005b"/><stop offset=".708" stop-color="#44004e"/><stop offset=".75" stop-color="#45003f"/><stop offset=".792" stop-color="#45002d"/><stop offset=".812" stop-color="#46002a"/><stop offset=".833" stop-color="#46002a"/><stop offset=".854" stop-color="#47002a"/><stop offset=".875" stop-color="#47002a"/><stop offset=".887" stop-color="#480027"/><stop offset=".9" stop-color="#4b001f"/><stop offset=".908" stop-color="#4e0017"/><stop offset=".917" stop-color="#52000c"/><stop offset=".925" stop-color="#550001"/><stop offset=".933" stop-color="#580000"/><stop offset=".942" stop-color="#5a0000"/><stop offset=".95" stop-color="#5a0000"/><stop offset=".958" stop-color="#5a0000"/><stop offset=".967" stop-color="#5c0000"/><stop offset=".975" stop-color="#5f0000"/><stop offset=".983" stop-color="#610000"/><stop offset=".992" stop-color="#610000"/><stop offset="1" stop-color="#610000"/></linearGradient><linearGradient id="b50" gradientUnits="userSpaceOnUse" x1="0" y1="229" x2="0" y2="379"><stop offset="0" stop-color="#3600d0"/><stop offset=".167" stop-color="#3900bb"/><stop offset=".333" stop-color="#3c00a3"/><stop offset=".417" stop-color="#3e0095"/><stop offset=".5" stop-color="#400084"/><stop offset=".583" stop-color="#410072"/><stop offset=".667" stop-color="#43005b"/><stop offset=".708" stop-color="#44004e"/><stop offset=".75" stop-color="#45003f"/><stop offset=".792" stop-color="#45002d"/><stop offset=".812" stop-color="#46002a"/><stop offset=".833" stop-color="#46002a"/><stop offset=".854" stop-color="#47002a"/><stop offset=".875" stop-color="#47002a"/><stop offset=".887" stop-color="#480027"/><stop offset=".9" stop-color="#4b001f"/><stop offset=".908" stop-color="#4e0017"/><stop offset=".917" stop-color="#51000c"/><stop offset=".925" stop-color="#550001"/><stop offset=".933" stop-color="#580000"/><stop offset=".942" stop-color="#5a0000"/><stop offset=".95" stop-color="#5a0000"/><stop offset=".958" stop-color="#5a0000"/><stop offset=".967" stop-color="#5c0000"/><stop offset=".975" stop-color="#5f0000"/><stop offset=".983" stop-color="#610000"/><stop offset=".992" stop-color="#610000"/><stop offset="1" stop-color="#610000"/></linearGradient><linearGradient id="b51" gradientUnits="userSpaceOnUse" x1="0" y1="229" x2="0" y2="379"><stop offset="0" stop-color="#3600d0"/><stop offset=".167" stop-color="#3900bb"/><stop offset=".333" stop-color="#3c00a3"/><stop offset=".417" stop-color="#3e0095"/><stop offset=".5" stop-color="#400084"/><stop offset=".583" stop-color="#410072"/><stop offset=".667" stop-color="#43005b"/><stop offset=".708" stop-color="#44004e"/><stop offset=".75" stop-color="#45003f"/><stop offset=".792" stop-color="#45002d"/><stop offset=".812" stop-color="#46002a"/><stop offset=".833" stop-color="#46002a"/><stop offset=".854" stop-color="#47002a"/><stop offset=".875" stop-color="#47002a"/><stop offset=".887" stop-color="#480027"/><stop offset=".9" stop-color="#4b001f"/><stop offset=".908" stop-color="#4e0017"/><stop offset=".917" stop-color="#51000c"/><stop offset=".925" stop-color="#550001"/><stop offset=".933" stop-color="#580000"/><stop offset=".942" stop-color="#5a0000"/><stop offset=".95" stop-color="#5a0000"/><stop offset=".958" stop-color="#5a0000"/><stop offset=".967" stop-color="#5b0000"/><stop offset=".975" stop-color="#5f0000"/><stop offset=".983" stop-color="#600000"/><stop offset=".992" stop-color="#600000"/><stop offset="1" stop-color="#600000"/></linearGradient><linearGradient id="b52" gradientUnits="userSpaceOnUse" x1="0" y1="229" x2="0" y2="379"><stop offset="0" stop-color="#3600d0"/><stop offset=".167" stop-color="#3900bb"/><stop offset=".333" stop-color="#3c00a3"/><stop offset=".417" stop-color="#3e0095"/><stop offset=".5" stop-color="#400085"/><stop offset=".583" stop-color="#410072"/><stop offset=".667" stop-color="#43005b"/><stop offset=".708" stop-color="#44004e"/><stop offset=".75" stop-color="#45003f"/><stop offset=".792" stop-color="#45002d"/><stop offset=".812" stop-color="#46002a"/><stop offset=".833" stop-color="#46002a"/><stop offset=".854" stop-color="#47002a"/><stop offset=".875" stop-color="#47002a"/><stop offset=".887" stop-color="#480027"/><stop offset=".9" stop-color="#4b001f"/><stop offset=".908" stop-color="#4e0017"/><stop offset=".917" stop-color="#51000c"/><stop offset=".925" stop-color="#550001"/><stop offset=".933" stop-color="#580000"/><stop offset=".942" stop-color="#5a0000"/><stop offset=".95" stop-color="#5a0000"/><stop offset=".958" stop-color="#5a0000"/><stop offset=".967" stop-color="#5b0000"/><stop offset=".975" stop-color="#5e0000"/><stop offset=".983" stop-color="#600000"/><stop offset=".992" stop-color="#600000"/><stop offset="1" stop-color="#600000"/></linearGradient><linearGradient id="b53" gradientUnits="userSpaceOnUse" x1="0" y1="229" x2="0" y2="379"><stop offset="0" stop-color="#3600d0"/><stop offset=".167" stop-color="#3900bc"/><stop offset=".333" stop-color="#3c00a3"/><stop offset=".417" stop-color="#3e0095"/><stop offset=".5" stop-color="#400085"/><stop offset=".583" stop-color="#410072"/><stop offset=".667" stop-color="#43005b"/><stop offset=".708" stop-color="#44004e"/><stop offset=".75" stop-color="#45003f"/><stop offset=".792" stop-color="#45002d"/><stop offset=".812" stop-color="#46002a"/><stop offset=".833" stop-color="#46002a"/><stop offset=".854" stop-color="#47002a"/><stop offset=".875" stop-color="#47002a"/><stop offset=".887" stop-color="#480027"/><stop offset=".9" stop-color="#4b001f"/><stop offset=".908" stop-color="#4e0017"/><stop offset=".917" stop-color="#51000c"/><stop offset=".925" stop-color="#550001"/><stop offset=".933" stop-color="#580000"/><stop offset=".942" stop-color="#5a0000"/><stop offset=".95" stop-color="#5a0000"/><stop offset=".958" stop-color="#5a0000"/><stop offset=".967" stop-color="#5b0000"/><stop offset=".975" stop-color="#5e0000"/><stop offset=".983" stop-color="#5f0000"/><stop offset=".992" stop-color="#5f0000"/><stop offset="1" stop-color="#5f0000"/></linearGradient><linearGradient id="b54" gradientUnits="userSpaceOnUse" x1="0" y1="229" x2="0" y2="379"><stop offset="0" stop-color="#3600d0"/><stop offset=".167" stop-color="#3900bc"/><stop offset=".333" stop-color="#3c00a3"/><stop offset=".417" stop-color="#3e0095"/><stop offset=".5" stop-color="#400085"/><stop offset=".583" stop-color="#410072"/><stop offset=".667" stop-color="#43005b"/><stop offset=".708" stop-color="#44004e"/><stop offset=".75" stop-color="#45003f"/><stop offset=".792" stop-color="#45002d"/><stop offset=".812" stop-color="#46002a"/><stop offset=".833" stop-color="#46002a"/><stop offset=".854" stop-color="#47002a"/><stop offset=".875" stop-color="#47002a"/><stop offset=".887" stop-color="#470027"/><stop offset=".9" stop-color="#49001f"/><stop offset=".908" stop-color="#4c0017"/><stop offset=".917" stop-color="#50000c"/><stop offset=".925" stop-color="#530001"/><stop offset=".933" stop-color="#570000"/><stop offset=".942" stop-color="#590000"/><stop offset=".95" stop-color="#5a0000"/><stop offset=".958" stop-color="#5a0000"/><stop offset=".967" stop-color="#5b0000"/><stop offset=".975" stop-color="#5e0000"/><stop offset=".983" stop-color="#5f0000"/><stop offset=".992" stop-color="#5f0000"/><stop offset="1" stop-color="#5f0000"/></linearGradient><linearGradient id="b55" gradientUnits="userSpaceOnUse" x1="0" y1="229" x2="0" y2="379"><stop offset="0" stop-color="#3600d1"/><stop offset=".167" stop-color="#3900bc"/><stop offset=".333" stop-color="#3c00a3"/><stop offset=".417" stop-color="#3e0095"/><stop offset=".5" stop-color="#400085"/><stop offset=".583" stop-color="#410072"/><stop offset=".667" stop-color="#43005b"/><stop offset=".708" stop-color="#44004e"/><stop offset=".75" stop-color="#45003f"/><stop offset=".792" stop-color="#45002d"/><stop offset=".812" stop-color="#46002a"/><stop offset=".833" stop-color="#46002a"/><stop offset=".854" stop-color="#47002a"/><stop offset=".875" stop-color="#47002a"/><stop offset=".887" stop-color="#470027"/><stop offset=".9" stop-color="#48001f"/><stop offset=".908" stop-color="#4a0017"/><stop offset=".917" stop-color="#4d000c"/><stop offset=".925" stop-color="#510001"/><stop offset=".933" stop-color="#540000"/><stop offset=".942" stop-color="#570000"/><stop offset=".95" stop-color="#590000"/><stop offset=".958" stop-color="#5a0000"/><stop offset=".967" stop-color="#5b0000"/><stop offset=".975" stop-color="#5e0000"/><stop offset=".983" stop-color="#5f0000"/><stop offset=".992" stop-color="#650000"/><stop offset="1" stop-color="#6a0000"/></linearGradient><linearGradient id="b56" gradientUnits="userSpaceOnUse" x1="0" y1="229" x2="0" y2="379"><stop offset="0" stop-color="#3600d1"/><stop offset=".167" stop-color="#3900bc"/><stop offset=".333" stop-color="#3c00a3"/><stop offset=".417" stop-color="#3e0095"/><stop offset=".5" stop-color="#400085"/><stop offset=".583" stop-color="#410072"/><stop offset=".667" stop-color="#43005b"/><stop offset=".708" stop-color="#44004e"/><stop offset=".75" stop-color="#45003e"/><stop offset=".792" stop-color="#45002d"/><stop offset=".812" stop-color="#46002a"/><stop offset=".833" stop-color="#46002a"/><stop offset=".854" stop-color="#47002a"/><stop offset=".875" stop-color="#47002a"/><stop offset=".887" stop-color="#470027"/><stop offset=".9" stop-color="#48001f"/><stop offset=".908" stop-color="#4a0017"/><stop offset=".917" stop-color="#4d000c"/><stop offset=".925" stop-color="#500001"/><stop offset=".933" stop-color="#540000"/><stop offset=".942" stop-color="#570000"/><stop offset=".95" stop-color="#590000"/><stop offset=".958" stop-color="#5a0000"/><stop offset=".967" stop-color="#5b0000"/><stop offset=".975" stop-color="#5e0000"/><stop offset=".983" stop-color="#5f0000"/><stop offset=".992" stop-color="#670000"/><stop offset="1" stop-color="#6f0000"/></linearGradient><linearGradient id="b57" gradientUnits="userSpaceOnUse" x1="0" y1="229" x2="0" y2="379"><stop offset="0" stop-color="#3600d1"/><stop offset=".167" stop-color="#3900bc"/><stop offset=".333" stop-color="#3c00a3"/><stop offset=".417" stop-color="#3e0095"/><stop offset=".5" stop-color="#400084"/><stop offset=".583" stop-color="#410072"/><stop offset=".667" stop-color="#43005b"/><stop offset=".708" stop-color="#44004e"/><stop offset=".75" stop-color="#45003e"/><stop offset=".792" stop-color="#45002c"/><stop offset=".812" stop-color="#46002a"/><stop offset=".833" stop-color="#46002a"/><stop offset=".854" stop-color="#47002a"/><stop offset=".875" stop-color="#47002a"/><stop offset=".887" stop-color="#470027"/><stop offset=".9" stop-color="#49001f"/><stop offset=".908" stop-color="#4b0017"/><stop offset=".917" stop-color="#4e000c"/><stop offset=".925" stop-color="#520001"/><stop offset=".933" stop-color="#560000"/><stop offset=".942" stop-color="#580000"/><stop offset=".95" stop-color="#5a0000"/><stop offset=".958" stop-color="#5a0000"/><stop offset=".967" stop-color="#5b0000"/><stop offset=".975" stop-color="#5e0000"/><stop offset=".983" stop-color="#5f0000"/><stop offset=".992" stop-color="#670000"/><stop offset="1" stop-color="#6f0000"/></linearGradient><linearGradient id="b58" gradientUnits="userSpaceOnUse" x1="0" y1="229" x2="0" y2="379"><stop offset="0" stop-color="#3600d1"/><stop offset=".167" stop-color="#3900bc"/><stop offset=".333" stop-color="#3c00a3"/><stop offset=".417" stop-color="#3e0095"/><stop offset=".5" stop-color="#400084"/><stop offset=".583" stop-color="#410071"/><stop offset=".667" stop-color="#43005b"/><stop offset=".708" stop-color="#44004d"/><stop offset=".75" stop-color="#45003e"/><stop offset=".792" stop-color="#45002c"/><stop offset=".812" stop-color="#46002a"/><stop offset=".833" stop-color="#46002a"/><stop offset=".854" stop-color="#47002a"/><stop offset=".875" stop-color="#47002a"/><stop offset=".887" stop-color="#470027"/><stop offset=".9" stop-color="#4a001f"/><stop offset=".908" stop-color="#4c0017"/><stop offset=".917" stop-color="#50000c"/><stop offset=".925" stop-color="#540001"/><stop offset=".933" stop-color="#570000"/><stop offset=".942" stop-color="#590000"/><stop offset=".95" stop-color="#5a0000"/><stop offset=".958" stop-color="#5a0000"/><stop offset=".967" stop-color="#5b0000"/><stop offset=".975" stop-color="#5e0000"/><stop offset=".983" stop-color="#5f0000"/><stop offset=".992" stop-color="#670000"/><stop offset="1" stop-color="#6f0000"/></linearGradient><linearGradient id="b59" gradientUnits="userSpaceOnUse" x1="0" y1="229" x2="0" y2="379"><stop offset="0" stop-color="#3600d1"/><stop offset=".167" stop-color="#3900bc"/><stop offset=".333" stop-color="#3c00a3"/><stop offset=".417" stop-color="#3e0095"/><stop offset=".5" stop-color="#400084"/><stop offset=".583" stop-color="#410071"/><stop offset=".667" stop-color="#43005b"/><stop offset=".708" stop-color="#44004d"/><stop offset=".75" stop-color="#45003e"/><stop offset=".792" stop-color="#45002c"/><stop offset=".812" stop-color="#46002a"/><stop offset=".833" stop-color="#46002a"/><stop offset=".854" stop-color="#47002a"/><stop offset=".875" stop-color="#47002a"/><stop offset=".887" stop-color="#480027"/><stop offset=".9" stop-color="#4b001f"/><stop offset=".908" stop-color="#4e0017"/><stop offset=".917" stop-color="#52000c"/><stop offset=".925" stop-color="#550001"/><stop offset=".933" stop-color="#580000"/><stop offset=".942" stop-color="#5a0000"/><stop offset=".95" stop-color="#5a0000"/><stop offset=".958" stop-color="#5a0000"/><stop offset=".967" stop-color="#5b0000"/><stop offset=".975" stop-color="#5e0000"/><stop offset=".983" stop-color="#5f0000"/><stop offset=".992" stop-color="#670000"/><stop offset="1" stop-color="#6f0000"/></linearGradient><linearGradient id="b60" gradientUnits="userSpaceOnUse" x1="0" y1="229" x2="0" y2="379"><stop offset="0" stop-color="#3600d1"/><stop offset=".167" stop-color="#3900bc"/><stop offset=".333" stop-color="#3c00a3"/><stop offset=".417" stop-color="#3e0095"/><stop offset=".5" stop-color="#400084"/><stop offset=".583" stop-color="#410071"/><stop offset=".667" stop-color="#43005b"/><stop offset=".708" stop-color="#44004d"/><stop offset=".75" stop-color="#45003e"/><stop offset=".792" stop-color="#45002c"/><stop offset=".812" stop-color="#46002a"/><stop offset=".833" stop-color="#46002a"/><stop offset=".854" stop-color="#47002a"/><stop offset=".875" stop-color="#47002a"/><stop offset=".887" stop-color="#480027"/><stop offset=".9" stop-color="#4c001f"/><stop offset=".908" stop-color="#500017"/><stop offset=".917" stop-color="#53000c"/><stop offset=".925" stop-color="#560001"/><stop offset=".933" stop-color="#590000"/><stop offset=".942" stop-color="#5a0000"/><stop offset=".95" stop-color="#5a0000"/><stop offset=".958" stop-color="#5a0000"/><stop offset=".967" stop-color="#5b0000"/><stop offset=".975" stop-color="#5e0000"/><stop offset=".983" stop-color="#5f0000"/><stop offset=".992" stop-color="#620000"/><stop offset="1" stop-color="#640000"/></linearGradient><linearGradient id="b61" gradientUnits="userSpaceOnUse" x1="0" y1="229" x2="0" y2="379"><stop offset="0" stop-color="#3600d1"/><stop offset=".167" stop-color="#3900bc"/><stop offset=".333" stop-color="#3c00a3"/><stop offset=".417" stop-color="#3e0094"/><stop offset=".5" stop-color="#400084"/><stop offset=".583" stop-color="#410071"/><stop offset=".667" stop-color="#43005a"/><stop offset=".708" stop-color="#44004d"/><stop offset=".75" stop-color="#45003e"/><stop offset=".792" stop-color="#45002c"/><stop offset=".812" stop-color="#46002a"/><stop offset=".833" stop-color="#46002a"/><stop offset=".854" stop-color="#47002a"/><stop offset=".875" stop-color="#47002a"/><stop offset=".887" stop-color="#4b0027"/><stop offset=".9" stop-color="#50001f"/><stop offset=".908" stop-color="#530017"/><stop offset=".917" stop-color="#57000c"/><stop offset=".925" stop-color="#590001"/><stop offset=".933" stop-color="#5a0000"/><stop offset=".942" stop-color="#5a0000"/><stop offset=".95" stop-color="#5a0000"/><stop offset=".958" stop-color="#5a0000"/><stop offset=".967" stop-color="#5b0000"/><stop offset=".975" stop-color="#5e0000"/><stop offset=".983" stop-color="#5f0000"/><stop offset=".992" stop-color="#5f0000"/><stop offset="1" stop-color="#5f0000"/></linearGradient><linearGradient id="b62" gradientUnits="userSpaceOnUse" x1="0" y1="229" x2="0" y2="379"><stop offset="0" stop-color="#3600d1"/><stop offset=".167" stop-color="#3900bc"/><stop offset=".333" stop-color="#3c00a3"/><stop offset=".417" stop-color="#3e0094"/><stop offset=".5" stop-color="#400084"/><stop offset=".583" stop-color="#410071"/><stop offset=".667" stop-color="#43005a"/><stop offset=".708" stop-color="#44004d"/><stop offset=".75" stop-color="#45003d"/><stop offset=".792" stop-color="#45002c"/><stop offset=".812" stop-color="#46002a"/><stop offset=".833" stop-color="#46002a"/><stop offset=".854" stop-color="#47002a"/><stop offset=".875" stop-color="#49002a"/><stop offset=".887" stop-color="#4e0027"/><stop offset=".9" stop-color="#54001f"/><stop offset=".908" stop-color="#570017"/><stop offset=".917" stop-color="#59000c"/><stop offset=".925" stop-color="#5a0001"/><stop offset=".933" stop-color="#5a0000"/><stop offset=".942" stop-color="#5a0000"/><stop offset=".95" stop-color="#5a0000"/><stop offset=".958" stop-color="#5a0000"/><stop offset=".967" stop-color="#5b0000"/><stop offset=".975" stop-color="#5e0000"/><stop offset=".983" stop-color="#5f0000"/><stop offset=".992" stop-color="#5f0000"/><stop offset="1" stop-color="#5f0000"/></linearGradient><linearGradient id="b63" gradientUnits="userSpaceOnUse" x1="0" y1="229" x2="0" y2="379"><stop offset="0" stop-color="#3600d1"/><stop offset=".167" stop-color="#3900bc"/><stop offset=".333" stop-color="#3c00a3"/><stop offset=".417" stop-color="#3e0094"/><stop offset=".5" stop-color="#400084"/><stop offset=".583" stop-color="#410071"/><stop offset=".667" stop-color="#43005a"/><stop offset=".708" stop-color="#44004d"/><stop offset=".75" stop-color="#45003d"/><stop offset=".792" stop-color="#45002b"/><stop offset=".812" stop-color="#46002a"/><stop offset=".833" stop-color="#46002a"/><stop offset=".854" stop-color="#47002a"/><stop offset=".875" stop-color="#4c002a"/><stop offset=".887" stop-color="#520027"/><stop offset=".9" stop-color="#57001f"/><stop offset=".908" stop-color="#590017"/><stop offset=".917" stop-color="#5a000c"/><stop offset=".925" stop-color="#5a0001"/><stop offset=".933" stop-color="#5a0000"/><stop offset=".942" stop-color="#5a0000"/><stop offset=".95" stop-color="#5a0000"/><stop offset=".958" stop-color="#5a0000"/><stop offset=".967" stop-color="#5b0000"/><stop offset=".975" stop-color="#5e0000"/><stop offset=".983" stop-color="#5f0000"/><stop offset=".992" stop-color="#650000"/><stop offset="1" stop-color="#6b0000"/></linearGradient><linearGradient id="b64" gradientUnits="userSpaceOnUse" x1="0" y1="229" x2="0" y2="379"><stop offset="0" stop-color="#3600d1"/><stop offset=".167" stop-color="#3900bc"/><stop offset=".333" stop-color="#3c00a3"/><stop offset=".417" stop-color="#3e0094"/><stop offset=".5" stop-color="#400084"/><stop offset=".583" stop-color="#410071"/><stop offset=".667" stop-color="#43005a"/><stop offset=".708" stop-color="#44004d"/><stop offset=".75" stop-color="#45003d"/><stop offset=".792" stop-color="#45002b"/><stop offset=".812" stop-color="#46002a"/><stop offset=".833" stop-color="#46002a"/><stop offset=".854" stop-color="#47002a"/><stop offset=".875" stop-color="#4d002a"/><stop offset=".887" stop-color="#520027"/><stop offset=".9" stop-color="#57001f"/><stop offset=".908" stop-color="#590017"/><stop offset=".917" stop-color="#5a000c"/><stop offset=".925" stop-color="#5a0001"/><stop offset=".933" stop-color="#5a0000"/><stop offset=".942" stop-color="#5a0000"/><stop offset=".95" stop-color="#5a0000"/><stop offset=".958" stop-color="#5a0000"/><stop offset=".967" stop-color="#5b0000"/><stop offset=".975" stop-color="#5e0000"/><stop offset=".983" stop-color="#5f0000"/><stop offset=".992" stop-color="#670000"/><stop offset="1" stop-color="#6f0000"/></linearGradient><linearGradient id="b65" gradientUnits="userSpaceOnUse" x1="0" y1="229" x2="0" y2="379"><stop offset="0" stop-color="#3600d1"/><stop offset=".167" stop-color="#3900bc"/><stop offset=".333" stop-color="#3c00a3"/><stop offset=".417" stop-color="#3e0094"/><stop offset=".5" stop-color="#400084"/><stop offset=".583" stop-color="#410071"/><stop offset=".667" stop-color="#43005a"/><stop offset=".708" stop-color="#44004c"/><stop offset=".75" stop-color="#45003d"/><stop offset=".792" stop-color="#45002b"/><stop offset=".812" stop-color="#46002a"/><stop offset=".833" stop-color="#46002a"/><stop offset=".854" stop-color="#47002a"/><stop offset=".875" stop-color="#4d002a"/><stop offset=".887" stop-color="#530027"/><stop offset=".9" stop-color="#58001f"/><stop offset=".908" stop-color="#590017"/><stop offset=".917" stop-color="#5a000c"/><stop offset=".925" stop-color="#5a0001"/><stop offset=".933" stop-color="#5a0000"/><stop offset=".942" stop-color="#5a0000"/><stop offset=".95" stop-color="#5a0000"/><stop offset=".958" stop-color="#5a0000"/><stop offset=".967" stop-color="#5b0000"/><stop offset=".975" stop-color="#5e0000"/><stop offset=".983" stop-color="#5f0000"/><stop offset=".992" stop-color="#670000"/><stop offset="1" stop-color="#6f0000"/></linearGradient><linearGradient id="b66" gradientUnits="userSpaceOnUse" x1="0" y1="229" x2="0" y2="379"><stop offset="0" stop-color="#3600d1"/><stop offset=".167" stop-color="#3900bc"/><stop offset=".333" stop-color="#3c00a3"/><stop offset=".417" stop-color="#3e0094"/><stop offset=".5" stop-color="#400084"/><stop offset=".583" stop-color="#410071"/><stop offset=".667" stop-color="#43005a"/><stop offset=".708" stop-color="#44004c"/><stop offset=".75" stop-color="#45003d"/><stop offset=".792" stop-color="#45002b"/><stop offset=".812" stop-color="#46002a"/><stop offset=".833" stop-color="#46002a"/><stop offset=".854" stop-color="#47002a"/><stop offset=".875" stop-color="#4e002a"/><stop offset=".887" stop-color="#530027"/><stop offset=".9" stop-color="#58001f"/><stop offset=".908" stop-color="#5a0017"/><stop offset=".917" stop-color="#5a000c"/><stop offset=".925" stop-color="#5a0001"/><stop offset=".933" stop-color="#5a0000"/><stop offset=".942" stop-color="#5a0000"/><stop offset=".95" stop-color="#5a0000"/><stop offset=".958" stop-color="#5a0000"/><stop offset=".967" stop-color="#5b0000"/><stop offset=".975" stop-color="#5e0000"/><stop offset=".983" stop-color="#5f0000"/><stop offset=".992" stop-color="#670000"/><stop offset="1" stop-color="#6f0000"/></linearGradient><linearGradient id="k0" gradientUnits="userSpaceOnUse" x1="0" y1="39" x2="0" y2="189"><stop offset=".687" stop-color="#000000"/><stop offset=".838" stop-color="#ffffff"/></linearGradient><linearGradient id="k1" gradientUnits="userSpaceOnUse" x1="0" y1="39" x2="0" y2="189"><stop offset=".687" stop-color="#000000"/><stop offset=".838" stop-color="#ffffff"/></linearGradient><linearGradient id="k2" gradientUnits="userSpaceOnUse" x1="0" y1="39" x2="0" y2="189"><stop offset=".725" stop-color="#000000"/><stop offset=".877" stop-color="#ffffff"/></linearGradient><linearGradient id="k3" gradientUnits="userSpaceOnUse" x1="0" y1="39" x2="0" y2="189"><stop offset=".728" stop-color="#000000"/><stop offset=".879" stop-color="#ffffff"/></linearGradient><linearGradient id="k4" gradientUnits="userSpaceOnUse" x1="0" y1="39" x2="0" y2="189"><stop offset=".736" stop-color="#000000"/><stop offset=".887" stop-color="#ffffff"/></linearGradient><linearGradient id="k5" gradientUnits="userSpaceOnUse" x1="0" y1="39" x2="0" y2="189"><stop offset=".75" stop-color="#000000"/><stop offset=".902" stop-color="#ffffff"/></linearGradient><linearGradient id="k6" gradientUnits="userSpaceOnUse" x1="0" y1="39" x2="0" y2="189"><stop offset=".76" stop-color="#000000"/><stop offset=".911" stop-color="#ffffff"/></linearGradient><linearGradient id="k7" gradientUnits="userSpaceOnUse" x1="0" y1="39" x2="0" y2="189"><stop offset=".783" stop-color="#000000"/><stop offset=".934" stop-color="#ffffff"/></linearGradient><linearGradient id="k8" gradientUnits="userSpaceOnUse" x1="0" y1="39" x2="0" y2="189"><stop offset=".797" stop-color="#000000"/><stop offset=".948" stop-color="#ffffff"/></linearGradient><linearGradient id="k9" gradientUnits="userSpaceOnUse" x1="0" y1="39" x2="0" y2="189"><stop offset=".799" stop-color="#000000"/><stop offset=".95" stop-color="#ffffff"/></linearGradient><linearGradient id="k10" gradientUnits="userSpaceOnUse" x1="0" y1="39" x2="0" y2="189"><stop offset=".769" stop-color="#000000"/><stop offset=".921" stop-color="#ffffff"/></linearGradient><linearGradient id="k11" gradientUnits="userSpaceOnUse" x1="0" y1="39" x2="0" y2="189"><stop offset=".767" stop-color="#000000"/><stop offset=".918" stop-color="#ffffff"/></linearGradient><linearGradient id="k12" gradientUnits="userSpaceOnUse" x1="0" y1="39" x2="0" y2="189"><stop offset=".776" stop-color="#000000"/><stop offset=".928" stop-color="#ffffff"/></linearGradient><linearGradient id="k13" gradientUnits="userSpaceOnUse" x1="0" y1="39" x2="0" y2="189"><stop offset=".788" stop-color="#000000"/><stop offset=".94" stop-color="#ffffff"/></linearGradient><linearGradient id="k14" gradientUnits="userSpaceOnUse" x1="0" y1="39" x2="0" y2="189"><stop offset=".793" stop-color="#000000"/><stop offset=".945" stop-color="#ffffff"/></linearGradient><linearGradient id="k15" gradientUnits="userSpaceOnUse" x1="0" y1="39" x2="0" y2="189"><stop offset=".799" stop-color="#000000"/><stop offset=".95" stop-color="#ffffff"/></linearGradient><linearGradient id="k16" gradientUnits="userSpaceOnUse" x1="0" y1="39" x2="0" y2="189"><stop offset=".804" stop-color="#000000"/><stop offset=".955" stop-color="#ffffff"/></linearGradient><linearGradient id="k17" gradientUnits="userSpaceOnUse" x1="0" y1="39" x2="0" y2="189"><stop offset=".808" stop-color="#000000"/><stop offset=".959" stop-color="#ffffff"/></linearGradient><linearGradient id="k18" gradientUnits="userSpaceOnUse" x1="0" y1="39" x2="0" y2="189"><stop offset=".808" stop-color="#000000"/><stop offset=".96" stop-color="#ffffff"/></linearGradient><linearGradient id="k19" gradientUnits="userSpaceOnUse" x1="0" y1="39" x2="0" y2="189"><stop offset=".808" stop-color="#000000"/><stop offset=".96" stop-color="#ffffff"/></linearGradient><linearGradient id="k20" gradientUnits="userSpaceOnUse" x1="0" y1="39" x2="0" y2="189"><stop offset=".808" stop-color="#000000"/><stop offset=".96" stop-color="#ffffff"/></linearGradient><linearGradient id="k21" gradientUnits="userSpaceOnUse" x1="0" y1="39" x2="0" y2="189"><stop offset=".809" stop-color="#000000"/><stop offset=".96" stop-color="#ffffff"/></linearGradient><linearGradient id="k22" gradientUnits="userSpaceOnUse" x1="0" y1="39" x2="0" y2="189"><stop offset=".809" stop-color="#000000"/><stop offset=".961" stop-color="#ffffff"/></linearGradient><linearGradient id="k23" gradientUnits="userSpaceOnUse" x1="0" y1="39" x2="0" y2="189"><stop offset=".804" stop-color="#000000"/><stop offset=".956" stop-color="#ffffff"/></linearGradient><linearGradient id="k24" gradientUnits="userSpaceOnUse" x1="0" y1="39" x2="0" y2="189"><stop offset=".788" stop-color="#000000"/><stop offset=".94" stop-color="#ffffff"/></linearGradient><linearGradient id="k25" gradientUnits="userSpaceOnUse" x1="0" y1="39" x2="0" y2="189"><stop offset=".778" stop-color="#000000"/><stop offset=".929" stop-color="#ffffff"/></linearGradient><linearGradient id="k26" gradientUnits="userSpaceOnUse" x1="0" y1="39" x2="0" y2="189"><stop offset=".774" stop-color="#000000"/><stop offset=".925" stop-color="#ffffff"/></linearGradient><linearGradient id="k27" gradientUnits="userSpaceOnUse" x1="0" y1="39" x2="0" y2="189"><stop offset=".769" stop-color="#000000"/><stop offset=".921" stop-color="#ffffff"/></linearGradient><linearGradient id="k28" gradientUnits="userSpaceOnUse" x1="0" y1="39" x2="0" y2="189"><stop offset=".765" stop-color="#000000"/><stop offset=".917" stop-color="#ffffff"/></linearGradient><linearGradient id="k29" gradientUnits="userSpaceOnUse" x1="0" y1="39" x2="0" y2="189"><stop offset=".761" stop-color="#000000"/><stop offset=".913" stop-color="#ffffff"/></linearGradient><linearGradient id="k30" gradientUnits="userSpaceOnUse" x1="0" y1="39" x2="0" y2="189"><stop offset=".757" stop-color="#000000"/><stop offset=".909" stop-color="#ffffff"/></linearGradient><linearGradient id="k31" gradientUnits="userSpaceOnUse" x1="0" y1="39" x2="0" y2="189"><stop offset=".753" stop-color="#000000"/><stop offset=".905" stop-color="#ffffff"/></linearGradient><linearGradient id="k32" gradientUnits="userSpaceOnUse" x1="0" y1="39" x2="0" y2="189"><stop offset=".749" stop-color="#000000"/><stop offset=".901" stop-color="#ffffff"/></linearGradient><linearGradient id="k33" gradientUnits="userSpaceOnUse" x1="0" y1="39" x2="0" y2="189"><stop offset=".745" stop-color="#000000"/><stop offset=".897" stop-color="#ffffff"/></linearGradient><linearGradient id="k34" gradientUnits="userSpaceOnUse" x1="0" y1="39" x2="0" y2="189"><stop offset=".742" stop-color="#000000"/><stop offset=".894" stop-color="#ffffff"/></linearGradient><linearGradient id="k35" gradientUnits="userSpaceOnUse" x1="0" y1="39" x2="0" y2="189"><stop offset=".737" stop-color="#000000"/><stop offset=".889" stop-color="#ffffff"/></linearGradient><linearGradient id="k36" gradientUnits="userSpaceOnUse" x1="0" y1="39" x2="0" y2="189"><stop offset=".728" stop-color="#000000"/><stop offset=".88" stop-color="#ffffff"/></linearGradient><linearGradient id="k37" gradientUnits="userSpaceOnUse" x1="0" y1="39" x2="0" y2="189"><stop offset=".719" stop-color="#000000"/><stop offset=".871" stop-color="#ffffff"/></linearGradient><linearGradient id="k38" gradientUnits="userSpaceOnUse" x1="0" y1="39" x2="0" y2="189"><stop offset=".711" stop-color="#000000"/><stop offset=".862" stop-color="#ffffff"/></linearGradient><linearGradient id="k39" gradientUnits="userSpaceOnUse" x1="0" y1="39" x2="0" y2="189"><stop offset=".709" stop-color="#000000"/><stop offset=".861" stop-color="#ffffff"/></linearGradient><linearGradient id="k40" gradientUnits="userSpaceOnUse" x1="0" y1="39" x2="0" y2="189"><stop offset=".708" stop-color="#000000"/><stop offset=".859" stop-color="#ffffff"/></linearGradient><linearGradient id="k41" gradientUnits="userSpaceOnUse" x1="0" y1="39" x2="0" y2="189"><stop offset=".706" stop-color="#000000"/><stop offset=".858" stop-color="#ffffff"/></linearGradient><linearGradient id="k42" gradientUnits="userSpaceOnUse" x1="0" y1="39" x2="0" y2="189"><stop offset=".706" stop-color="#000000"/><stop offset=".857" stop-color="#ffffff"/></linearGradient><linearGradient id="k43" gradientUnits="userSpaceOnUse" x1="0" y1="39" x2="0" y2="189"><stop offset=".705" stop-color="#000000"/><stop offset=".857" stop-color="#ffffff"/></linearGradient><linearGradient id="k44" gradientUnits="userSpaceOnUse" x1="0" y1="39" x2="0" y2="189"><stop offset=".705" stop-color="#000000"/><stop offset=".857" stop-color="#ffffff"/></linearGradient><linearGradient id="k45" gradientUnits="userSpaceOnUse" x1="0" y1="39" x2="0" y2="189"><stop offset=".705" stop-color="#000000"/><stop offset=".856" stop-color="#ffffff"/></linearGradient><linearGradient id="k46" gradientUnits="userSpaceOnUse" x1="0" y1="39" x2="0" y2="189"><stop offset=".704" stop-color="#000000"/><stop offset=".856" stop-color="#ffffff"/></linearGradient><linearGradient id="k47" gradientUnits="userSpaceOnUse" x1="0" y1="39" x2="0" y2="189"><stop offset=".704" stop-color="#000000"/><stop offset=".856" stop-color="#ffffff"/></linearGradient><linearGradient id="k48" gradientUnits="userSpaceOnUse" x1="0" y1="39" x2="0" y2="189"><stop offset=".704" stop-color="#000000"/><stop offset=".855" stop-color="#ffffff"/></linearGradient><linearGradient id="k49" gradientUnits="userSpaceOnUse" x1="0" y1="39" x2="0" y2="189"><stop offset=".703" stop-color="#000000"/><stop offset=".855" stop-color="#ffffff"/></linearGradient><linearGradient id="k50" gradientUnits="userSpaceOnUse" x1="0" y1="39" x2="0" y2="189"><stop offset=".702" stop-color="#000000"/><stop offset=".854" stop-color="#ffffff"/></linearGradient><linearGradient id="k51" gradientUnits="userSpaceOnUse" x1="0" y1="39" x2="0" y2="189"><stop offset=".701" stop-color="#000000"/><stop offset=".852" stop-color="#ffffff"/></linearGradient><linearGradient id="k52" gradientUnits="userSpaceOnUse" x1="0" y1="39" x2="0" y2="189"><stop offset=".699" stop-color="#000000"/><stop offset=".851" stop-color="#ffffff"/></linearGradient><linearGradient id="k53" gradientUnits="userSpaceOnUse" x1="0" y1="39" x2="0" y2="189"><stop offset=".698" stop-color="#000000"/><stop offset=".849" stop-color="#ffffff"/></linearGradient><linearGradient id="k54" gradientUnits="userSpaceOnUse" x1="0" y1="39" x2="0" y2="189"><stop offset=".696" stop-color="#000000"/><stop offset=".848" stop-color="#ffffff"/></linearGradient><linearGradient id="k55" gradientUnits="userSpaceOnUse" x1="0" y1="39" x2="0" y2="189"><stop offset=".695" stop-color="#000000"/><stop offset=".846" stop-color="#ffffff"/></linearGradient><linearGradient id="k56" gradientUnits="userSpaceOnUse" x1="0" y1="39" x2="0" y2="189"><stop offset=".694" stop-color="#000000"/><stop offset=".846" stop-color="#ffffff"/></linearGradient><linearGradient id="k57" gradientUnits="userSpaceOnUse" x1="0" y1="39" x2="0" y2="189"><stop offset=".693" stop-color="#000000"/><stop offset=".845" stop-color="#ffffff"/></linearGradient><linearGradient id="k58" gradientUnits="userSpaceOnUse" x1="0" y1="39" x2="0" y2="189"><stop offset=".692" stop-color="#000000"/><stop offset=".844" stop-color="#ffffff"/></linearGradient><linearGradient id="k59" gradientUnits="userSpaceOnUse" x1="0" y1="39" x2="0" y2="189"><stop offset=".692" stop-color="#000000"/><stop offset=".843" stop-color="#ffffff"/></linearGradient><linearGradient id="k60" gradientUnits="userSpaceOnUse" x1="0" y1="39" x2="0" y2="189"><stop offset=".691" stop-color="#000000"/><stop offset=".843" stop-color="#ffffff"/></linearGradient><linearGradient id="k61" gradientUnits="userSpaceOnUse" x1="0" y1="39" x2="0" y2="189"><stop offset=".692" stop-color="#000000"/><stop offset=".843" stop-color="#ffffff"/></linearGradient><linearGradient id="k62" gradientUnits="userSpaceOnUse" x1="0" y1="39" x2="0" y2="189"><stop offset=".692" stop-color="#000000"/><stop offset=".844" stop-color="#ffffff"/></linearGradient><linearGradient id="k63" gradientUnits="userSpaceOnUse" x1="0" y1="39" x2="0" y2="189"><stop offset=".693" stop-color="#000000"/><stop offset=".845" stop-color="#ffffff"/></linearGradient><linearGradient id="k64" gradientUnits="userSpaceOnUse" x1="0" y1="39" x2="0" y2="189"><stop offset=".694" stop-color="#000000"/><stop offset=".846" stop-color="#ffffff"/></linearGradient><linearGradient id="k65" gradientUnits="userSpaceOnUse" x1="0" y1="39" x2="0" y2="189"><stop offset=".695" stop-color="#000000"/><stop offset=".846" stop-color="#ffffff"/></linearGradient><linearGradient id="k66" gradientUnits="userSpaceOnUse" x1="0" y1="39" x2="0" y2="189"><stop offset=".695" stop-color="#000000"/><stop offset=".847" stop-color="#ffffff"/></linearGradient><linearGradient id="w0" gradientUnits="userSpaceOnUse" x1="0" y1="229" x2="0" y2="379"><stop offset="0" stop-color="#b0b0b0"/><stop offset=".333" stop-color="#aaaaaa"/><stop offset=".417" stop-color="#a9a9a9"/><stop offset=".458" stop-color="#a6a6a6"/><stop offset=".542" stop-color="#a3a3a3"/><stop offset=".583" stop-color="#a1a1a1"/><stop offset=".625" stop-color="#9c9c9c"/><stop offset=".667" stop-color="#989898"/><stop offset=".75" stop-color="#909090"/><stop offset=".758" stop-color="#909090"/><stop offset=".8" stop-color="#909090"/><stop offset=".842" stop-color="#909090"/><stop offset=".858" stop-color="#909090"/><stop offset=".892" stop-color="#969696"/><stop offset=".921" stop-color="#ffffff"/><stop offset="1" stop-color="#ffffff"/></linearGradient><linearGradient id="w1" gradientUnits="userSpaceOnUse" x1="0" y1="229" x2="0" y2="379"><stop offset="0" stop-color="#b0b0b0"/><stop offset=".333" stop-color="#aaaaaa"/><stop offset=".417" stop-color="#a9a9a9"/><stop offset=".458" stop-color="#a6a6a6"/><stop offset=".542" stop-color="#a3a3a3"/><stop offset=".583" stop-color="#a1a1a1"/><stop offset=".625" stop-color="#9c9c9c"/><stop offset=".667" stop-color="#989898"/><stop offset=".75" stop-color="#909090"/><stop offset=".758" stop-color="#909090"/><stop offset=".8" stop-color="#909090"/><stop offset=".842" stop-color="#909090"/><stop offset=".858" stop-color="#909090"/><stop offset=".892" stop-color="#969696"/><stop offset=".921" stop-color="#ffffff"/><stop offset="1" stop-color="#ffffff"/></linearGradient><linearGradient id="w2" gradientUnits="userSpaceOnUse" x1="0" y1="229" x2="0" y2="379"><stop offset="0" stop-color="#b0b0b0"/><stop offset=".333" stop-color="#aaaaaa"/><stop offset=".417" stop-color="#a9a9a9"/><stop offset=".458" stop-color="#a7a7a7"/><stop offset=".542" stop-color="#a3a3a3"/><stop offset=".583" stop-color="#a2a2a2"/><stop offset=".625" stop-color="#9c9c9c"/><stop offset=".667" stop-color="#999999"/><stop offset=".75" stop-color="#909090"/><stop offset=".758" stop-color="#909090"/><stop offset=".8" stop-color="#909090"/><stop offset=".842" stop-color="#909090"/><stop offset=".858" stop-color="#909090"/><stop offset=".892" stop-color="#979797"/><stop offset=".921" stop-color="#ffffff"/><stop offset="1" stop-color="#ffffff"/></linearGradient><linearGradient id="w3" gradientUnits="userSpaceOnUse" x1="0" y1="229" x2="0" y2="379"><stop offset="0" stop-color="#b0b0b0"/><stop offset=".333" stop-color="#aaaaaa"/><stop offset=".417" stop-color="#a9a9a9"/><stop offset=".458" stop-color="#a7a7a7"/><stop offset=".542" stop-color="#a3a3a3"/><stop offset=".583" stop-color="#a2a2a2"/><stop offset=".625" stop-color="#9c9c9c"/><stop offset=".667" stop-color="#999999"/><stop offset=".75" stop-color="#909090"/><stop offset=".758" stop-color="#909090"/><stop offset=".8" stop-color="#909090"/><stop offset=".842" stop-color="#909090"/><stop offset=".858" stop-color="#909090"/><stop offset=".892" stop-color="#979797"/><stop offset=".921" stop-color="#ffffff"/><stop offset="1" stop-color="#ffffff"/></linearGradient><linearGradient id="w4" gradientUnits="userSpaceOnUse" x1="0" y1="229" x2="0" y2="379"><stop offset="0" stop-color="#b0b0b0"/><stop offset=".333" stop-color="#aaaaaa"/><stop offset=".417" stop-color="#a9a9a9"/><stop offset=".458" stop-color="#a7a7a7"/><stop offset=".542" stop-color="#a3a3a3"/><stop offset=".583" stop-color="#a2a2a2"/><stop offset=".625" stop-color="#9d9d9d"/><stop offset=".667" stop-color="#999999"/><stop offset=".75" stop-color="#919191"/><stop offset=".758" stop-color="#919191"/><stop offset=".8" stop-color="#919191"/><stop offset=".842" stop-color="#919191"/><stop offset=".858" stop-color="#919191"/><stop offset=".892" stop-color="#979797"/><stop offset=".921" stop-color="#ffffff"/><stop offset="1" stop-color="#ffffff"/></linearGradient><linearGradient id="w5" gradientUnits="userSpaceOnUse" x1="0" y1="229" x2="0" y2="379"><stop offset="0" stop-color="#b1b1b1"/><stop offset=".333" stop-color="#ababab"/><stop offset=".417" stop-color="#aaaaaa"/><stop offset=".458" stop-color="#a7a7a7"/><stop offset=".542" stop-color="#a3a3a3"/><stop offset=".583" stop-color="#a2a2a2"/><stop offset=".625" stop-color="#9d9d9d"/><stop offset=".667" stop-color="#999999"/><stop offset=".75" stop-color="#919191"/><stop offset=".758" stop-color="#919191"/><stop offset=".8" stop-color="#919191"/><stop offset=".842" stop-color="#919191"/><stop offset=".858" stop-color="#919191"/><stop offset=".892" stop-color="#979797"/><stop offset=".921" stop-color="#ffffff"/><stop offset="1" stop-color="#ffffff"/></linearGradient><linearGradient id="w6" gradientUnits="userSpaceOnUse" x1="0" y1="229" x2="0" y2="379"><stop offset="0" stop-color="#b1b1b1"/><stop offset=".333" stop-color="#ababab"/><stop offset=".417" stop-color="#aaaaaa"/><stop offset=".458" stop-color="#a7a7a7"/><stop offset=".542" stop-color="#a4a4a4"/><stop offset=".583" stop-color="#a2a2a2"/><stop offset=".625" stop-color="#9d9d9d"/><stop offset=".667" stop-color="#999999"/><stop offset=".75" stop-color="#919191"/><stop offset=".758" stop-color="#919191"/><stop offset=".8" stop-color="#919191"/><stop offset=".842" stop-color="#919191"/><stop offset=".858" stop-color="#919191"/><stop offset=".892" stop-color="#979797"/><stop offset=".921" stop-color="#ffffff"/><stop offset="1" stop-color="#ffffff"/></linearGradient><linearGradient id="w7" gradientUnits="userSpaceOnUse" x1="0" y1="229" x2="0" y2="379"><stop offset="0" stop-color="#b1b1b1"/><stop offset=".333" stop-color="#ababab"/><stop offset=".417" stop-color="#aaaaaa"/><stop offset=".458" stop-color="#a7a7a7"/><stop offset=".542" stop-color="#a4a4a4"/><stop offset=".583" stop-color="#a2a2a2"/><stop offset=".625" stop-color="#9d9d9d"/><stop offset=".667" stop-color="#9a9a9a"/><stop offset=".75" stop-color="#919191"/><stop offset=".758" stop-color="#919191"/><stop offset=".8" stop-color="#919191"/><stop offset=".842" stop-color="#919191"/><stop offset=".858" stop-color="#919191"/><stop offset=".892" stop-color="#989898"/><stop offset=".921" stop-color="#ffffff"/><stop offset="1" stop-color="#ffffff"/></linearGradient><linearGradient id="w8" gradientUnits="userSpaceOnUse" x1="0" y1="229" x2="0" y2="379"><stop offset="0" stop-color="#b1b1b1"/><stop offset=".333" stop-color="#ababab"/><stop offset=".417" stop-color="#aaaaaa"/><stop offset=".458" stop-color="#a8a8a8"/><stop offset=".542" stop-color="#a4a4a4"/><stop offset=".583" stop-color="#a3a3a3"/><stop offset=".625" stop-color="#9d9d9d"/><stop offset=".667" stop-color="#9a9a9a"/><stop offset=".75" stop-color="#929292"/><stop offset=".758" stop-color="#929292"/><stop offset=".8" stop-color="#929292"/><stop offset=".842" stop-color="#929292"/><stop offset=".858" stop-color="#929292"/><stop offset=".892" stop-color="#989898"/><stop offset=".921" stop-color="#ffffff"/><stop offset="1" stop-color="#ffffff"/></linearGradient><linearGradient id="w9" gradientUnits="userSpaceOnUse" x1="0" y1="229" x2="0" y2="379"><stop offset="0" stop-color="#b1b1b1"/><stop offset=".333" stop-color="#ababab"/><stop offset=".417" stop-color="#aaaaaa"/><stop offset=".458" stop-color="#a8a8a8"/><stop offset=".542" stop-color="#a4a4a4"/><stop offset=".583" stop-color="#a3a3a3"/><stop offset=".625" stop-color="#9e9e9e"/><stop offset=".667" stop-color="#9a9a9a"/><stop offset=".75" stop-color="#929292"/><stop offset=".758" stop-color="#929292"/><stop offset=".8" stop-color="#929292"/><stop offset=".842" stop-color="#929292"/><stop offset=".858" stop-color="#929292"/><stop offset=".892" stop-color="#989898"/><stop offset=".921" stop-color="#ffffff"/><stop offset="1" stop-color="#ffffff"/></linearGradient><linearGradient id="w10" gradientUnits="userSpaceOnUse" x1="0" y1="229" x2="0" y2="379"><stop offset="0" stop-color="#b2b2b2"/><stop offset=".333" stop-color="#acacac"/><stop offset=".417" stop-color="#ababab"/><stop offset=".458" stop-color="#a8a8a8"/><stop offset=".542" stop-color="#a5a5a5"/><stop offset=".583" stop-color="#a3a3a3"/><stop offset=".625" stop-color="#9e9e9e"/><stop offset=".667" stop-color="#9b9b9b"/><stop offset=".75" stop-color="#939393"/><stop offset=".758" stop-color="#939393"/><stop offset=".8" stop-color="#939393"/><stop offset=".842" stop-color="#939393"/><stop offset=".858" stop-color="#939393"/><stop offset=".892" stop-color="#999999"/><stop offset=".921" stop-color="#ffffff"/><stop offset="1" stop-color="#ffffff"/></linearGradient><linearGradient id="w11" gradientUnits="userSpaceOnUse" x1="0" y1="229" x2="0" y2="379"><stop offset="0" stop-color="#b2b2b2"/><stop offset=".333" stop-color="#acacac"/><stop offset=".417" stop-color="#ababab"/><stop offset=".458" stop-color="#a9a9a9"/><stop offset=".542" stop-color="#a5a5a5"/><stop offset=".583" stop-color="#a4a4a4"/><stop offset=".625" stop-color="#9f9f9f"/><stop offset=".667" stop-color="#9b9b9b"/><stop offset=".75" stop-color="#949494"/><stop offset=".758" stop-color="#949494"/><stop offset=".8" stop-color="#949494"/><stop offset=".842" stop-color="#949494"/><stop offset=".858" stop-color="#949494"/><stop offset=".892" stop-color="#9a9a9a"/><stop offset=".921" stop-color="#ffffff"/><stop offset="1" stop-color="#ffffff"/></linearGradient><linearGradient id="w12" gradientUnits="userSpaceOnUse" x1="0" y1="229" x2="0" y2="379"><stop offset="0" stop-color="#b2b2b2"/><stop offset=".333" stop-color="#adadad"/><stop offset=".417" stop-color="#acacac"/><stop offset=".458" stop-color="#a9a9a9"/><stop offset=".542" stop-color="#a6a6a6"/><stop offset=".583" stop-color="#a4a4a4"/><stop offset=".625" stop-color="#a0a0a0"/><stop offset=".667" stop-color="#9c9c9c"/><stop offset=".75" stop-color="#949494"/><stop offset=".758" stop-color="#949494"/><stop offset=".8" stop-color="#949494"/><stop offset=".842" stop-color="#949494"/><stop offset=".858" stop-color="#949494"/><stop offset=".892" stop-color="#9a9a9a"/><stop offset=".921" stop-color="#ffffff"/><stop offset="1" stop-color="#ffffff"/></linearGradient><linearGradient id="w13" gradientUnits="userSpaceOnUse" x1="0" y1="229" x2="0" y2="379"><stop offset="0" stop-color="#b3b3b3"/><stop offset=".333" stop-color="#adadad"/><stop offset=".417" stop-color="#acacac"/><stop offset=".458" stop-color="#aaaaaa"/><stop offset=".542" stop-color="#a6a6a6"/><stop offset=".583" stop-color="#a5a5a5"/><stop offset=".625" stop-color="#a0a0a0"/><stop offset=".667" stop-color="#9d9d9d"/><stop offset=".75" stop-color="#959595"/><stop offset=".758" stop-color="#959595"/><stop offset=".8" stop-color="#959595"/><stop offset=".842" stop-color="#959595"/><stop offset=".858" stop-color="#959595"/><stop offset=".892" stop-color="#9b9b9b"/><stop offset=".921" stop-color="#ffffff"/><stop offset="1" stop-color="#ffffff"/></linearGradient><linearGradient id="w14" gradientUnits="userSpaceOnUse" x1="0" y1="229" x2="0" y2="379"><stop offset="0" stop-color="#b3b3b3"/><stop offset=".333" stop-color="#aeaeae"/><stop offset=".417" stop-color="#adadad"/><stop offset=".458" stop-color="#aaaaaa"/><stop offset=".542" stop-color="#a7a7a7"/><stop offset=".583" stop-color="#a6a6a6"/><stop offset=".625" stop-color="#a1a1a1"/><stop offset=".667" stop-color="#9d9d9d"/><stop offset=".75" stop-color="#969696"/><stop offset=".758" stop-color="#969696"/><stop offset=".8" stop-color="#969696"/><stop offset=".842" stop-color="#969696"/><stop offset=".858" stop-color="#969696"/><stop offset=".892" stop-color="#9c9c9c"/><stop offset=".921" stop-color="#ffffff"/><stop offset="1" stop-color="#ffffff"/></linearGradient><linearGradient id="w15" gradientUnits="userSpaceOnUse" x1="0" y1="229" x2="0" y2="379"><stop offset="0" stop-color="#b4b4b4"/><stop offset=".333" stop-color="#aeaeae"/><stop offset=".417" stop-color="#adadad"/><stop offset=".458" stop-color="#ababab"/><stop offset=".542" stop-color="#a7a7a7"/><stop offset=".583" stop-color="#a6a6a6"/><stop offset=".625" stop-color="#a1a1a1"/><stop offset=".667" stop-color="#9e9e9e"/><stop offset=".75" stop-color="#969696"/><stop offset=".758" stop-color="#969696"/><stop offset=".8" stop-color="#969696"/><stop offset=".842" stop-color="#969696"/><stop offset=".858" stop-color="#969696"/><stop offset=".892" stop-color="#9c9c9c"/><stop offset=".921" stop-color="#ffffff"/><stop offset="1" stop-color="#ffffff"/></linearGradient><linearGradient id="w16" gradientUnits="userSpaceOnUse" x1="0" y1="229" x2="0" y2="379"><stop offset="0" stop-color="#b4b4b4"/><stop offset=".333" stop-color="#aeaeae"/><stop offset=".417" stop-color="#adadad"/><stop offset=".458" stop-color="#ababab"/><stop offset=".542" stop-color="#a7a7a7"/><stop offset=".583" stop-color="#a6a6a6"/><stop offset=".625" stop-color="#a1a1a1"/><stop offset=".667" stop-color="#9e9e9e"/><stop offset=".75" stop-color="#979797"/><stop offset=".758" stop-color="#979797"/><stop offset=".8" stop-color="#979797"/><stop offset=".842" stop-color="#979797"/><stop offset=".858" stop-color="#979797"/><stop offset=".892" stop-color="#9c9c9c"/><stop offset=".921" stop-color="#ffffff"/><stop offset="1" stop-color="#ffffff"/></linearGradient><linearGradient id="w17" gradientUnits="userSpaceOnUse" x1="0" y1="229" x2="0" y2="379"><stop offset="0" stop-color="#b4b4b4"/><stop offset=".333" stop-color="#aeaeae"/><stop offset=".417" stop-color="#adadad"/><stop offset=".458" stop-color="#ababab"/><stop offset=".542" stop-color="#a7a7a7"/><stop offset=".583" stop-color="#a6a6a6"/><stop offset=".625" stop-color="#a1a1a1"/><stop offset=".667" stop-color="#9e9e9e"/><stop offset=".75" stop-color="#979797"/><stop offset=".758" stop-color="#979797"/><stop offset=".8" stop-color="#979797"/><stop offset=".842" stop-color="#979797"/><stop offset=".858" stop-color="#979797"/><stop offset=".892" stop-color="#9c9c9c"/><stop offset=".921" stop-color="#ffffff"/><stop offset="1" stop-color="#ffffff"/></linearGradient><linearGradient id="w18" gradientUnits="userSpaceOnUse" x1="0" y1="229" x2="0" y2="379"><stop offset="0" stop-color="#b4b4b4"/><stop offset=".333" stop-color="#aeaeae"/><stop offset=".417" stop-color="#adadad"/><stop offset=".458" stop-color="#ababab"/><stop offset=".542" stop-color="#a8a8a8"/><stop offset=".583" stop-color="#a6a6a6"/><stop offset=".625" stop-color="#a2a2a2"/><stop offset=".667" stop-color="#9e9e9e"/><stop offset=".75" stop-color="#979797"/><stop offset=".758" stop-color="#979797"/><stop offset=".8" stop-color="#979797"/><stop offset=".842" stop-color="#979797"/><stop offset=".858" stop-color="#979797"/><stop offset=".892" stop-color="#9d9d9d"/><stop offset=".921" stop-color="#ffffff"/><stop offset="1" stop-color="#ffffff"/></linearGradient><linearGradient id="w19" gradientUnits="userSpaceOnUse" x1="0" y1="229" x2="0" y2="379"><stop offset="0" stop-color="#b4b4b4"/><stop offset=".333" stop-color="#aeaeae"/><stop offset=".417" stop-color="#adadad"/><stop offset=".458" stop-color="#ababab"/><stop offset=".542" stop-color="#a8a8a8"/><stop offset=".583" stop-color="#a7a7a7"/><stop offset=".625" stop-color="#a2a2a2"/><stop offset=".667" stop-color="#9f9f9f"/><stop offset=".75" stop-color="#979797"/><stop offset=".758" stop-color="#979797"/><stop offset=".8" stop-color="#979797"/><stop offset=".842" stop-color="#979797"/><stop offset=".858" stop-color="#979797"/><stop offset=".892" stop-color="#9d9d9d"/><stop offset=".921" stop-color="#ffffff"/><stop offset="1" stop-color="#ffffff"/></linearGradient><linearGradient id="w20" gradientUnits="userSpaceOnUse" x1="0" y1="229" x2="0" y2="379"><stop offset="0" stop-color="#b4b4b4"/><stop offset=".333" stop-color="#afafaf"/><stop offset=".417" stop-color="#aeaeae"/><stop offset=".458" stop-color="#ababab"/><stop offset=".542" stop-color="#a8a8a8"/><stop offset=".583" stop-color="#a7a7a7"/><stop offset=".625" stop-color="#a2a2a2"/><stop offset=".667" stop-color="#9f9f9f"/><stop offset=".75" stop-color="#989898"/><stop offset=".758" stop-color="#989898"/><stop offset=".8" stop-color="#989898"/><stop offset=".842" stop-color="#989898"/><stop offset=".858" stop-color="#989898"/><stop offset=".892" stop-color="#9d9d9d"/><stop offset=".921" stop-color="#ffffff"/><stop offset="1" stop-color="#ffffff"/></linearGradient><linearGradient id="w21" gradientUnits="userSpaceOnUse" x1="0" y1="229" x2="0" y2="379"><stop offset="0" stop-color="#b4b4b4"/><stop offset=".333" stop-color="#afafaf"/><stop offset=".417" stop-color="#aeaeae"/><stop offset=".458" stop-color="#acacac"/><stop offset=".542" stop-color="#a8a8a8"/><stop offset=".583" stop-color="#a7a7a7"/><stop offset=".625" stop-color="#a2a2a2"/><stop offset=".667" stop-color="#9f9f9f"/><stop offset=".75" stop-color="#989898"/><stop offset=".758" stop-color="#989898"/><stop offset=".8" stop-color="#989898"/><stop offset=".842" stop-color="#989898"/><stop offset=".858" stop-color="#989898"/><stop offset=".892" stop-color="#9d9d9d"/><stop offset=".921" stop-color="#ffffff"/><stop offset="1" stop-color="#ffffff"/></linearGradient><linearGradient id="w22" gradientUnits="userSpaceOnUse" x1="0" y1="229" x2="0" y2="379"><stop offset="0" stop-color="#b5b5b5"/><stop offset=".333" stop-color="#afafaf"/><stop offset=".417" stop-color="#aeaeae"/><stop offset=".458" stop-color="#acacac"/><stop offset=".542" stop-color="#a8a8a8"/><stop offset=".583" stop-color="#a7a7a7"/><stop offset=".625" stop-color="#a2a2a2"/><stop offset=".667" stop-color="#9f9f9f"/><stop offset=".75" stop-color="#989898"/><stop offset=".758" stop-color="#989898"/><stop offset=".8" stop-color="#989898"/><stop offset=".842" stop-color="#989898"/><stop offset=".858" stop-color="#989898"/><stop offset=".892" stop-color="#9d9d9d"/><stop offset=".921" stop-color="#ffffff"/><stop offset="1" stop-color="#ffffff"/></linearGradient><linearGradient id="w23" gradientUnits="userSpaceOnUse" x1="0" y1="229" x2="0" y2="379"><stop offset="0" stop-color="#b4b4b4"/><stop offset=".333" stop-color="#afafaf"/><stop offset=".417" stop-color="#aeaeae"/><stop offset=".458" stop-color="#ababab"/><stop offset=".542" stop-color="#a8a8a8"/><stop offset=".583" stop-color="#a7a7a7"/><stop offset=".625" stop-color="#a2a2a2"/><stop offset=".667" stop-color="#9f9f9f"/><stop offset=".75" stop-color="#989898"/><stop offset=".758" stop-color="#989898"/><stop offset=".8" stop-color="#989898"/><stop offset=".842" stop-color="#989898"/><stop offset=".858" stop-color="#989898"/><stop offset=".892" stop-color="#9d9d9d"/><stop offset=".921" stop-color="#ffffff"/><stop offset="1" stop-color="#ffffff"/></linearGradient><linearGradient id="w24" gradientUnits="userSpaceOnUse" x1="0" y1="229" x2="0" y2="379"><stop offset="0" stop-color="#b4b4b4"/><stop offset=".333" stop-color="#aeaeae"/><stop offset=".417" stop-color="#aeaeae"/><stop offset=".458" stop-color="#ababab"/><stop offset=".542" stop-color="#a8a8a8"/><stop offset=".583" stop-color="#a7a7a7"/><stop offset=".625" stop-color="#a2a2a2"/><stop offset=".667" stop-color="#9f9f9f"/><stop offset=".75" stop-color="#989898"/><stop offset=".758" stop-color="#989898"/><stop offset=".8" stop-color="#989898"/><stop offset=".842" stop-color="#989898"/><stop offset=".858" stop-color="#989898"/><stop offset=".892" stop-color="#9d9d9d"/><stop offset=".921" stop-color="#ffffff"/><stop offset="1" stop-color="#ffffff"/></linearGradient><linearGradient id="w25" gradientUnits="userSpaceOnUse" x1="0" y1="229" x2="0" y2="379"><stop offset="0" stop-color="#b4b4b4"/><stop offset=".333" stop-color="#aeaeae"/><stop offset=".417" stop-color="#adadad"/><stop offset=".458" stop-color="#ababab"/><stop offset=".542" stop-color="#a8a8a8"/><stop offset=".583" stop-color="#a6a6a6"/><stop offset=".625" stop-color="#a2a2a2"/><stop offset=".667" stop-color="#9e9e9e"/><stop offset=".75" stop-color="#979797"/><stop offset=".758" stop-color="#979797"/><stop offset=".8" stop-color="#979797"/><stop offset=".842" stop-color="#979797"/><stop offset=".858" stop-color="#979797"/><stop offset=".892" stop-color="#9d9d9d"/><stop offset=".921" stop-color="#ffffff"/><stop offset="1" stop-color="#ffffff"/></linearGradient><linearGradient id="w26" gradientUnits="userSpaceOnUse" x1="0" y1="229" x2="0" y2="379"><stop offset="0" stop-color="#b4b4b4"/><stop offset=".333" stop-color="#aeaeae"/><stop offset=".417" stop-color="#adadad"/><stop offset=".458" stop-color="#ababab"/><stop offset=".542" stop-color="#a7a7a7"/><stop offset=".583" stop-color="#a6a6a6"/><stop offset=".625" stop-color="#a1a1a1"/><stop offset=".667" stop-color="#9e9e9e"/><stop offset=".75" stop-color="#979797"/><stop offset=".758" stop-color="#979797"/><stop offset=".8" stop-color="#979797"/><stop offset=".842" stop-color="#979797"/><stop offset=".858" stop-color="#979797"/><stop offset=".892" stop-color="#9c9c9c"/><stop offset=".921" stop-color="#ffffff"/><stop offset="1" stop-color="#ffffff"/></linearGradient><linearGradient id="w27" gradientUnits="userSpaceOnUse" x1="0" y1="229" x2="0" y2="379"><stop offset="0" stop-color="#b4b4b4"/><stop offset=".333" stop-color="#aeaeae"/><stop offset=".417" stop-color="#adadad"/><stop offset=".458" stop-color="#ababab"/><stop offset=".542" stop-color="#a7a7a7"/><stop offset=".583" stop-color="#a6a6a6"/><stop offset=".625" stop-color="#a1a1a1"/><stop offset=".667" stop-color="#9e9e9e"/><stop offset=".75" stop-color="#969696"/><stop offset=".758" stop-color="#969696"/><stop offset=".8" stop-color="#969696"/><stop offset=".842" stop-color="#969696"/><stop offset=".858" stop-color="#969696"/><stop offset=".892" stop-color="#9c9c9c"/><stop offset=".921" stop-color="#ffffff"/><stop offset="1" stop-color="#ffffff"/></linearGradient><linearGradient id="w28" gradientUnits="userSpaceOnUse" x1="0" y1="229" x2="0" y2="379"><stop offset="0" stop-color="#b3b3b3"/><stop offset=".333" stop-color="#aeaeae"/><stop offset=".417" stop-color="#adadad"/><stop offset=".458" stop-color="#aaaaaa"/><stop offset=".542" stop-color="#a7a7a7"/><stop offset=".583" stop-color="#a6a6a6"/><stop offset=".625" stop-color="#a1a1a1"/><stop offset=".667" stop-color="#9d9d9d"/><stop offset=".75" stop-color="#969696"/><stop offset=".758" stop-color="#969696"/><stop offset=".8" stop-color="#969696"/><stop offset=".842" stop-color="#969696"/><stop offset=".858" stop-color="#969696"/><stop offset=".892" stop-color="#9c9c9c"/><stop offset=".921" stop-color="#ffffff"/><stop offset="1" stop-color="#ffffff"/></linearGradient><linearGradient id="w29" gradientUnits="userSpaceOnUse" x1="0" y1="229" x2="0" y2="379"><stop offset="0" stop-color="#b3b3b3"/><stop offset=".333" stop-color="#adadad"/><stop offset=".417" stop-color="#acacac"/><stop offset=".458" stop-color="#aaaaaa"/><stop offset=".542" stop-color="#a7a7a7"/><stop offset=".583" stop-color="#a5a5a5"/><stop offset=".625" stop-color="#a1a1a1"/><stop offset=".667" stop-color="#9d9d9d"/><stop offset=".75" stop-color="#969696"/><stop offset=".758" stop-color="#969696"/><stop offset=".8" stop-color="#969696"/><stop offset=".842" stop-color="#969696"/><stop offset=".858" stop-color="#969696"/><stop offset=".892" stop-color="#9b9b9b"/><stop offset=".921" stop-color="#ffffff"/><stop offset="1" stop-color="#ffffff"/></linearGradient><linearGradient id="w30" gradientUnits="userSpaceOnUse" x1="0" y1="229" x2="0" y2="379"><stop offset="0" stop-color="#b3b3b3"/><stop offset=".333" stop-color="#adadad"/><stop offset=".417" stop-color="#acacac"/><stop offset=".458" stop-color="#aaaaaa"/><stop offset=".542" stop-color="#a7a7a7"/><stop offset=".583" stop-color="#a5a5a5"/><stop offset=".625" stop-color="#a0a0a0"/><stop offset=".667" stop-color="#9d9d9d"/><stop offset=".75" stop-color="#969696"/><stop offset=".758" stop-color="#969696"/><stop offset=".8" stop-color="#969696"/><stop offset=".842" stop-color="#969696"/><stop offset=".858" stop-color="#969696"/><stop offset=".892" stop-color="#9b9b9b"/><stop offset=".921" stop-color="#ffffff"/><stop offset="1" stop-color="#ffffff"/></linearGradient><linearGradient id="w31" gradientUnits="userSpaceOnUse" x1="0" y1="229" x2="0" y2="379"><stop offset="0" stop-color="#b3b3b3"/><stop offset=".333" stop-color="#adadad"/><stop offset=".417" stop-color="#acacac"/><stop offset=".458" stop-color="#aaaaaa"/><stop offset=".542" stop-color="#a6a6a6"/><stop offset=".583" stop-color="#a5a5a5"/><stop offset=".625" stop-color="#a0a0a0"/><stop offset=".667" stop-color="#9d9d9d"/><stop offset=".75" stop-color="#959595"/><stop offset=".758" stop-color="#959595"/><stop offset=".8" stop-color="#959595"/><stop offset=".842" stop-color="#959595"/><stop offset=".858" stop-color="#959595"/><stop offset=".892" stop-color="#9b9b9b"/><stop offset=".921" stop-color="#ffffff"/><stop offset="1" stop-color="#ffffff"/></linearGradient><linearGradient id="w32" gradientUnits="userSpaceOnUse" x1="0" y1="229" x2="0" y2="379"><stop offset="0" stop-color="#b3b3b3"/><stop offset=".333" stop-color="#adadad"/><stop offset=".417" stop-color="#acacac"/><stop offset=".458" stop-color="#aaaaaa"/><stop offset=".542" stop-color="#a6a6a6"/><stop offset=".583" stop-color="#a5a5a5"/><stop offset=".625" stop-color="#a0a0a0"/><stop offset=".667" stop-color="#9d9d9d"/><stop offset=".75" stop-color="#959595"/><stop offset=".758" stop-color="#959595"/><stop offset=".8" stop-color="#959595"/><stop offset=".842" stop-color="#959595"/><stop offset=".858" stop-color="#959595"/><stop offset=".892" stop-color="#9b9b9b"/><stop offset=".921" stop-color="#ffffff"/><stop offset="1" stop-color="#ffffff"/></linearGradient><linearGradient id="w33" gradientUnits="userSpaceOnUse" x1="0" y1="229" x2="0" y2="379"><stop offset="0" stop-color="#b3b3b3"/><stop offset=".333" stop-color="#adadad"/><stop offset=".417" stop-color="#acacac"/><stop offset=".458" stop-color="#a9a9a9"/><stop offset=".542" stop-color="#a6a6a6"/><stop offset=".583" stop-color="#a5a5a5"/><stop offset=".625" stop-color="#a0a0a0"/><stop offset=".667" stop-color="#9c9c9c"/><stop offset=".75" stop-color="#959595"/><stop offset=".758" stop-color="#959595"/><stop offset=".8" stop-color="#959595"/><stop offset=".842" stop-color="#959595"/><stop offset=".858" stop-color="#959595"/><stop offset=".892" stop-color="#9a9a9a"/><stop offset=".921" stop-color="#ffffff"/><stop offset="1" stop-color="#ffffff"/></linearGradient><linearGradient id="w34" gradientUnits="userSpaceOnUse" x1="0" y1="229" x2="0" y2="379"><stop offset="0" stop-color="#b2b2b2"/><stop offset=".333" stop-color="#adadad"/><stop offset=".417" stop-color="#acacac"/><stop offset=".458" stop-color="#a9a9a9"/><stop offset=".542" stop-color="#a6a6a6"/><stop offset=".583" stop-color="#a4a4a4"/><stop offset=".625" stop-color="#a0a0a0"/><stop offset=".667" stop-color="#9c9c9c"/><stop offset=".75" stop-color="#949494"/><stop offset=".758" stop-color="#949494"/><stop offset=".8" stop-color="#949494"/><stop offset=".842" stop-color="#949494"/><stop offset=".858" stop-color="#949494"/><stop offset=".892" stop-color="#9a9a9a"/><stop offset=".921" stop-color="#ffffff"/><stop offset="1" stop-color="#ffffff"/></linearGradient><linearGradient id="w35" gradientUnits="userSpaceOnUse" x1="0" y1="229" x2="0" y2="379"><stop offset="0" stop-color="#b0b0b0"/><stop offset=".333" stop-color="#a8a8a8"/><stop offset=".417" stop-color="#a3a3a3"/><stop offset=".458" stop-color="#a1a1a1"/><stop offset=".542" stop-color="#9b9b9b"/><stop offset=".583" stop-color="#979797"/><stop offset=".625" stop-color="#939393"/><stop offset=".667" stop-color="#929292"/><stop offset=".75" stop-color="#8f8f8f"/><stop offset=".758" stop-color="#8f8f8f"/><stop offset=".8" stop-color="#939393"/><stop offset=".842" stop-color="#9b9b9b"/><stop offset=".858" stop-color="#9b9b9b"/><stop offset=".892" stop-color="#a0a0a0"/><stop offset=".921" stop-color="#ffffff"/><stop offset="1" stop-color="#ffffff"/></linearGradient><linearGradient id="w36" gradientUnits="userSpaceOnUse" x1="0" y1="229" x2="0" y2="379"><stop offset="0" stop-color="#aeaeae"/><stop offset=".333" stop-color="#a4a4a4"/><stop offset=".417" stop-color="#9e9e9e"/><stop offset=".458" stop-color="#9c9c9c"/><stop offset=".542" stop-color="#949494"/><stop offset=".583" stop-color="#8f8f8f"/><stop offset=".625" stop-color="#8b8b8b"/><stop offset=".667" stop-color="#8b8b8b"/><stop offset=".75" stop-color="#8b8b8b"/><stop offset=".758" stop-color="#8b8b8b"/><stop offset=".8" stop-color="#929292"/><stop offset=".842" stop-color="#ffffff"/><stop offset=".858" stop-color="#ffffff"/><stop offset=".892" stop-color="#ffffff"/><stop offset=".921" stop-color="#ffffff"/><stop offset="1" stop-color="#ffffff"/></linearGradient><linearGradient id="w37" gradientUnits="userSpaceOnUse" x1="0" y1="229" x2="0" y2="379"><stop offset="0" stop-color="#adadad"/><stop offset=".333" stop-color="#a4a4a4"/><stop offset=".417" stop-color="#9e9e9e"/><stop offset=".458" stop-color="#9c9c9c"/><stop offset=".542" stop-color="#949494"/><stop offset=".583" stop-color="#8f8f8f"/><stop offset=".625" stop-color="#8a8a8a"/><stop offset=".667" stop-color="#8a8a8a"/><stop offset=".75" stop-color="#8a8a8a"/><stop offset=".758" stop-color="#8a8a8a"/><stop offset=".8" stop-color="#929292"/><stop offset=".842" stop-color="#ffffff"/><stop offset=".858" stop-color="#ffffff"/><stop offset=".892" stop-color="#ffffff"/><stop offset=".921" stop-color="#ffffff"/><stop offset="1" stop-color="#ffffff"/></linearGradient><linearGradient id="w38" gradientUnits="userSpaceOnUse" x1="0" y1="229" x2="0" y2="379"><stop offset="0" stop-color="#adadad"/><stop offset=".333" stop-color="#a4a4a4"/><stop offset=".417" stop-color="#9e9e9e"/><stop offset=".458" stop-color="#9b9b9b"/><stop offset=".542" stop-color="#949494"/><stop offset=".583" stop-color="#8e8e8e"/><stop offset=".625" stop-color="#8a8a8a"/><stop offset=".667" stop-color="#8a8a8a"/><stop offset=".75" stop-color="#8a8a8a"/><stop offset=".758" stop-color="#8a8a8a"/><stop offset=".8" stop-color="#919191"/><stop offset=".842" stop-color="#ffffff"/><stop offset=".858" stop-color="#ffffff"/><stop offset=".892" stop-color="#ffffff"/><stop offset=".921" stop-color="#ffffff"/><stop offset="1" stop-color="#ffffff"/></linearGradient><linearGradient id="w39" gradientUnits="userSpaceOnUse" x1="0" y1="229" x2="0" y2="379"><stop offset="0" stop-color="#adadad"/><stop offset=".333" stop-color="#a4a4a4"/><stop offset=".417" stop-color="#9d9d9d"/><stop offset=".458" stop-color="#9b9b9b"/><stop offset=".542" stop-color="#939393"/><stop offset=".583" stop-color="#8e8e8e"/><stop offset=".625" stop-color="#898989"/><stop offset=".667" stop-color="#898989"/><stop offset=".75" stop-color="#898989"/><stop offset=".758" stop-color="#898989"/><stop offset=".8" stop-color="#919191"/><stop offset=".842" stop-color="#ffffff"/><stop offset=".858" stop-color="#ffffff"/><stop offset=".892" stop-color="#ffffff"/><stop offset=".921" stop-color="#ffffff"/><stop offset="1" stop-color="#ffffff"/></linearGradient><linearGradient id="w40" gradientUnits="userSpaceOnUse" x1="0" y1="229" x2="0" y2="379"><stop offset="0" stop-color="#adadad"/><stop offset=".333" stop-color="#a3a3a3"/><stop offset=".417" stop-color="#9d9d9d"/><stop offset=".458" stop-color="#9b9b9b"/><stop offset=".542" stop-color="#939393"/><stop offset=".583" stop-color="#8e8e8e"/><stop offset=".625" stop-color="#898989"/><stop offset=".667" stop-color="#898989"/><stop offset=".75" stop-color="#898989"/><stop offset=".758" stop-color="#898989"/><stop offset=".8" stop-color="#919191"/><stop offset=".842" stop-color="#ffffff"/><stop offset=".858" stop-color="#ffffff"/><stop offset=".892" stop-color="#ffffff"/><stop offset=".921" stop-color="#ffffff"/><stop offset="1" stop-color="#ffffff"/></linearGradient><linearGradient id="w41" gradientUnits="userSpaceOnUse" x1="0" y1="229" x2="0" y2="379"><stop offset="0" stop-color="#adadad"/><stop offset=".333" stop-color="#a3a3a3"/><stop offset=".417" stop-color="#9d9d9d"/><stop offset=".458" stop-color="#9b9b9b"/><stop offset=".542" stop-color="#939393"/><stop offset=".583" stop-color="#8d8d8d"/><stop offset=".625" stop-color="#898989"/><stop offset=".667" stop-color="#898989"/><stop offset=".75" stop-color="#898989"/><stop offset=".758" stop-color="#898989"/><stop offset=".8" stop-color="#909090"/><stop offset=".842" stop-color="#ffffff"/><stop offset=".858" stop-color="#ffffff"/><stop offset=".892" stop-color="#ffffff"/><stop offset=".921" stop-color="#ffffff"/><stop offset="1" stop-color="#ffffff"/></linearGradient><linearGradient id="w42" gradientUnits="userSpaceOnUse" x1="0" y1="229" x2="0" y2="379"><stop offset="0" stop-color="#adadad"/><stop offset=".333" stop-color="#a4a4a4"/><stop offset=".417" stop-color="#9d9d9d"/><stop offset=".458" stop-color="#9b9b9b"/><stop offset=".542" stop-color="#939393"/><stop offset=".583" stop-color="#8e8e8e"/><stop offset=".625" stop-color="#898989"/><stop offset=".667" stop-color="#898989"/><stop offset=".75" stop-color="#898989"/><stop offset=".758" stop-color="#898989"/><stop offset=".8" stop-color="#919191"/><stop offset=".842" stop-color="#ffffff"/><stop offset=".858" stop-color="#ffffff"/><stop offset=".892" stop-color="#ffffff"/><stop offset=".921" stop-color="#ffffff"/><stop offset="1" stop-color="#ffffff"/></linearGradient><linearGradient id="w43" gradientUnits="userSpaceOnUse" x1="0" y1="229" x2="0" y2="379"><stop offset="0" stop-color="#adadad"/><stop offset=".333" stop-color="#a4a4a4"/><stop offset=".417" stop-color="#9e9e9e"/><stop offset=".458" stop-color="#9b9b9b"/><stop offset=".542" stop-color="#949494"/><stop offset=".583" stop-color="#8e8e8e"/><stop offset=".625" stop-color="#8a8a8a"/><stop offset=".667" stop-color="#8a8a8a"/><stop offset=".75" stop-color="#8a8a8a"/><stop offset=".758" stop-color="#8a8a8a"/><stop offset=".8" stop-color="#919191"/><stop offset=".842" stop-color="#ffffff"/><stop offset=".858" stop-color="#ffffff"/><stop offset=".892" stop-color="#ffffff"/><stop offset=".921" stop-color="#ffffff"/><stop offset="1" stop-color="#ffffff"/></linearGradient><linearGradient id="w44" gradientUnits="userSpaceOnUse" x1="0" y1="229" x2="0" y2="379"><stop offset="0" stop-color="#aeaeae"/><stop offset=".333" stop-color="#a4a4a4"/><stop offset=".417" stop-color="#9e9e9e"/><stop offset=".458" stop-color="#9c9c9c"/><stop offset=".542" stop-color="#949494"/><stop offset=".583" stop-color="#8f8f8f"/><stop offset=".625" stop-color="#8a8a8a"/><stop offset=".667" stop-color="#8a8a8a"/><stop offset=".75" stop-color="#8a8a8a"/><stop offset=".758" stop-color="#8a8a8a"/><stop offset=".8" stop-color="#929292"/><stop offset=".842" stop-color="#ffffff"/><stop offset=".858" stop-color="#ffffff"/><stop offset=".892" stop-color="#ffffff"/><stop offset=".921" stop-color="#ffffff"/><stop offset="1" stop-color="#ffffff"/></linearGradient><linearGradient id="w45" gradientUnits="userSpaceOnUse" x1="0" y1="229" x2="0" y2="379"><stop offset="0" stop-color="#aeaeae"/><stop offset=".333" stop-color="#a5a5a5"/><stop offset=".417" stop-color="#9e9e9e"/><stop offset=".458" stop-color="#9c9c9c"/><stop offset=".542" stop-color="#959595"/><stop offset=".583" stop-color="#8f8f8f"/><stop offset=".625" stop-color="#8b8b8b"/><stop offset=".667" stop-color="#8b8b8b"/><stop offset=".75" stop-color="#8b8b8b"/><stop offset=".758" stop-color="#8b8b8b"/><stop offset=".8" stop-color="#929292"/><stop offset=".842" stop-color="#ffffff"/><stop offset=".858" stop-color="#ffffff"/><stop offset=".892" stop-color="#ffffff"/><stop offset=".921" stop-color="#ffffff"/><stop offset="1" stop-color="#ffffff"/></linearGradient><linearGradient id="w46" gradientUnits="userSpaceOnUse" x1="0" y1="229" x2="0" y2="379"><stop offset="0" stop-color="#aeaeae"/><stop offset=".333" stop-color="#a5a5a5"/><stop offset=".417" stop-color="#9f9f9f"/><stop offset=".458" stop-color="#9d9d9d"/><stop offset=".542" stop-color="#959595"/><stop offset=".583" stop-color="#909090"/><stop offset=".625" stop-color="#8c8c8c"/><stop offset=".667" stop-color="#8c8c8c"/><stop offset=".75" stop-color="#8c8c8c"/><stop offset=".758" stop-color="#8c8c8c"/><stop offset=".8" stop-color="#939393"/><stop offset=".842" stop-color="#ffffff"/><stop offset=".858" stop-color="#ffffff"/><stop offset=".892" stop-color="#ffffff"/><stop offset=".921" stop-color="#ffffff"/><stop offset="1" stop-color="#ffffff"/></linearGradient><linearGradient id="w47" gradientUnits="userSpaceOnUse" x1="0" y1="229" x2="0" y2="379"><stop offset="0" stop-color="#afafaf"/><stop offset=".333" stop-color="#a5a5a5"/><stop offset=".417" stop-color="#9f9f9f"/><stop offset=".458" stop-color="#9d9d9d"/><stop offset=".542" stop-color="#969696"/><stop offset=".583" stop-color="#919191"/><stop offset=".625" stop-color="#8d8d8d"/><stop offset=".667" stop-color="#8d8d8d"/><stop offset=".75" stop-color="#8d8d8d"/><stop offset=".758" stop-color="#8d8d8d"/><stop offset=".8" stop-color="#949494"/><stop offset=".842" stop-color="#ffffff"/><stop offset=".858" stop-color="#ffffff"/><stop offset=".892" stop-color="#ffffff"/><stop offset=".921" stop-color="#ffffff"/><stop offset="1" stop-color="#ffffff"/></linearGradient><linearGradient id="w48" gradientUnits="userSpaceOnUse" x1="0" y1="229" x2="0" y2="379"><stop offset="0" stop-color="#afafaf"/><stop offset=".333" stop-color="#a6a6a6"/><stop offset=".417" stop-color="#a0a0a0"/><stop offset=".458" stop-color="#9e9e9e"/><stop offset=".542" stop-color="#969696"/><stop offset=".583" stop-color="#919191"/><stop offset=".625" stop-color="#8d8d8d"/><stop offset=".667" stop-color="#8d8d8d"/><stop offset=".75" stop-color="#8d8d8d"/><stop offset=".758" stop-color="#8d8d8d"/><stop offset=".8" stop-color="#949494"/><stop offset=".842" stop-color="#ffffff"/><stop offset=".858" stop-color="#ffffff"/><stop offset=".892" stop-color="#ffffff"/><stop offset=".921" stop-color="#ffffff"/><stop offset="1" stop-color="#ffffff"/></linearGradient><linearGradient id="w49" gradientUnits="userSpaceOnUse" x1="0" y1="229" x2="0" y2="379"><stop offset="0" stop-color="#afafaf"/><stop offset=".333" stop-color="#a6a6a6"/><stop offset=".417" stop-color="#a0a0a0"/><stop offset=".458" stop-color="#9e9e9e"/><stop offset=".542" stop-color="#979797"/><stop offset=".583" stop-color="#929292"/><stop offset=".625" stop-color="#8e8e8e"/><stop offset=".667" stop-color="#8e8e8e"/><stop offset=".75" stop-color="#8e8e8e"/><stop offset=".758" stop-color="#8e8e8e"/><stop offset=".8" stop-color="#959595"/><stop offset=".842" stop-color="#ffffff"/><stop offset=".858" stop-color="#ffffff"/><stop offset=".892" stop-color="#ffffff"/><stop offset=".921" stop-color="#ffffff"/><stop offset="1" stop-color="#ffffff"/></linearGradient><linearGradient id="w50" gradientUnits="userSpaceOnUse" x1="0" y1="229" x2="0" y2="379"><stop offset="0" stop-color="#b0b0b0"/><stop offset=".333" stop-color="#a7a7a7"/><stop offset=".417" stop-color="#a1a1a1"/><stop offset=".458" stop-color="#9f9f9f"/><stop offset=".542" stop-color="#989898"/><stop offset=".583" stop-color="#939393"/><stop offset=".625" stop-color="#8f8f8f"/><stop offset=".667" stop-color="#8f8f8f"/><stop offset=".75" stop-color="#8f8f8f"/><stop offset=".758" stop-color="#8f8f8f"/><stop offset=".8" stop-color="#969696"/><stop offset=".842" stop-color="#ffffff"/><stop offset=".858" stop-color="#ffffff"/><stop offset=".892" stop-color="#ffffff"/><stop offset=".921" stop-color="#ffffff"/><stop offset="1" stop-color="#ffffff"/></linearGradient><linearGradient id="w51" gradientUnits="userSpaceOnUse" x1="0" y1="229" x2="0" y2="379"><stop offset="0" stop-color="#b0b0b0"/><stop offset=".333" stop-color="#a7a7a7"/><stop offset=".417" stop-color="#a2a2a2"/><stop offset=".458" stop-color="#a0a0a0"/><stop offset=".542" stop-color="#999999"/><stop offset=".583" stop-color="#949494"/><stop offset=".625" stop-color="#909090"/><stop offset=".667" stop-color="#909090"/><stop offset=".75" stop-color="#909090"/><stop offset=".758" stop-color="#909090"/><stop offset=".8" stop-color="#979797"/><stop offset=".842" stop-color="#ffffff"/><stop offset=".858" stop-color="#ffffff"/><stop offset=".892" stop-color="#ffffff"/><stop offset=".921" stop-color="#ffffff"/><stop offset="1" stop-color="#ffffff"/></linearGradient><linearGradient id="w52" gradientUnits="userSpaceOnUse" x1="0" y1="229" x2="0" y2="379"><stop offset="0" stop-color="#b1b1b1"/><stop offset=".333" stop-color="#a8a8a8"/><stop offset=".417" stop-color="#a2a2a2"/><stop offset=".458" stop-color="#a0a0a0"/><stop offset=".542" stop-color="#999999"/><stop offset=".583" stop-color="#959595"/><stop offset=".625" stop-color="#919191"/><stop offset=".667" stop-color="#919191"/><stop offset=".75" stop-color="#919191"/><stop offset=".758" stop-color="#919191"/><stop offset=".8" stop-color="#979797"/><stop offset=".842" stop-color="#ffffff"/><stop offset=".858" stop-color="#ffffff"/><stop offset=".892" stop-color="#ffffff"/><stop offset=".921" stop-color="#ffffff"/><stop offset="1" stop-color="#ffffff"/></linearGradient><linearGradient id="w53" gradientUnits="userSpaceOnUse" x1="0" y1="229" x2="0" y2="379"><stop offset="0" stop-color="#b1b1b1"/><stop offset=".333" stop-color="#a9a9a9"/><stop offset=".417" stop-color="#a3a3a3"/><stop offset=".458" stop-color="#a1a1a1"/><stop offset=".542" stop-color="#9a9a9a"/><stop offset=".583" stop-color="#969696"/><stop offset=".625" stop-color="#929292"/><stop offset=".667" stop-color="#929292"/><stop offset=".75" stop-color="#929292"/><stop offset=".758" stop-color="#929292"/><stop offset=".8" stop-color="#989898"/><stop offset=".842" stop-color="#ffffff"/><stop offset=".858" stop-color="#ffffff"/><stop offset=".892" stop-color="#ffffff"/><stop offset=".921" stop-color="#ffffff"/><stop offset="1" stop-color="#ffffff"/></linearGradient><linearGradient id="w54" gradientUnits="userSpaceOnUse" x1="0" y1="229" x2="0" y2="379"><stop offset="0" stop-color="#b2b2b2"/><stop offset=".333" stop-color="#a9a9a9"/><stop offset=".417" stop-color="#a4a4a4"/><stop offset=".458" stop-color="#a2a2a2"/><stop offset=".542" stop-color="#9b9b9b"/><stop offset=".583" stop-color="#979797"/><stop offset=".625" stop-color="#949494"/><stop offset=".667" stop-color="#949494"/><stop offset=".75" stop-color="#949494"/><stop offset=".758" stop-color="#949494"/><stop offset=".8" stop-color="#999999"/><stop offset=".842" stop-color="#ffffff"/><stop offset=".858" stop-color="#ffffff"/><stop offset=".892" stop-color="#ffffff"/><stop offset=".921" stop-color="#ffffff"/><stop offset="1" stop-color="#ffffff"/></linearGradient><linearGradient id="w55" gradientUnits="userSpaceOnUse" x1="0" y1="229" x2="0" y2="379"><stop offset="0" stop-color="#b2b2b2"/><stop offset=".333" stop-color="#aaaaaa"/><stop offset=".417" stop-color="#a4a4a4"/><stop offset=".458" stop-color="#a3a3a3"/><stop offset=".542" stop-color="#9c9c9c"/><stop offset=".583" stop-color="#989898"/><stop offset=".625" stop-color="#949494"/><stop offset=".667" stop-color="#949494"/><stop offset=".75" stop-color="#949494"/><stop offset=".758" stop-color="#949494"/><stop offset=".8" stop-color="#9a9a9a"/><stop offset=".842" stop-color="#ffffff"/><stop offset=".858" stop-color="#ffffff"/><stop offset=".892" stop-color="#ffffff"/><stop offset=".921" stop-color="#ffffff"/><stop offset="1" stop-color="#ffffff"/></linearGradient><linearGradient id="w56" gradientUnits="userSpaceOnUse" x1="0" y1="229" x2="0" y2="379"><stop offset="0" stop-color="#b3b3b3"/><stop offset=".333" stop-color="#aaaaaa"/><stop offset=".417" stop-color="#a5a5a5"/><stop offset=".458" stop-color="#a3a3a3"/><stop offset=".542" stop-color="#9c9c9c"/><stop offset=".583" stop-color="#989898"/><stop offset=".625" stop-color="#959595"/><stop offset=".667" stop-color="#959595"/><stop offset=".75" stop-color="#959595"/><stop offset=".758" stop-color="#959595"/><stop offset=".8" stop-color="#9a9a9a"/><stop offset=".842" stop-color="#ffffff"/><stop offset=".858" stop-color="#ffffff"/><stop offset=".892" stop-color="#ffffff"/><stop offset=".921" stop-color="#ffffff"/><stop offset="1" stop-color="#ffffff"/></linearGradient><linearGradient id="w57" gradientUnits="userSpaceOnUse" x1="0" y1="229" x2="0" y2="379"><stop offset="0" stop-color="#b3b3b3"/><stop offset=".333" stop-color="#aaaaaa"/><stop offset=".417" stop-color="#a5a5a5"/><stop offset=".458" stop-color="#a3a3a3"/><stop offset=".542" stop-color="#9c9c9c"/><stop offset=".583" stop-color="#989898"/><stop offset=".625" stop-color="#959595"/><stop offset=".667" stop-color="#959595"/><stop offset=".75" stop-color="#959595"/><stop offset=".758" stop-color="#959595"/><stop offset=".8" stop-color="#9a9a9a"/><stop offset=".842" stop-color="#ffffff"/><stop offset=".858" stop-color="#ffffff"/><stop offset=".892" stop-color="#ffffff"/><stop offset=".921" stop-color="#ffffff"/><stop offset="1" stop-color="#ffffff"/></linearGradient><linearGradient id="w58" gradientUnits="userSpaceOnUse" x1="0" y1="229" x2="0" y2="379"><stop offset="0" stop-color="#b3b3b3"/><stop offset=".333" stop-color="#aaaaaa"/><stop offset=".417" stop-color="#a5a5a5"/><stop offset=".458" stop-color="#a3a3a3"/><stop offset=".542" stop-color="#9c9c9c"/><stop offset=".583" stop-color="#989898"/><stop offset=".625" stop-color="#959595"/><stop offset=".667" stop-color="#959595"/><stop offset=".75" stop-color="#959595"/><stop offset=".758" stop-color="#959595"/><stop offset=".8" stop-color="#9b9b9b"/><stop offset=".842" stop-color="#ffffff"/><stop offset=".858" stop-color="#ffffff"/><stop offset=".892" stop-color="#ffffff"/><stop offset=".921" stop-color="#ffffff"/><stop offset="1" stop-color="#ffffff"/></linearGradient><linearGradient id="w59" gradientUnits="userSpaceOnUse" x1="0" y1="229" x2="0" y2="379"><stop offset="0" stop-color="#b3b3b3"/><stop offset=".333" stop-color="#aaaaaa"/><stop offset=".417" stop-color="#a5a5a5"/><stop offset=".458" stop-color="#a3a3a3"/><stop offset=".542" stop-color="#9d9d9d"/><stop offset=".583" stop-color="#989898"/><stop offset=".625" stop-color="#959595"/><stop offset=".667" stop-color="#959595"/><stop offset=".75" stop-color="#959595"/><stop offset=".758" stop-color="#959595"/><stop offset=".8" stop-color="#9b9b9b"/><stop offset=".842" stop-color="#ffffff"/><stop offset=".858" stop-color="#ffffff"/><stop offset=".892" stop-color="#ffffff"/><stop offset=".921" stop-color="#ffffff"/><stop offset="1" stop-color="#ffffff"/></linearGradient><linearGradient id="w60" gradientUnits="userSpaceOnUse" x1="0" y1="229" x2="0" y2="379"><stop offset="0" stop-color="#b3b3b3"/><stop offset=".333" stop-color="#aaaaaa"/><stop offset=".417" stop-color="#a5a5a5"/><stop offset=".458" stop-color="#a3a3a3"/><stop offset=".542" stop-color="#9d9d9d"/><stop offset=".583" stop-color="#999999"/><stop offset=".625" stop-color="#959595"/><stop offset=".667" stop-color="#959595"/><stop offset=".75" stop-color="#959595"/><stop offset=".758" stop-color="#959595"/><stop offset=".8" stop-color="#9b9b9b"/><stop offset=".842" stop-color="#ffffff"/><stop offset=".858" stop-color="#ffffff"/><stop offset=".892" stop-color="#ffffff"/><stop offset=".921" stop-color="#ffffff"/><stop offset="1" stop-color="#ffffff"/></linearGradient><linearGradient id="w61" gradientUnits="userSpaceOnUse" x1="0" y1="229" x2="0" y2="379"><stop offset="0" stop-color="#b3b3b3"/><stop offset=".333" stop-color="#ababab"/><stop offset=".417" stop-color="#a5a5a5"/><stop offset=".458" stop-color="#a3a3a3"/><stop offset=".542" stop-color="#9d9d9d"/><stop offset=".583" stop-color="#999999"/><stop offset=".625" stop-color="#959595"/><stop offset=".667" stop-color="#959595"/><stop offset=".75" stop-color="#959595"/><stop offset=".758" stop-color="#959595"/><stop offset=".8" stop-color="#9b9b9b"/><stop offset=".842" stop-color="#ffffff"/><stop offset=".858" stop-color="#ffffff"/><stop offset=".892" stop-color="#ffffff"/><stop offset=".921" stop-color="#ffffff"/><stop offset="1" stop-color="#ffffff"/></linearGradient><linearGradient id="w62" gradientUnits="userSpaceOnUse" x1="0" y1="229" x2="0" y2="379"><stop offset="0" stop-color="#b3b3b3"/><stop offset=".333" stop-color="#ababab"/><stop offset=".417" stop-color="#a5a5a5"/><stop offset=".458" stop-color="#a3a3a3"/><stop offset=".542" stop-color="#9d9d9d"/><stop offset=".583" stop-color="#999999"/><stop offset=".625" stop-color="#969696"/><stop offset=".667" stop-color="#969696"/><stop offset=".75" stop-color="#969696"/><stop offset=".758" stop-color="#969696"/><stop offset=".8" stop-color="#9b9b9b"/><stop offset=".842" stop-color="#ffffff"/><stop offset=".858" stop-color="#ffffff"/><stop offset=".892" stop-color="#ffffff"/><stop offset=".921" stop-color="#ffffff"/><stop offset="1" stop-color="#ffffff"/></linearGradient><linearGradient id="w63" gradientUnits="userSpaceOnUse" x1="0" y1="229" x2="0" y2="379"><stop offset="0" stop-color="#b3b3b3"/><stop offset=".333" stop-color="#ababab"/><stop offset=".417" stop-color="#a5a5a5"/><stop offset=".458" stop-color="#a3a3a3"/><stop offset=".542" stop-color="#9d9d9d"/><stop offset=".583" stop-color="#999999"/><stop offset=".625" stop-color="#969696"/><stop offset=".667" stop-color="#969696"/><stop offset=".75" stop-color="#969696"/><stop offset=".758" stop-color="#969696"/><stop offset=".8" stop-color="#9b9b9b"/><stop offset=".842" stop-color="#ffffff"/><stop offset=".858" stop-color="#ffffff"/><stop offset=".892" stop-color="#ffffff"/><stop offset=".921" stop-color="#ffffff"/><stop offset="1" stop-color="#ffffff"/></linearGradient><linearGradient id="w64" gradientUnits="userSpaceOnUse" x1="0" y1="229" x2="0" y2="379"><stop offset="0" stop-color="#b3b3b3"/><stop offset=".333" stop-color="#ababab"/><stop offset=".417" stop-color="#a5a5a5"/><stop offset=".458" stop-color="#a4a4a4"/><stop offset=".542" stop-color="#9d9d9d"/><stop offset=".583" stop-color="#999999"/><stop offset=".625" stop-color="#969696"/><stop offset=".667" stop-color="#969696"/><stop offset=".75" stop-color="#969696"/><stop offset=".758" stop-color="#969696"/><stop offset=".8" stop-color="#9b9b9b"/><stop offset=".842" stop-color="#ffffff"/><stop offset=".858" stop-color="#ffffff"/><stop offset=".892" stop-color="#ffffff"/><stop offset=".921" stop-color="#ffffff"/><stop offset="1" stop-color="#ffffff"/></linearGradient><linearGradient id="w65" gradientUnits="userSpaceOnUse" x1="0" y1="229" x2="0" y2="379"><stop offset="0" stop-color="#b3b3b3"/><stop offset=".333" stop-color="#ababab"/><stop offset=".417" stop-color="#a6a6a6"/><stop offset=".458" stop-color="#a4a4a4"/><stop offset=".542" stop-color="#9d9d9d"/><stop offset=".583" stop-color="#999999"/><stop offset=".625" stop-color="#969696"/><stop offset=".667" stop-color="#969696"/><stop offset=".75" stop-color="#969696"/><stop offset=".758" stop-color="#969696"/><stop offset=".8" stop-color="#9c9c9c"/><stop offset=".842" stop-color="#ffffff"/><stop offset=".858" stop-color="#ffffff"/><stop offset=".892" stop-color="#ffffff"/><stop offset=".921" stop-color="#ffffff"/><stop offset="1" stop-color="#ffffff"/></linearGradient><linearGradient id="w66" gradientUnits="userSpaceOnUse" x1="0" y1="229" x2="0" y2="379"><stop offset="0" stop-color="#b3b3b3"/><stop offset=".333" stop-color="#ababab"/><stop offset=".417" stop-color="#a6a6a6"/><stop offset=".458" stop-color="#a4a4a4"/><stop offset=".542" stop-color="#9e9e9e"/><stop offset=".583" stop-color="#999999"/><stop offset=".625" stop-color="#969696"/><stop offset=".667" stop-color="#969696"/><stop offset=".75" stop-color="#969696"/><stop offset=".758" stop-color="#969696"/><stop offset=".8" stop-color="#9c9c9c"/><stop offset=".842" stop-color="#ffffff"/><stop offset=".858" stop-color="#ffffff"/><stop offset=".892" stop-color="#ffffff"/><stop offset=".921" stop-color="#ffffff"/><stop offset="1" stop-color="#ffffff"/></linearGradient><linearGradient id="s0" gradientUnits="userSpaceOnUse" x1="0" y1="39" x2="0" y2="189"><stop offset=".637" stop-color="#838383"/><stop offset=".704" stop-color="#888888"/><stop offset=".746" stop-color="#8c8c8c"/><stop offset=".787" stop-color="#909090"/><stop offset=".829" stop-color="#949494"/><stop offset=".879" stop-color="#9c9c9c"/><stop offset=".883" stop-color="#9d9d9d"/><stop offset=".896" stop-color="#a5a5a5"/><stop offset=".908" stop-color="#b6b6b6"/><stop offset=".912" stop-color="#ffffff"/><stop offset=".921" stop-color="#ffffff"/><stop offset="1" stop-color="#ffffff"/></linearGradient><linearGradient id="s1" gradientUnits="userSpaceOnUse" x1="0" y1="39" x2="0" y2="189"><stop offset=".637" stop-color="#838383"/><stop offset=".704" stop-color="#888888"/><stop offset=".746" stop-color="#8c8c8c"/><stop offset=".787" stop-color="#909090"/><stop offset=".829" stop-color="#949494"/><stop offset=".879" stop-color="#9c9c9c"/><stop offset=".883" stop-color="#9d9d9d"/><stop offset=".896" stop-color="#a5a5a5"/><stop offset=".908" stop-color="#b6b6b6"/><stop offset=".912" stop-color="#ffffff"/><stop offset=".921" stop-color="#ffffff"/><stop offset="1" stop-color="#ffffff"/></linearGradient><linearGradient id="s2" gradientUnits="userSpaceOnUse" x1="0" y1="39" x2="0" y2="189"><stop offset=".676" stop-color="#838383"/><stop offset=".742" stop-color="#888888"/><stop offset=".784" stop-color="#8c8c8c"/><stop offset=".826" stop-color="#909090"/><stop offset=".867" stop-color="#949494"/><stop offset=".883" stop-color="#969696"/><stop offset=".896" stop-color="#9b9b9b"/><stop offset=".908" stop-color="#a6a6a6"/><stop offset=".917" stop-color="#b8b8b8"/><stop offset=".921" stop-color="#ffffff"/><stop offset=".951" stop-color="#ffffff"/><stop offset="1" stop-color="#ffffff"/></linearGradient><linearGradient id="s3" gradientUnits="userSpaceOnUse" x1="0" y1="39" x2="0" y2="189"><stop offset=".679" stop-color="#838383"/><stop offset=".745" stop-color="#888888"/><stop offset=".787" stop-color="#8c8c8c"/><stop offset=".829" stop-color="#909090"/><stop offset=".87" stop-color="#949494"/><stop offset=".883" stop-color="#959595"/><stop offset=".896" stop-color="#9b9b9b"/><stop offset=".908" stop-color="#a6a6a6"/><stop offset=".92" stop-color="#ffffff"/><stop offset=".921" stop-color="#ffffff"/><stop offset=".954" stop-color="#ffffff"/><stop offset="1" stop-color="#ffffff"/></linearGradient><linearGradient id="s4" gradientUnits="userSpaceOnUse" x1="0" y1="39" x2="0" y2="189"><stop offset=".686" stop-color="#838383"/><stop offset=".753" stop-color="#888888"/><stop offset=".795" stop-color="#8c8c8c"/><stop offset=".837" stop-color="#909090"/><stop offset=".878" stop-color="#949494"/><stop offset=".883" stop-color="#949494"/><stop offset=".896" stop-color="#999999"/><stop offset=".908" stop-color="#a5a5a5"/><stop offset=".921" stop-color="#ffffff"/><stop offset=".928" stop-color="#ffffff"/><stop offset=".962" stop-color="#ffffff"/><stop offset="1" stop-color="#ffffff"/></linearGradient><linearGradient id="s5" gradientUnits="userSpaceOnUse" x1="0" y1="39" x2="0" y2="189"><stop offset=".701" stop-color="#838383"/><stop offset=".768" stop-color="#888888"/><stop offset=".81" stop-color="#8c8c8c"/><stop offset=".851" stop-color="#909090"/><stop offset=".883" stop-color="#939393"/><stop offset=".893" stop-color="#969696"/><stop offset=".896" stop-color="#979797"/><stop offset=".908" stop-color="#a3a3a3"/><stop offset=".921" stop-color="#ffffff"/><stop offset=".943" stop-color="#ffffff"/><stop offset=".976" stop-color="#ffffff"/><stop offset="1" stop-color="#ffffff"/></linearGradient><linearGradient id="s6" gradientUnits="userSpaceOnUse" x1="0" y1="39" x2="0" y2="189"><stop offset=".71" stop-color="#838383"/><stop offset=".777" stop-color="#888888"/><stop offset=".819" stop-color="#8c8c8c"/><stop offset=".86" stop-color="#909090"/><stop offset=".883" stop-color="#929292"/><stop offset=".896" stop-color="#979797"/><stop offset=".902" stop-color="#9b9b9b"/><stop offset=".908" stop-color="#a2a2a2"/><stop offset=".921" stop-color="#ffffff"/><stop offset=".952" stop-color="#ffffff"/><stop offset=".985" stop-color="#ffffff"/><stop offset="1" stop-color="#ffffff"/></linearGradient><linearGradient id="s7" gradientUnits="userSpaceOnUse" x1="0" y1="39" x2="0" y2="189"><stop offset=".733" stop-color="#838383"/><stop offset=".8" stop-color="#888888"/><stop offset=".842" stop-color="#8c8c8c"/><stop offset=".883" stop-color="#909090"/><stop offset=".896" stop-color="#959595"/><stop offset=".908" stop-color="#a0a0a0"/><stop offset=".921" stop-color="#ffffff"/><stop offset=".925" stop-color="#ffffff"/><stop offset=".975" stop-color="#ffffff"/><stop offset="1" stop-color="#ffffff"/></linearGradient><linearGradient id="s8" gradientUnits="userSpaceOnUse" x1="0" y1="39" x2="0" y2="189"><stop offset=".747" stop-color="#838383"/><stop offset=".814" stop-color="#888888"/><stop offset=".856" stop-color="#8c8c8c"/><stop offset=".883" stop-color="#8e8e8e"/><stop offset=".896" stop-color="#949494"/><stop offset=".897" stop-color="#959595"/><stop offset=".908" stop-color="#a0a0a0"/><stop offset=".921" stop-color="#ffffff"/><stop offset=".939" stop-color="#ffffff"/><stop offset=".989" stop-color="#ffffff"/><stop offset="1" stop-color="#ffffff"/></linearGradient><linearGradient id="s9" gradientUnits="userSpaceOnUse" x1="0" y1="39" x2="0" y2="189"><stop offset=".75" stop-color="#838383"/><stop offset=".816" stop-color="#888888"/><stop offset=".858" stop-color="#8c8c8c"/><stop offset=".883" stop-color="#8e8e8e"/><stop offset=".896" stop-color="#939393"/><stop offset=".9" stop-color="#969696"/><stop offset=".908" stop-color="#9f9f9f"/><stop offset=".921" stop-color="#ffffff"/><stop offset=".941" stop-color="#ffffff"/><stop offset=".991" stop-color="#ffffff"/><stop offset="1" stop-color="#ffffff"/></linearGradient><linearGradient id="s10" gradientUnits="userSpaceOnUse" x1="0" y1="39" x2="0" y2="189"><stop offset=".72" stop-color="#838383"/><stop offset=".787" stop-color="#888888"/><stop offset=".828" stop-color="#8c8c8c"/><stop offset=".87" stop-color="#909090"/><stop offset=".883" stop-color="#919191"/><stop offset=".896" stop-color="#969696"/><stop offset=".908" stop-color="#a1a1a1"/><stop offset=".912" stop-color="#a6a6a6"/><stop offset=".921" stop-color="#ffffff"/><stop offset=".962" stop-color="#ffffff"/><stop offset=".995" stop-color="#ffffff"/><stop offset="1" stop-color="#ffffff"/></linearGradient><linearGradient id="s11" gradientUnits="userSpaceOnUse" x1="0" y1="39" x2="0" y2="189"><stop offset=".718" stop-color="#838383"/><stop offset=".784" stop-color="#888888"/><stop offset=".826" stop-color="#8c8c8c"/><stop offset=".867" stop-color="#909090"/><stop offset=".883" stop-color="#919191"/><stop offset=".896" stop-color="#969696"/><stop offset=".908" stop-color="#a1a1a1"/><stop offset=".909" stop-color="#a3a3a3"/><stop offset=".921" stop-color="#ffffff"/><stop offset=".959" stop-color="#ffffff"/><stop offset=".993" stop-color="#ffffff"/><stop offset="1" stop-color="#ffffff"/></linearGradient><linearGradient id="s12" gradientUnits="userSpaceOnUse" x1="0" y1="39" x2="0" y2="189"><stop offset=".727" stop-color="#838383"/><stop offset=".794" stop-color="#888888"/><stop offset=".835" stop-color="#8c8c8c"/><stop offset=".877" stop-color="#909090"/><stop offset=".883" stop-color="#909090"/><stop offset=".896" stop-color="#959595"/><stop offset=".908" stop-color="#a1a1a1"/><stop offset=".919" stop-color="#b9b9b9"/><stop offset=".921" stop-color="#ffffff"/><stop offset=".969" stop-color="#ffffff"/><stop offset="1" stop-color="#ffffff"/></linearGradient><linearGradient id="s13" gradientUnits="userSpaceOnUse" x1="0" y1="39" x2="0" y2="189"><stop offset=".739" stop-color="#838383"/><stop offset=".806" stop-color="#888888"/><stop offset=".847" stop-color="#8c8c8c"/><stop offset=".883" stop-color="#8f8f8f"/><stop offset=".889" stop-color="#919191"/><stop offset=".896" stop-color="#949494"/><stop offset=".908" stop-color="#a0a0a0"/><stop offset=".921" stop-color="#ffffff"/><stop offset=".931" stop-color="#ffffff"/><stop offset=".981" stop-color="#ffffff"/><stop offset="1" stop-color="#ffffff"/></linearGradient><linearGradient id="s14" gradientUnits="userSpaceOnUse" x1="0" y1="39" x2="0" y2="189"><stop offset=".744" stop-color="#838383"/><stop offset=".811" stop-color="#888888"/><stop offset=".853" stop-color="#8c8c8c"/><stop offset=".883" stop-color="#8f8f8f"/><stop offset=".894" stop-color="#939393"/><stop offset=".896" stop-color="#949494"/><stop offset=".908" stop-color="#a0a0a0"/><stop offset=".921" stop-color="#ffffff"/><stop offset=".936" stop-color="#ffffff"/><stop offset=".986" stop-color="#ffffff"/><stop offset="1" stop-color="#ffffff"/></linearGradient><linearGradient id="s15" gradientUnits="userSpaceOnUse" x1="0" y1="39" x2="0" y2="189"><stop offset=".749" stop-color="#838383"/><stop offset=".816" stop-color="#888888"/><stop offset=".858" stop-color="#8c8c8c"/><stop offset=".883" stop-color="#8e8e8e"/><stop offset=".896" stop-color="#939393"/><stop offset=".899" stop-color="#969696"/><stop offset=".908" stop-color="#9f9f9f"/><stop offset=".921" stop-color="#ffffff"/><stop offset=".941" stop-color="#ffffff"/><stop offset=".991" stop-color="#ffffff"/><stop offset="1" stop-color="#ffffff"/></linearGradient><linearGradient id="s16" gradientUnits="userSpaceOnUse" x1="0" y1="39" x2="0" y2="189"><stop offset=".754" stop-color="#838383"/><stop offset=".821" stop-color="#888888"/><stop offset=".863" stop-color="#8c8c8c"/><stop offset=".883" stop-color="#8e8e8e"/><stop offset=".896" stop-color="#939393"/><stop offset=".904" stop-color="#9b9b9b"/><stop offset=".908" stop-color="#9f9f9f"/><stop offset=".921" stop-color="#ffffff"/><stop offset=".946" stop-color="#ffffff"/><stop offset=".996" stop-color="#ffffff"/><stop offset="1" stop-color="#ffffff"/></linearGradient><linearGradient id="s17" gradientUnits="userSpaceOnUse" x1="0" y1="39" x2="0" y2="189"><stop offset=".758" stop-color="#838383"/><stop offset=".825" stop-color="#888888"/><stop offset=".867" stop-color="#8c8c8c"/><stop offset=".883" stop-color="#8d8d8d"/><stop offset=".896" stop-color="#939393"/><stop offset=".908" stop-color="#9f9f9f"/><stop offset=".908" stop-color="#9f9f9f"/><stop offset=".921" stop-color="#ffffff"/><stop offset=".95" stop-color="#ffffff"/><stop offset="1" stop-color="#ffffff"/></linearGradient><linearGradient id="s18" gradientUnits="userSpaceOnUse" x1="0" y1="39" x2="0" y2="189"><stop offset=".759" stop-color="#838383"/><stop offset=".825" stop-color="#888888"/><stop offset=".867" stop-color="#8c8c8c"/><stop offset=".883" stop-color="#8d8d8d"/><stop offset=".896" stop-color="#939393"/><stop offset=".908" stop-color="#9f9f9f"/><stop offset=".909" stop-color="#9f9f9f"/><stop offset=".921" stop-color="#ffffff"/><stop offset=".95" stop-color="#ffffff"/><stop offset="1" stop-color="#ffffff"/></linearGradient><linearGradient id="s19" gradientUnits="userSpaceOnUse" x1="0" y1="39" x2="0" y2="189"><stop offset=".759" stop-color="#838383"/><stop offset=".826" stop-color="#888888"/><stop offset=".867" stop-color="#8c8c8c"/><stop offset=".883" stop-color="#8d8d8d"/><stop offset=".896" stop-color="#939393"/><stop offset=".908" stop-color="#9f9f9f"/><stop offset=".909" stop-color="#a0a0a0"/><stop offset=".921" stop-color="#ffffff"/><stop offset=".951" stop-color="#ffffff"/><stop offset="1" stop-color="#ffffff"/></linearGradient><linearGradient id="s20" gradientUnits="userSpaceOnUse" x1="0" y1="39" x2="0" y2="189"><stop offset=".759" stop-color="#838383"/><stop offset=".826" stop-color="#888888"/><stop offset=".868" stop-color="#8c8c8c"/><stop offset=".883" stop-color="#8d8d8d"/><stop offset=".896" stop-color="#939393"/><stop offset=".908" stop-color="#9f9f9f"/><stop offset=".909" stop-color="#a0a0a0"/><stop offset=".921" stop-color="#ffffff"/><stop offset=".951" stop-color="#ffffff"/><stop offset="1" stop-color="#ffffff"/></linearGradient><linearGradient id="s21" gradientUnits="userSpaceOnUse" x1="0" y1="39" x2="0" y2="189"><stop offset=".759" stop-color="#838383"/><stop offset=".826" stop-color="#888888"/><stop offset=".868" stop-color="#8c8c8c"/><stop offset=".883" stop-color="#8d8d8d"/><stop offset=".896" stop-color="#929292"/><stop offset=".908" stop-color="#9f9f9f"/><stop offset=".909" stop-color="#a0a0a0"/><stop offset=".921" stop-color="#ffffff"/><stop offset=".951" stop-color="#ffffff"/><stop offset="1" stop-color="#ffffff"/></linearGradient><linearGradient id="s22" gradientUnits="userSpaceOnUse" x1="0" y1="39" x2="0" y2="189"><stop offset=".76" stop-color="#838383"/><stop offset=".827" stop-color="#888888"/><stop offset=".868" stop-color="#8c8c8c"/><stop offset=".883" stop-color="#8d8d8d"/><stop offset=".896" stop-color="#929292"/><stop offset=".908" stop-color="#9f9f9f"/><stop offset=".91" stop-color="#a1a1a1"/><stop offset=".921" stop-color="#ffffff"/><stop offset=".952" stop-color="#ffffff"/><stop offset="1" stop-color="#ffffff"/></linearGradient><linearGradient id="s23" gradientUnits="userSpaceOnUse" x1="0" y1="39" x2="0" y2="189"><stop offset=".755" stop-color="#838383"/><stop offset=".822" stop-color="#888888"/><stop offset=".863" stop-color="#8c8c8c"/><stop offset=".883" stop-color="#8e8e8e"/><stop offset=".896" stop-color="#939393"/><stop offset=".905" stop-color="#9b9b9b"/><stop offset=".908" stop-color="#9f9f9f"/><stop offset=".921" stop-color="#ffffff"/><stop offset=".947" stop-color="#ffffff"/><stop offset=".997" stop-color="#ffffff"/><stop offset="1" stop-color="#ffffff"/></linearGradient><linearGradient id="s24" gradientUnits="userSpaceOnUse" x1="0" y1="39" x2="0" y2="189"><stop offset=".739" stop-color="#838383"/><stop offset=".806" stop-color="#888888"/><stop offset=".848" stop-color="#8c8c8c"/><stop offset=".883" stop-color="#8f8f8f"/><stop offset=".889" stop-color="#919191"/><stop offset=".896" stop-color="#949494"/><stop offset=".908" stop-color="#a0a0a0"/><stop offset=".921" stop-color="#ffffff"/><stop offset=".931" stop-color="#ffffff"/><stop offset=".981" stop-color="#ffffff"/><stop offset="1" stop-color="#ffffff"/></linearGradient><linearGradient id="s25" gradientUnits="userSpaceOnUse" x1="0" y1="39" x2="0" y2="189"><stop offset=".729" stop-color="#838383"/><stop offset=".795" stop-color="#888888"/><stop offset=".837" stop-color="#8c8c8c"/><stop offset=".879" stop-color="#909090"/><stop offset=".883" stop-color="#909090"/><stop offset=".896" stop-color="#959595"/><stop offset=".908" stop-color="#a1a1a1"/><stop offset=".92" stop-color="#ffffff"/><stop offset=".921" stop-color="#ffffff"/><stop offset=".97" stop-color="#ffffff"/><stop offset="1" stop-color="#ffffff"/></linearGradient><linearGradient id="s26" gradientUnits="userSpaceOnUse" x1="0" y1="39" x2="0" y2="189"><stop offset=".724" stop-color="#838383"/><stop offset=".791" stop-color="#888888"/><stop offset=".833" stop-color="#8c8c8c"/><stop offset=".874" stop-color="#909090"/><stop offset=".883" stop-color="#919191"/><stop offset=".896" stop-color="#959595"/><stop offset=".908" stop-color="#a1a1a1"/><stop offset=".916" stop-color="#afafaf"/><stop offset=".921" stop-color="#ffffff"/><stop offset=".966" stop-color="#ffffff"/><stop offset=".999" stop-color="#ffffff"/><stop offset="1" stop-color="#ffffff"/></linearGradient><linearGradient id="s27" gradientUnits="userSpaceOnUse" x1="0" y1="39" x2="0" y2="189"><stop offset=".72" stop-color="#838383"/><stop offset=".787" stop-color="#888888"/><stop offset=".829" stop-color="#8c8c8c"/><stop offset=".87" stop-color="#909090"/><stop offset=".883" stop-color="#919191"/><stop offset=".896" stop-color="#969696"/><stop offset=".908" stop-color="#a1a1a1"/><stop offset=".912" stop-color="#a6a6a6"/><stop offset=".921" stop-color="#ffffff"/><stop offset=".962" stop-color="#ffffff"/><stop offset=".995" stop-color="#ffffff"/><stop offset="1" stop-color="#ffffff"/></linearGradient><linearGradient id="s28" gradientUnits="userSpaceOnUse" x1="0" y1="39" x2="0" y2="189"><stop offset=".716" stop-color="#838383"/><stop offset=".783" stop-color="#888888"/><stop offset=".824" stop-color="#8c8c8c"/><stop offset=".866" stop-color="#909090"/><stop offset=".883" stop-color="#919191"/><stop offset=".896" stop-color="#969696"/><stop offset=".908" stop-color="#a1a1a1"/><stop offset=".908" stop-color="#a2a2a2"/><stop offset=".921" stop-color="#ffffff"/><stop offset=".958" stop-color="#ffffff"/><stop offset=".991" stop-color="#ffffff"/><stop offset="1" stop-color="#ffffff"/></linearGradient><linearGradient id="s29" gradientUnits="userSpaceOnUse" x1="0" y1="39" x2="0" y2="189"><stop offset=".712" stop-color="#838383"/><stop offset=".778" stop-color="#888888"/><stop offset=".82" stop-color="#8c8c8c"/><stop offset=".862" stop-color="#909090"/><stop offset=".883" stop-color="#929292"/><stop offset=".896" stop-color="#969696"/><stop offset=".903" stop-color="#9c9c9c"/><stop offset=".908" stop-color="#a2a2a2"/><stop offset=".921" stop-color="#ffffff"/><stop offset=".953" stop-color="#ffffff"/><stop offset=".987" stop-color="#ffffff"/><stop offset="1" stop-color="#ffffff"/></linearGradient><linearGradient id="s30" gradientUnits="userSpaceOnUse" x1="0" y1="39" x2="0" y2="189"><stop offset=".708" stop-color="#838383"/><stop offset=".774" stop-color="#888888"/><stop offset=".816" stop-color="#8c8c8c"/><stop offset=".858" stop-color="#909090"/><stop offset=".883" stop-color="#929292"/><stop offset=".896" stop-color="#979797"/><stop offset=".899" stop-color="#999999"/><stop offset=".908" stop-color="#a2a2a2"/><stop offset=".921" stop-color="#ffffff"/><stop offset=".949" stop-color="#ffffff"/><stop offset=".983" stop-color="#ffffff"/><stop offset="1" stop-color="#ffffff"/></linearGradient><linearGradient id="s31" gradientUnits="userSpaceOnUse" x1="0" y1="39" x2="0" y2="189"><stop offset=".704" stop-color="#838383"/><stop offset=".77" stop-color="#888888"/><stop offset=".812" stop-color="#8c8c8c"/><stop offset=".854" stop-color="#909090"/><stop offset=".883" stop-color="#929292"/><stop offset=".895" stop-color="#979797"/><stop offset=".896" stop-color="#979797"/><stop offset=".908" stop-color="#a3a3a3"/><stop offset=".921" stop-color="#ffffff"/><stop offset=".945" stop-color="#ffffff"/><stop offset=".979" stop-color="#ffffff"/><stop offset="1" stop-color="#ffffff"/></linearGradient><linearGradient id="s32" gradientUnits="userSpaceOnUse" x1="0" y1="39" x2="0" y2="189"><stop offset=".7" stop-color="#838383"/><stop offset=".766" stop-color="#888888"/><stop offset=".808" stop-color="#8c8c8c"/><stop offset=".85" stop-color="#909090"/><stop offset=".883" stop-color="#939393"/><stop offset=".891" stop-color="#959595"/><stop offset=".896" stop-color="#989898"/><stop offset=".908" stop-color="#a3a3a3"/><stop offset=".921" stop-color="#ffffff"/><stop offset=".941" stop-color="#ffffff"/><stop offset=".975" stop-color="#ffffff"/><stop offset="1" stop-color="#ffffff"/></linearGradient><linearGradient id="s33" gradientUnits="userSpaceOnUse" x1="0" y1="39" x2="0" y2="189"><stop offset=".696" stop-color="#838383"/><stop offset=".762" stop-color="#888888"/><stop offset=".804" stop-color="#8c8c8c"/><stop offset=".846" stop-color="#909090"/><stop offset=".883" stop-color="#939393"/><stop offset=".887" stop-color="#949494"/><stop offset=".896" stop-color="#989898"/><stop offset=".908" stop-color="#a4a4a4"/><stop offset=".921" stop-color="#ffffff"/><stop offset=".938" stop-color="#ffffff"/><stop offset=".971" stop-color="#ffffff"/><stop offset="1" stop-color="#ffffff"/></linearGradient><linearGradient id="s34" gradientUnits="userSpaceOnUse" x1="0" y1="39" x2="0" y2="189"><stop offset=".693" stop-color="#838383"/><stop offset=".76" stop-color="#888888"/><stop offset=".802" stop-color="#8c8c8c"/><stop offset=".843" stop-color="#909090"/><stop offset=".883" stop-color="#939393"/><stop offset=".885" stop-color="#949494"/><stop offset=".896" stop-color="#989898"/><stop offset=".908" stop-color="#a4a4a4"/><stop offset=".921" stop-color="#ffffff"/><stop offset=".935" stop-color="#ffffff"/><stop offset=".968" stop-color="#ffffff"/><stop offset="1" stop-color="#ffffff"/></linearGradient><linearGradient id="s35" gradientUnits="userSpaceOnUse" x1="0" y1="39" x2="0" y2="189"><stop offset=".688" stop-color="#838383"/><stop offset=".755" stop-color="#888888"/><stop offset=".796" stop-color="#8c8c8c"/><stop offset=".838" stop-color="#909090"/><stop offset=".88" stop-color="#949494"/><stop offset=".883" stop-color="#949494"/><stop offset=".896" stop-color="#999999"/><stop offset=".908" stop-color="#a5a5a5"/><stop offset=".921" stop-color="#ffffff"/><stop offset=".93" stop-color="#ffffff"/><stop offset=".963" stop-color="#ffffff"/><stop offset="1" stop-color="#ffffff"/></linearGradient><linearGradient id="s36" gradientUnits="userSpaceOnUse" x1="0" y1="39" x2="0" y2="189"><stop offset=".679" stop-color="#838383"/><stop offset=".746" stop-color="#888888"/><stop offset=".787" stop-color="#8c8c8c"/><stop offset=".829" stop-color="#909090"/><stop offset=".871" stop-color="#949494"/><stop offset=".883" stop-color="#959595"/><stop offset=".896" stop-color="#9a9a9a"/><stop offset=".908" stop-color="#a6a6a6"/><stop offset=".921" stop-color="#ffffff"/><stop offset=".921" stop-color="#ffffff"/><stop offset=".954" stop-color="#ffffff"/><stop offset="1" stop-color="#ffffff"/></linearGradient><linearGradient id="s37" gradientUnits="userSpaceOnUse" x1="0" y1="39" x2="0" y2="189"><stop offset=".67" stop-color="#838383"/><stop offset=".736" stop-color="#888888"/><stop offset=".778" stop-color="#8c8c8c"/><stop offset=".82" stop-color="#909090"/><stop offset=".861" stop-color="#949494"/><stop offset=".883" stop-color="#979797"/><stop offset=".896" stop-color="#9c9c9c"/><stop offset=".908" stop-color="#a7a7a7"/><stop offset=".911" stop-color="#acacac"/><stop offset=".921" stop-color="#ffffff"/><stop offset=".945" stop-color="#ffffff"/><stop offset="1" stop-color="#ffffff"/></linearGradient><linearGradient id="s38" gradientUnits="userSpaceOnUse" x1="0" y1="39" x2="0" y2="189"><stop offset=".661" stop-color="#838383"/><stop offset=".728" stop-color="#888888"/><stop offset=".77" stop-color="#8c8c8c"/><stop offset=".811" stop-color="#909090"/><stop offset=".853" stop-color="#949494"/><stop offset=".883" stop-color="#989898"/><stop offset=".896" stop-color="#9d9d9d"/><stop offset=".903" stop-color="#a3a3a3"/><stop offset=".908" stop-color="#a9a9a9"/><stop offset=".921" stop-color="#ffffff"/><stop offset=".936" stop-color="#ffffff"/><stop offset="1" stop-color="#ffffff"/></linearGradient><linearGradient id="s39" gradientUnits="userSpaceOnUse" x1="0" y1="39" x2="0" y2="189"><stop offset=".66" stop-color="#838383"/><stop offset=".727" stop-color="#888888"/><stop offset=".768" stop-color="#8c8c8c"/><stop offset=".81" stop-color="#909090"/><stop offset=".852" stop-color="#949494"/><stop offset=".883" stop-color="#989898"/><stop offset=".896" stop-color="#9e9e9e"/><stop offset=".902" stop-color="#a2a2a2"/><stop offset=".908" stop-color="#aaaaaa"/><stop offset=".921" stop-color="#ffffff"/><stop offset=".935" stop-color="#ffffff"/><stop offset="1" stop-color="#ffffff"/></linearGradient><linearGradient id="s40" gradientUnits="userSpaceOnUse" x1="0" y1="39" x2="0" y2="189"><stop offset=".658" stop-color="#838383"/><stop offset=".725" stop-color="#888888"/><stop offset=".767" stop-color="#8c8c8c"/><stop offset=".808" stop-color="#909090"/><stop offset=".85" stop-color="#949494"/><stop offset=".883" stop-color="#999999"/><stop offset=".896" stop-color="#9e9e9e"/><stop offset=".9" stop-color="#a1a1a1"/><stop offset=".908" stop-color="#aaaaaa"/><stop offset=".921" stop-color="#ffffff"/><stop offset=".933" stop-color="#ffffff"/><stop offset="1" stop-color="#ffffff"/></linearGradient><linearGradient id="s41" gradientUnits="userSpaceOnUse" x1="0" y1="39" x2="0" y2="189"><stop offset=".657" stop-color="#838383"/><stop offset=".724" stop-color="#888888"/><stop offset=".765" stop-color="#8c8c8c"/><stop offset=".807" stop-color="#909090"/><stop offset=".849" stop-color="#949494"/><stop offset=".883" stop-color="#999999"/><stop offset=".896" stop-color="#9e9e9e"/><stop offset=".898" stop-color="#a0a0a0"/><stop offset=".908" stop-color="#ababab"/><stop offset=".921" stop-color="#ffffff"/><stop offset=".932" stop-color="#ffffff"/><stop offset="1" stop-color="#ffffff"/></linearGradient><linearGradient id="s42" gradientUnits="userSpaceOnUse" x1="0" y1="39" x2="0" y2="189"><stop offset=".656" stop-color="#838383"/><stop offset=".723" stop-color="#888888"/><stop offset=".765" stop-color="#8c8c8c"/><stop offset=".806" stop-color="#909090"/><stop offset=".848" stop-color="#949494"/><stop offset=".883" stop-color="#999999"/><stop offset=".896" stop-color="#9e9e9e"/><stop offset=".898" stop-color="#a0a0a0"/><stop offset=".908" stop-color="#ababab"/><stop offset=".921" stop-color="#ffffff"/><stop offset=".931" stop-color="#ffffff"/><stop offset="1" stop-color="#ffffff"/></linearGradient><linearGradient id="s43" gradientUnits="userSpaceOnUse" x1="0" y1="39" x2="0" y2="189"><stop offset=".656" stop-color="#838383"/><stop offset=".723" stop-color="#888888"/><stop offset=".764" stop-color="#8c8c8c"/><stop offset=".806" stop-color="#909090"/><stop offset=".848" stop-color="#949494"/><stop offset=".883" stop-color="#999999"/><stop offset=".896" stop-color="#9f9f9f"/><stop offset=".898" stop-color="#a0a0a0"/><stop offset=".908" stop-color="#ababab"/><stop offset=".921" stop-color="#ffffff"/><stop offset=".931" stop-color="#ffffff"/><stop offset="1" stop-color="#ffffff"/></linearGradient><linearGradient id="s44" gradientUnits="userSpaceOnUse" x1="0" y1="39" x2="0" y2="189"><stop offset=".656" stop-color="#838383"/><stop offset=".722" stop-color="#888888"/><stop offset=".764" stop-color="#8c8c8c"/><stop offset=".806" stop-color="#909090"/><stop offset=".847" stop-color="#949494"/><stop offset=".883" stop-color="#999999"/><stop offset=".896" stop-color="#9f9f9f"/><stop offset=".897" stop-color="#a0a0a0"/><stop offset=".908" stop-color="#ababab"/><stop offset=".921" stop-color="#ffffff"/><stop offset=".931" stop-color="#ffffff"/><stop offset="1" stop-color="#ffffff"/></linearGradient><linearGradient id="s45" gradientUnits="userSpaceOnUse" x1="0" y1="39" x2="0" y2="189"><stop offset=".655" stop-color="#838383"/><stop offset=".722" stop-color="#888888"/><stop offset=".764" stop-color="#8c8c8c"/><stop offset=".805" stop-color="#909090"/><stop offset=".847" stop-color="#949494"/><stop offset=".883" stop-color="#999999"/><stop offset=".896" stop-color="#9f9f9f"/><stop offset=".897" stop-color="#a0a0a0"/><stop offset=".908" stop-color="#ababab"/><stop offset=".921" stop-color="#ffffff"/><stop offset=".93" stop-color="#ffffff"/><stop offset="1" stop-color="#ffffff"/></linearGradient><linearGradient id="s46" gradientUnits="userSpaceOnUse" x1="0" y1="39" x2="0" y2="189"><stop offset=".655" stop-color="#838383"/><stop offset=".722" stop-color="#888888"/><stop offset=".763" stop-color="#8c8c8c"/><stop offset=".805" stop-color="#909090"/><stop offset=".847" stop-color="#949494"/><stop offset=".883" stop-color="#999999"/><stop offset=".896" stop-color="#9f9f9f"/><stop offset=".897" stop-color="#9f9f9f"/><stop offset=".908" stop-color="#ababab"/><stop offset=".921" stop-color="#ffffff"/><stop offset=".93" stop-color="#ffffff"/><stop offset="1" stop-color="#ffffff"/></linearGradient><linearGradient id="s47" gradientUnits="userSpaceOnUse" x1="0" y1="39" x2="0" y2="189"><stop offset=".655" stop-color="#838383"/><stop offset=".722" stop-color="#888888"/><stop offset=".763" stop-color="#8c8c8c"/><stop offset=".805" stop-color="#909090"/><stop offset=".847" stop-color="#949494"/><stop offset=".883" stop-color="#999999"/><stop offset=".896" stop-color="#9f9f9f"/><stop offset=".896" stop-color="#9f9f9f"/><stop offset=".908" stop-color="#ababab"/><stop offset=".921" stop-color="#ffffff"/><stop offset=".93" stop-color="#ffffff"/><stop offset="1" stop-color="#ffffff"/></linearGradient><linearGradient id="s48" gradientUnits="userSpaceOnUse" x1="0" y1="39" x2="0" y2="189"><stop offset=".655" stop-color="#838383"/><stop offset=".721" stop-color="#888888"/><stop offset=".763" stop-color="#8c8c8c"/><stop offset=".805" stop-color="#909090"/><stop offset=".846" stop-color="#949494"/><stop offset=".883" stop-color="#999999"/><stop offset=".896" stop-color="#9f9f9f"/><stop offset=".896" stop-color="#9f9f9f"/><stop offset=".908" stop-color="#ababab"/><stop offset=".921" stop-color="#ffffff"/><stop offset=".93" stop-color="#ffffff"/><stop offset="1" stop-color="#ffffff"/></linearGradient><linearGradient id="s49" gradientUnits="userSpaceOnUse" x1="0" y1="39" x2="0" y2="189"><stop offset=".654" stop-color="#838383"/><stop offset=".721" stop-color="#888888"/><stop offset=".763" stop-color="#8c8c8c"/><stop offset=".804" stop-color="#909090"/><stop offset=".846" stop-color="#949494"/><stop offset=".883" stop-color="#999999"/><stop offset=".896" stop-color="#9f9f9f"/><stop offset=".896" stop-color="#9f9f9f"/><stop offset=".908" stop-color="#ababab"/><stop offset=".921" stop-color="#ffffff"/><stop offset=".929" stop-color="#ffffff"/><stop offset="1" stop-color="#ffffff"/></linearGradient><linearGradient id="s50" gradientUnits="userSpaceOnUse" x1="0" y1="39" x2="0" y2="189"><stop offset=".653" stop-color="#838383"/><stop offset=".72" stop-color="#888888"/><stop offset=".761" stop-color="#8c8c8c"/><stop offset=".803" stop-color="#909090"/><stop offset=".845" stop-color="#949494"/><stop offset=".883" stop-color="#9a9a9a"/><stop offset=".895" stop-color="#9e9e9e"/><stop offset=".896" stop-color="#9f9f9f"/><stop offset=".908" stop-color="#acacac"/><stop offset=".921" stop-color="#ffffff"/><stop offset=".928" stop-color="#ffffff"/><stop offset="1" stop-color="#ffffff"/></linearGradient><linearGradient id="s51" gradientUnits="userSpaceOnUse" x1="0" y1="39" x2="0" y2="189"><stop offset=".651" stop-color="#838383"/><stop offset=".718" stop-color="#888888"/><stop offset=".76" stop-color="#8c8c8c"/><stop offset=".801" stop-color="#909090"/><stop offset=".843" stop-color="#949494"/><stop offset=".883" stop-color="#9a9a9a"/><stop offset=".893" stop-color="#9e9e9e"/><stop offset=".896" stop-color="#a0a0a0"/><stop offset=".908" stop-color="#adadad"/><stop offset=".921" stop-color="#ffffff"/><stop offset=".926" stop-color="#ffffff"/><stop offset="1" stop-color="#ffffff"/></linearGradient><linearGradient id="s52" gradientUnits="userSpaceOnUse" x1="0" y1="39" x2="0" y2="189"><stop offset=".65" stop-color="#838383"/><stop offset=".717" stop-color="#888888"/><stop offset=".758" stop-color="#8c8c8c"/><stop offset=".8" stop-color="#909090"/><stop offset=".842" stop-color="#949494"/><stop offset=".883" stop-color="#9a9a9a"/><stop offset=".892" stop-color="#9d9d9d"/><stop offset=".896" stop-color="#a0a0a0"/><stop offset=".908" stop-color="#adadad"/><stop offset=".921" stop-color="#ffffff"/><stop offset=".925" stop-color="#ffffff"/><stop offset="1" stop-color="#ffffff"/></linearGradient><linearGradient id="s53" gradientUnits="userSpaceOnUse" x1="0" y1="39" x2="0" y2="189"><stop offset=".648" stop-color="#838383"/><stop offset=".715" stop-color="#888888"/><stop offset=".757" stop-color="#8c8c8c"/><stop offset=".798" stop-color="#909090"/><stop offset=".84" stop-color="#949494"/><stop offset=".883" stop-color="#9b9b9b"/><stop offset=".89" stop-color="#9d9d9d"/><stop offset=".896" stop-color="#a1a1a1"/><stop offset=".908" stop-color="#aeaeae"/><stop offset=".921" stop-color="#ffffff"/><stop offset=".923" stop-color="#ffffff"/><stop offset="1" stop-color="#ffffff"/></linearGradient><linearGradient id="s54" gradientUnits="userSpaceOnUse" x1="0" y1="39" x2="0" y2="189"><stop offset=".647" stop-color="#838383"/><stop offset=".714" stop-color="#888888"/><stop offset=".755" stop-color="#8c8c8c"/><stop offset=".797" stop-color="#909090"/><stop offset=".839" stop-color="#949494"/><stop offset=".883" stop-color="#9b9b9b"/><stop offset=".888" stop-color="#9d9d9d"/><stop offset=".896" stop-color="#a1a1a1"/><stop offset=".908" stop-color="#afafaf"/><stop offset=".921" stop-color="#ffffff"/><stop offset=".922" stop-color="#ffffff"/><stop offset="1" stop-color="#ffffff"/></linearGradient><linearGradient id="s55" gradientUnits="userSpaceOnUse" x1="0" y1="39" x2="0" y2="189"><stop offset=".646" stop-color="#838383"/><stop offset=".712" stop-color="#888888"/><stop offset=".754" stop-color="#8c8c8c"/><stop offset=".796" stop-color="#909090"/><stop offset=".837" stop-color="#949494"/><stop offset=".883" stop-color="#9b9b9b"/><stop offset=".887" stop-color="#9c9c9c"/><stop offset=".896" stop-color="#a2a2a2"/><stop offset=".908" stop-color="#afafaf"/><stop offset=".921" stop-color="#ffffff"/><stop offset=".921" stop-color="#ffffff"/><stop offset="1" stop-color="#ffffff"/></linearGradient><linearGradient id="s56" gradientUnits="userSpaceOnUse" x1="0" y1="39" x2="0" y2="189"><stop offset=".645" stop-color="#838383"/><stop offset=".712" stop-color="#888888"/><stop offset=".753" stop-color="#8c8c8c"/><stop offset=".795" stop-color="#909090"/><stop offset=".837" stop-color="#949494"/><stop offset=".883" stop-color="#9b9b9b"/><stop offset=".886" stop-color="#9c9c9c"/><stop offset=".896" stop-color="#a2a2a2"/><stop offset=".908" stop-color="#b0b0b0"/><stop offset=".92" stop-color="#ffffff"/><stop offset=".921" stop-color="#ffffff"/><stop offset="1" stop-color="#ffffff"/></linearGradient><linearGradient id="s57" gradientUnits="userSpaceOnUse" x1="0" y1="39" x2="0" y2="189"><stop offset=".644" stop-color="#838383"/><stop offset=".711" stop-color="#888888"/><stop offset=".752" stop-color="#8c8c8c"/><stop offset=".794" stop-color="#909090"/><stop offset=".836" stop-color="#949494"/><stop offset=".883" stop-color="#9b9b9b"/><stop offset=".886" stop-color="#9c9c9c"/><stop offset=".896" stop-color="#a2a2a2"/><stop offset=".908" stop-color="#b0b0b0"/><stop offset=".919" stop-color="#ffffff"/><stop offset=".921" stop-color="#ffffff"/><stop offset="1" stop-color="#ffffff"/></linearGradient><linearGradient id="s58" gradientUnits="userSpaceOnUse" x1="0" y1="39" x2="0" y2="189"><stop offset=".643" stop-color="#838383"/><stop offset=".71" stop-color="#888888"/><stop offset=".752" stop-color="#8c8c8c"/><stop offset=".793" stop-color="#909090"/><stop offset=".835" stop-color="#949494"/><stop offset=".883" stop-color="#9c9c9c"/><stop offset=".885" stop-color="#9c9c9c"/><stop offset=".896" stop-color="#a3a3a3"/><stop offset=".908" stop-color="#b1b1b1"/><stop offset=".918" stop-color="#ffffff"/><stop offset=".921" stop-color="#ffffff"/><stop offset="1" stop-color="#ffffff"/></linearGradient><linearGradient id="s59" gradientUnits="userSpaceOnUse" x1="0" y1="39" x2="0" y2="189"><stop offset=".643" stop-color="#838383"/><stop offset=".709" stop-color="#888888"/><stop offset=".751" stop-color="#8c8c8c"/><stop offset=".792" stop-color="#909090"/><stop offset=".834" stop-color="#949494"/><stop offset=".883" stop-color="#9c9c9c"/><stop offset=".884" stop-color="#9c9c9c"/><stop offset=".896" stop-color="#a3a3a3"/><stop offset=".908" stop-color="#b1b1b1"/><stop offset=".917" stop-color="#ffffff"/><stop offset=".921" stop-color="#ffffff"/><stop offset="1" stop-color="#ffffff"/></linearGradient><linearGradient id="s60" gradientUnits="userSpaceOnUse" x1="0" y1="39" x2="0" y2="189"><stop offset=".642" stop-color="#838383"/><stop offset=".708" stop-color="#888888"/><stop offset=".75" stop-color="#8c8c8c"/><stop offset=".792" stop-color="#909090"/><stop offset=".833" stop-color="#949494"/><stop offset=".883" stop-color="#9c9c9c"/><stop offset=".883" stop-color="#9c9c9c"/><stop offset=".896" stop-color="#a3a3a3"/><stop offset=".908" stop-color="#b2b2b2"/><stop offset=".917" stop-color="#ffffff"/><stop offset=".921" stop-color="#ffffff"/><stop offset="1" stop-color="#ffffff"/></linearGradient><linearGradient id="s61" gradientUnits="userSpaceOnUse" x1="0" y1="39" x2="0" y2="189"><stop offset=".642" stop-color="#838383"/><stop offset=".709" stop-color="#888888"/><stop offset=".751" stop-color="#8c8c8c"/><stop offset=".792" stop-color="#909090"/><stop offset=".834" stop-color="#949494"/><stop offset=".883" stop-color="#9c9c9c"/><stop offset=".884" stop-color="#9c9c9c"/><stop offset=".896" stop-color="#a3a3a3"/><stop offset=".908" stop-color="#b1b1b1"/><stop offset=".917" stop-color="#ffffff"/><stop offset=".921" stop-color="#ffffff"/><stop offset="1" stop-color="#ffffff"/></linearGradient><linearGradient id="s62" gradientUnits="userSpaceOnUse" x1="0" y1="39" x2="0" y2="189"><stop offset=".643" stop-color="#838383"/><stop offset=".71" stop-color="#888888"/><stop offset=".751" stop-color="#8c8c8c"/><stop offset=".793" stop-color="#909090"/><stop offset=".835" stop-color="#949494"/><stop offset=".883" stop-color="#9c9c9c"/><stop offset=".885" stop-color="#9c9c9c"/><stop offset=".896" stop-color="#a3a3a3"/><stop offset=".908" stop-color="#b1b1b1"/><stop offset=".918" stop-color="#ffffff"/><stop offset=".921" stop-color="#ffffff"/><stop offset="1" stop-color="#ffffff"/></linearGradient><linearGradient id="s63" gradientUnits="userSpaceOnUse" x1="0" y1="39" x2="0" y2="189"><stop offset=".644" stop-color="#838383"/><stop offset=".711" stop-color="#888888"/><stop offset=".752" stop-color="#8c8c8c"/><stop offset=".794" stop-color="#909090"/><stop offset=".836" stop-color="#949494"/><stop offset=".883" stop-color="#9b9b9b"/><stop offset=".886" stop-color="#9c9c9c"/><stop offset=".896" stop-color="#a2a2a2"/><stop offset=".908" stop-color="#b0b0b0"/><stop offset=".919" stop-color="#ffffff"/><stop offset=".921" stop-color="#ffffff"/><stop offset="1" stop-color="#ffffff"/></linearGradient><linearGradient id="s64" gradientUnits="userSpaceOnUse" x1="0" y1="39" x2="0" y2="189"><stop offset=".645" stop-color="#838383"/><stop offset=".711" stop-color="#888888"/><stop offset=".753" stop-color="#8c8c8c"/><stop offset=".795" stop-color="#909090"/><stop offset=".836" stop-color="#949494"/><stop offset=".883" stop-color="#9b9b9b"/><stop offset=".886" stop-color="#9c9c9c"/><stop offset=".896" stop-color="#a2a2a2"/><stop offset=".908" stop-color="#b0b0b0"/><stop offset=".92" stop-color="#ffffff"/><stop offset=".921" stop-color="#ffffff"/><stop offset="1" stop-color="#ffffff"/></linearGradient><linearGradient id="s65" gradientUnits="userSpaceOnUse" x1="0" y1="39" x2="0" y2="189"><stop offset=".645" stop-color="#838383"/><stop offset=".712" stop-color="#888888"/><stop offset=".754" stop-color="#8c8c8c"/><stop offset=".795" stop-color="#909090"/><stop offset=".837" stop-color="#949494"/><stop offset=".883" stop-color="#9b9b9b"/><stop offset=".887" stop-color="#9c9c9c"/><stop offset=".896" stop-color="#a2a2a2"/><stop offset=".908" stop-color="#afafaf"/><stop offset=".92" stop-color="#ffffff"/><stop offset=".921" stop-color="#ffffff"/><stop offset="1" stop-color="#ffffff"/></linearGradient><linearGradient id="s66" gradientUnits="userSpaceOnUse" x1="0" y1="39" x2="0" y2="189"><stop offset=".646" stop-color="#838383"/><stop offset=".712" stop-color="#888888"/><stop offset=".754" stop-color="#8c8c8c"/><stop offset=".796" stop-color="#909090"/><stop offset=".838" stop-color="#949494"/><stop offset=".883" stop-color="#9b9b9b"/><stop offset=".887" stop-color="#9c9c9c"/><stop offset=".896" stop-color="#a2a2a2"/><stop offset=".908" stop-color="#afafaf"/><stop offset=".921" stop-color="#ffffff"/><stop offset="1" stop-color="#ffffff"/></linearGradient><filter id="f1" filterUnits="userSpaceOnUse" x="40" y="33" width="670" height="162" color-interpolation-filters="sRGB"><feGaussianBlur in="SourceGraphic" stdDeviation="4 0" result="src"/><feTurbulence type="fractalNoise" baseFrequency="0.83 0.77" numOctaves="1" seed="3" result="t1"/><feColorMatrix in="t1" type="matrix" values="1 0 0 0 0 1 0 0 0 0 1 0 0 0 0 0 0 0 0 1" result="n1"/><feTurbulence type="fractalNoise" baseFrequency="0.69 0.87" numOctaves="1" seed="11" result="t2"/><feColorMatrix in="t2" type="matrix" values="0 1 0 0 0 0 1 0 0 0 0 1 0 0 0 0 0 0 0 1" result="n2"/><feComposite operator="arithmetic" in="n1" in2="n2" k1="0" k2=".7" k3=".7" k4="-.2" result="N"/><feColorMatrix in="src" type="matrix" values="0 0 1 0 0 0 0 1 0 0 0 0 1 0 0 0 0 0 0 1" result="amp"/><feColorMatrix in="src" type="matrix" values="1 0 0 0 0 1 0 0 0 0 1 0 0 0 0 0 0 0 0 1" result="lev"/><feComponentTransfer in="N" result="Q"><feFuncR type="table" tableValues=".982 .981 .98 .978 .977 .975 .974 .972 .971 .97 .968 .967 .965 .964 .962 .961 .959 .957 .956 .954 .953 .951 .949 .948 .946 .944 .943 .941 .939 .937 .936 .934 .932 .93 .928 .927 .925 .923 .921 .919 .917 .915 .913 .911 .909 .907 .905 .902 .9 .898 .896 .894 .891 .889 .887 .884 .882 .879 .877 .874 .872 .869 .867 .864 .861 .858 .856 .853 .85 .847 .844 .841 .838 .835 .831 .828 .825 .821 .818 .814 .811 .807 .803 .799 .795 .791 .787 .783 .779 .774 .77 .765 .76 .755 .75 .745 .739 .734 .728 .722 .716 .709 .703 .696 .689 .681 .673 .665 .656 .647 .637 .627 .616 .605 .592 .579 .564 .549 .531 .512 .49 .465 .436 .401 .358 .299 .211 .02 .02 .211 .299 .358 .401 .436 .465 .49 .512 .531 .549 .564 .579 .592 .605 .616 .627 .637 .647 .656 .665 .673 .681 .689 .696 .703 .709 .716 .722 .728 .734 .739 .745 .75 .755 .76 .765 .77 .774 .779 .783 .787 .791 .795 .799 .803 .807 .811 .814 .818 .821 .825 .828 .831 .835 .838 .841 .844 .847 .85 .853 .856 .858 .861 .864 .867 .869 .872 .874 .877 .879 .882 .884 .887 .889 .891 .894 .896 .898 .9 .902 .905 .907 .909 .911 .913 .915 .917 .919 .921 .923 .925 .927 .928 .93 .932 .934 .936 .937 .939 .941 .943 .944 .946 .948 .949 .951 .953 .954 .956 .957 .959 .961 .962 .964 .965 .967 .968 .97 .971 .972 .974 .975 .977 .978 .98 .981 .982"/><feFuncG type="table" tableValues=".982 .981 .98 .978 .977 .975 .974 .972 .971 .97 .968 .967 .965 .964 .962 .961 .959 .957 .956 .954 .953 .951 .949 .948 .946 .944 .943 .941 .939 .937 .936 .934 .932 .93 .928 .927 .925 .923 .921 .919 .917 .915 .913 .911 .909 .907 .905 .902 .9 .898 .896 .894 .891 .889 .887 .884 .882 .879 .877 .874 .872 .869 .867 .864 .861 .858 .856 .853 .85 .847 .844 .841 .838 .835 .831 .828 .825 .821 .818 .814 .811 .807 .803 .799 .795 .791 .787 .783 .779 .774 .77 .765 .76 .755 .75 .745 .739 .734 .728 .722 .716 .709 .703 .696 .689 .681 .673 .665 .656 .647 .637 .627 .616 .605 .592 .579 .564 .549 .531 .512 .49 .465 .436 .401 .358 .299 .211 .02 .02 .211 .299 .358 .401 .436 .465 .49 .512 .531 .549 .564 .579 .592 .605 .616 .627 .637 .647 .656 .665 .673 .681 .689 .696 .703 .709 .716 .722 .728 .734 .739 .745 .75 .755 .76 .765 .77 .774 .779 .783 .787 .791 .795 .799 .803 .807 .811 .814 .818 .821 .825 .828 .831 .835 .838 .841 .844 .847 .85 .853 .856 .858 .861 .864 .867 .869 .872 .874 .877 .879 .882 .884 .887 .889 .891 .894 .896 .898 .9 .902 .905 .907 .909 .911 .913 .915 .917 .919 .921 .923 .925 .927 .928 .93 .932 .934 .936 .937 .939 .941 .943 .944 .946 .948 .949 .951 .953 .954 .956 .957 .959 .961 .962 .964 .965 .967 .968 .97 .971 .972 .974 .975 .977 .978 .98 .981 .982"/><feFuncB type="table" tableValues=".982 .981 .98 .978 .977 .975 .974 .972 .971 .97 .968 .967 .965 .964 .962 .961 .959 .957 .956 .954 .953 .951 .949 .948 .946 .944 .943 .941 .939 .937 .936 .934 .932 .93 .928 .927 .925 .923 .921 .919 .917 .915 .913 .911 .909 .907 .905 .902 .9 .898 .896 .894 .891 .889 .887 .884 .882 .879 .877 .874 .872 .869 .867 .864 .861 .858 .856 .853 .85 .847 .844 .841 .838 .835 .831 .828 .825 .821 .818 .814 .811 .807 .803 .799 .795 .791 .787 .783 .779 .774 .77 .765 .76 .755 .75 .745 .739 .734 .728 .722 .716 .709 .703 .696 .689 .681 .673 .665 .656 .647 .637 .627 .616 .605 .592 .579 .564 .549 .531 .512 .49 .465 .436 .401 .358 .299 .211 .02 .02 .211 .299 .358 .401 .436 .465 .49 .512 .531 .549 .564 .579 .592 .605 .616 .627 .637 .647 .656 .665 .673 .681 .689 .696 .703 .709 .716 .722 .728 .734 .739 .745 .75 .755 .76 .765 .77 .774 .779 .783 .787 .791 .795 .799 .803 .807 .811 .814 .818 .821 .825 .828 .831 .835 .838 .841 .844 .847 .85 .853 .856 .858 .861 .864 .867 .869 .872 .874 .877 .879 .882 .884 .887 .889 .891 .894 .896 .898 .9 .902 .905 .907 .909 .911 .913 .915 .917 .919 .921 .923 .925 .927 .928 .93 .932 .934 .936 .937 .939 .941 .943 .944 .946 .948 .949 .951 .953 .954 .956 .957 .959 .961 .962 .964 .965 .967 .968 .97 .971 .972 .974 .975 .977 .978 .98 .981 .982"/></feComponentTransfer><feComposite operator="arithmetic" in="Q" in2="amp" k1="0" k2="0.73529" k3="0.70588" k4="-0.44118" result="x"/><feComponentTransfer in="x" result="y"><feFuncR type="table" tableValues=".004 .004 .004 .005 .005 .005 .005 .005 .006 .006 .006 .006 .007 .007 .007 .007 .008 .008 .008 .009 .009 .009 .01 .01 .011 .011 .011 .012 .012 .013 .013 .014 .014 .015 .015 .016 .017 .017 .018 .019 .019 .02 .021 .022 .022 .023 .024 .025 .026 .027 .028 .029 .03 .031 .032 .034 .035 .036 .037 .039 .04 .041 .043 .044 .046 .048 .049 .051 .053 .055 .056 .058 .06 .062 .064 .066 .069 .071 .073 .076 .078 .08 .083 .086 .088 .091 .094 .096 .099 .102 .105 .108 .111 .115 .118 .121 .124 .128 .131 .135 .139 .142 .146 .15 .153 .157 .161 .165 .169 .173 .178 .182 .186 .19 .195 .199 .204 .208 .213 .217 .222 .227 .231 .236 .241 .246 .251 .255 .26 .265 .27 .275 .281 .286 .291 .296 .301 .306 .312 .317 .322 .328 .333 .338 .344 .349 .355 .36 .366 .371 .377 .382 .388 .394 .399 .405 .41 .416 .422 .427 .433 .439 .445 .45 .456 .462 .468 .473 .479 .485 .491 .497 .503 .508 .514 .52 .526 .532 .538 .544 .549 .555 .561 .567 .573 .579 .585 .591 .597 .603 .609 .615 .621 .627 .633 .639 .644 .65 .656 .662 .668 .674 .68 .686 .692 .698 .704 .71 .716 .722 .728 .734 .74 .746 .752 .758 .764 .77 .777 .783 .789 .795 .801 .807 .813 .819 .825 .831 .837 .843 .849 .855 .861 .867 .873 .879 .885 .891 .897 .903 .909 .915 .921 .927 .933 .94 .946 .952 .958 .964 .97 .976 .982 .988 .994 1"/><feFuncG type="table" tableValues=".004 .004 .004 .005 .005 .005 .005 .005 .006 .006 .006 .006 .007 .007 .007 .007 .008 .008 .008 .009 .009 .009 .01 .01 .011 .011 .011 .012 .012 .013 .013 .014 .014 .015 .015 .016 .017 .017 .018 .019 .019 .02 .021 .022 .022 .023 .024 .025 .026 .027 .028 .029 .03 .031 .032 .034 .035 .036 .037 .039 .04 .041 .043 .044 .046 .048 .049 .051 .053 .055 .056 .058 .06 .062 .064 .066 .069 .071 .073 .076 .078 .08 .083 .086 .088 .091 .094 .096 .099 .102 .105 .108 .111 .115 .118 .121 .124 .128 .131 .135 .139 .142 .146 .15 .153 .157 .161 .165 .169 .173 .178 .182 .186 .19 .195 .199 .204 .208 .213 .217 .222 .227 .231 .236 .241 .246 .251 .255 .26 .265 .27 .275 .281 .286 .291 .296 .301 .306 .312 .317 .322 .328 .333 .338 .344 .349 .355 .36 .366 .371 .377 .382 .388 .394 .399 .405 .41 .416 .422 .427 .433 .439 .445 .45 .456 .462 .468 .473 .479 .485 .491 .497 .503 .508 .514 .52 .526 .532 .538 .544 .549 .555 .561 .567 .573 .579 .585 .591 .597 .603 .609 .615 .621 .627 .633 .639 .644 .65 .656 .662 .668 .674 .68 .686 .692 .698 .704 .71 .716 .722 .728 .734 .74 .746 .752 .758 .764 .77 .777 .783 .789 .795 .801 .807 .813 .819 .825 .831 .837 .843 .849 .855 .861 .867 .873 .879 .885 .891 .897 .903 .909 .915 .921 .927 .933 .94 .946 .952 .958 .964 .97 .976 .982 .988 .994 1"/><feFuncB type="table" tableValues=".004 .004 .004 .005 .005 .005 .005 .005 .006 .006 .006 .006 .007 .007 .007 .007 .008 .008 .008 .009 .009 .009 .01 .01 .011 .011 .011 .012 .012 .013 .013 .014 .014 .015 .015 .016 .017 .017 .018 .019 .019 .02 .021 .022 .022 .023 .024 .025 .026 .027 .028 .029 .03 .031 .032 .034 .035 .036 .037 .039 .04 .041 .043 .044 .046 .048 .049 .051 .053 .055 .056 .058 .06 .062 .064 .066 .069 .071 .073 .076 .078 .08 .083 .086 .088 .091 .094 .096 .099 .102 .105 .108 .111 .115 .118 .121 .124 .128 .131 .135 .139 .142 .146 .15 .153 .157 .161 .165 .169 .173 .178 .182 .186 .19 .195 .199 .204 .208 .213 .217 .222 .227 .231 .236 .241 .246 .251 .255 .26 .265 .27 .275 .281 .286 .291 .296 .301 .306 .312 .317 .322 .328 .333 .338 .344 .349 .355 .36 .366 .371 .377 .382 .388 .394 .399 .405 .41 .416 .422 .427 .433 .439 .445 .45 .456 .462 .468 .473 .479 .485 .491 .497 .503 .508 .514 .52 .526 .532 .538 .544 .549 .555 .561 .567 .573 .579 .585 .591 .597 .603 .609 .615 .621 .627 .633 .639 .644 .65 .656 .662 .668 .674 .68 .686 .692 .698 .704 .71 .716 .722 .728 .734 .74 .746 .752 .758 .764 .77 .777 .783 .789 .795 .801 .807 .813 .819 .825 .831 .837 .843 .849 .855 .861 .867 .873 .879 .885 .891 .897 .903 .909 .915 .921 .927 .933 .94 .946 .952 .958 .964 .97 .976 .982 .988 .994 1"/></feComponentTransfer><feComposite operator="arithmetic" in="lev" in2="y" k1="0" k2="1" k3="0.762826" k4="0" result="v"/><feComponentTransfer in="v"><feFuncR type="table" tableValues="1 1 1 1 1 1 1 1 1 1 1 1 1 1 1 1 1 1 .871 .871 .871 .871 .871 .871 .871 .871 .863 .849 .835 .821 .806 .792 .778 .763 .749 .735 .721 .706 .692 .678 .663 .644 .626 .608 .589 .571 .553 .534 .516 .498 .48 .461 .443 .423 .4 .377 .354 .331 .308 .284 .261 .238 .215 .194 .179 .164 .149 .133 .118 .103 .088 .073 .058 .043 .028 .013 0 0 0 0 0 0 0 0 0 0 0 0 0 0 0 0 0 0 0 0 0 0 0 0 0 0 0 0 0 0 0 0 0 0 0 0 0 0 0 0 0 0 0 0 .01 .026 .041 .056 .072 .087 .102 .118 .133 .149 .177 .221 .265 .309 .353 .397 .441 .485 .529 .573 .616 .66 .704 .748 .79 .822 .854 .886 .918 .95 .982 1 1 1 1 1 1 1 1 1 1 1 1 1 1 1 1 1 1 1 1 1 1 1 1 1 1 1 1 1 1 1 1 1 1 1 1 1 1 1 1 1 1 1 1 1 1 1 1 1 .998 .974 .95 .926 .902 .878 .854 .83 .806 .782 .758 .738 .724 .709 .695 .68 .666 .651 .637 .623 .608 .594 .579 .565 .55 .536 .521 .507 .492 .478 .471 .471 .471 .471 .471 .471 .471 .471 .471 .471 .471 .471 .471 .471 .471 .471 .471 .471 .471 .471 .471 .471 .471 .471 .471 .471"/><feFuncG type="table" tableValues="1 1 1 1 1 1 1 1 1 1 1 1 1 1 1 1 1 1 .871 .871 .871 .871 .871 .871 .871 .871 .863 .849 .835 .821 .806 .792 .778 .763 .749 .735 .721 .706 .692 .678 .663 .644 .626 .608 .589 .571 .553 .534 .516 .498 .48 .461 .443 .423 .4 .377 .354 .331 .308 .284 .261 .238 .215 .194 .179 .164 .149 .133 .118 .103 .088 .073 .058 .043 .028 .013 .003 .034 .065 .096 .126 .157 .188 .219 .25 .28 .311 .341 .372 .402 .432 .463 .493 .524 .553 .575 .597 .619 .641 .663 .686 .708 .73 .752 .774 .792 .807 .821 .836 .85 .865 .879 .894 .908 .923 .937 .952 .966 .981 .995 .999 .997 .995 .993 .991 .989 .987 .985 .983 .981 .981 .982 .984 .985 .987 .988 .989 .991 .992 .993 .995 .996 .998 .999 .998 .99 .981 .972 .963 .955 .946 .932 .912 .892 .872 .852 .832 .812 .792 .772 .752 .733 .713 .693 .673 .653 .633 .613 .593 .573 .553 .533 .513 .493 .473 .453 .433 .413 .393 .373 .353 .333 .313 .296 .278 .261 .243 .226 .208 .191 .173 .156 .138 .121 .103 .086 .069 .051 .034 .016 0 0 0 0 0 0 0 0 0 0 0 0 0 0 0 0 0 0 0 0 0 0 0 0 0 0 0 0 0 0 0 0 0 0 0 0 0 0 0 0 0 0 0 0 0 0 0 0 0 0 0 0 0 0 0 0"/><feFuncB type="table" tableValues="1 1 1 1 1 1 1 1 1 1 1 1 1 1 1 1 1 1 .918 .918 .918 .918 .918 .918 .918 .918 .917 .917 .916 .916 .915 .915 .914 .914 .913 .912 .912 .911 .911 .91 .91 .914 .917 .92 .923 .926 .929 .932 .935 .938 .941 .944 .947 .951 .956 .961 .966 .971 .976 .981 .986 .991 .996 1 1 1 1 1 1 1 1 1 1 1 1 1 .998 .976 .955 .934 .913 .892 .871 .85 .828 .807 .786 .752 .717 .681 .646 .61 .575 .54 .506 .48 .454 .428 .402 .376 .35 .325 .299 .273 .247 .227 .211 .195 .179 .163 .148 .132 .116 .1 .084 .069 .053 .037 .021 .005 0 0 0 0 0 0 0 0 0 0 0 0 0 0 0 0 0 0 0 0 0 0 0 0 0 0 0 0 0 0 0 0 0 0 0 0 0 0 0 0 0 0 0 0 0 0 0 0 0 0 0 0 0 0 0 0 0 0 0 0 0 0 0 0 0 0 0 0 0 0 0 0 0 0 0 0 0 0 0 0 .001 .02 .038 .057 .075 .094 .112 .131 .149 .168 .186 .205 .223 .242 .261 .279 .298 .316 .335 .354 .372 .391 .409 .428 .447 .465 .484 .503 .521 .54 .549 .549 .549 .549 .549 .549 .549 .549 .549 .549 .549 .549 .549 .549 .549 .549 .549 .549 .549 .549 .549 .549 .549 .549 .549 .549"/></feComponentTransfer></filter><filter id="f2" filterUnits="userSpaceOnUse" x="40" y="223" width="670" height="162" color-interpolation-filters="sRGB"><feGaussianBlur in="SourceGraphic" stdDeviation="4 0" result="src"/><feTurbulence type="fractalNoise" baseFrequency="0.83 0.77" numOctaves="1" seed="21" result="t1"/><feColorMatrix in="t1" type="matrix" values="1 0 0 0 0 1 0 0 0 0 1 0 0 0 0 0 0 0 0 1" result="n1"/><feTurbulence type="fractalNoise" baseFrequency="0.69 0.87" numOctaves="1" seed="29" result="t2"/><feColorMatrix in="t2" type="matrix" values="0 1 0 0 0 0 1 0 0 0 0 1 0 0 0 0 0 0 0 1" result="n2"/><feComposite operator="arithmetic" in="n1" in2="n2" k1="0" k2=".7" k3=".7" k4="-.2" result="N"/><feColorMatrix in="src" type="matrix" values="0 0 1 0 0 0 0 1 0 0 0 0 1 0 0 0 0 0 0 1" result="amp"/><feColorMatrix in="src" type="matrix" values="1 0 0 0 0 1 0 0 0 0 1 0 0 0 0 0 0 0 0 1" result="lev"/><feComponentTransfer in="N" result="Q"><feFuncR type="table" tableValues=".982 .981 .98 .978 .977 .975 .974 .972 .971 .97 .968 .967 .965 .964 .962 .961 .959 .957 .956 .954 .953 .951 .949 .948 .946 .944 .943 .941 .939 .937 .936 .934 .932 .93 .928 .927 .925 .923 .921 .919 .917 .915 .913 .911 .909 .907 .905 .902 .9 .898 .896 .894 .891 .889 .887 .884 .882 .879 .877 .874 .872 .869 .867 .864 .861 .858 .856 .853 .85 .847 .844 .841 .838 .835 .831 .828 .825 .821 .818 .814 .811 .807 .803 .799 .795 .791 .787 .783 .779 .774 .77 .765 .76 .755 .75 .745 .739 .734 .728 .722 .716 .709 .703 .696 .689 .681 .673 .665 .656 .647 .637 .627 .616 .605 .592 .579 .564 .549 .531 .512 .49 .465 .436 .401 .358 .299 .211 .02 .02 .211 .299 .358 .401 .436 .465 .49 .512 .531 .549 .564 .579 .592 .605 .616 .627 .637 .647 .656 .665 .673 .681 .689 .696 .703 .709 .716 .722 .728 .734 .739 .745 .75 .755 .76 .765 .77 .774 .779 .783 .787 .791 .795 .799 .803 .807 .811 .814 .818 .821 .825 .828 .831 .835 .838 .841 .844 .847 .85 .853 .856 .858 .861 .864 .867 .869 .872 .874 .877 .879 .882 .884 .887 .889 .891 .894 .896 .898 .9 .902 .905 .907 .909 .911 .913 .915 .917 .919 .921 .923 .925 .927 .928 .93 .932 .934 .936 .937 .939 .941 .943 .944 .946 .948 .949 .951 .953 .954 .956 .957 .959 .961 .962 .964 .965 .967 .968 .97 .971 .972 .974 .975 .977 .978 .98 .981 .982"/><feFuncG type="table" tableValues=".982 .981 .98 .978 .977 .975 .974 .972 .971 .97 .968 .967 .965 .964 .962 .961 .959 .957 .956 .954 .953 .951 .949 .948 .946 .944 .943 .941 .939 .937 .936 .934 .932 .93 .928 .927 .925 .923 .921 .919 .917 .915 .913 .911 .909 .907 .905 .902 .9 .898 .896 .894 .891 .889 .887 .884 .882 .879 .877 .874 .872 .869 .867 .864 .861 .858 .856 .853 .85 .847 .844 .841 .838 .835 .831 .828 .825 .821 .818 .814 .811 .807 .803 .799 .795 .791 .787 .783 .779 .774 .77 .765 .76 .755 .75 .745 .739 .734 .728 .722 .716 .709 .703 .696 .689 .681 .673 .665 .656 .647 .637 .627 .616 .605 .592 .579 .564 .549 .531 .512 .49 .465 .436 .401 .358 .299 .211 .02 .02 .211 .299 .358 .401 .436 .465 .49 .512 .531 .549 .564 .579 .592 .605 .616 .627 .637 .647 .656 .665 .673 .681 .689 .696 .703 .709 .716 .722 .728 .734 .739 .745 .75 .755 .76 .765 .77 .774 .779 .783 .787 .791 .795 .799 .803 .807 .811 .814 .818 .821 .825 .828 .831 .835 .838 .841 .844 .847 .85 .853 .856 .858 .861 .864 .867 .869 .872 .874 .877 .879 .882 .884 .887 .889 .891 .894 .896 .898 .9 .902 .905 .907 .909 .911 .913 .915 .917 .919 .921 .923 .925 .927 .928 .93 .932 .934 .936 .937 .939 .941 .943 .944 .946 .948 .949 .951 .953 .954 .956 .957 .959 .961 .962 .964 .965 .967 .968 .97 .971 .972 .974 .975 .977 .978 .98 .981 .982"/><feFuncB type="table" tableValues=".982 .981 .98 .978 .977 .975 .974 .972 .971 .97 .968 .967 .965 .964 .962 .961 .959 .957 .956 .954 .953 .951 .949 .948 .946 .944 .943 .941 .939 .937 .936 .934 .932 .93 .928 .927 .925 .923 .921 .919 .917 .915 .913 .911 .909 .907 .905 .902 .9 .898 .896 .894 .891 .889 .887 .884 .882 .879 .877 .874 .872 .869 .867 .864 .861 .858 .856 .853 .85 .847 .844 .841 .838 .835 .831 .828 .825 .821 .818 .814 .811 .807 .803 .799 .795 .791 .787 .783 .779 .774 .77 .765 .76 .755 .75 .745 .739 .734 .728 .722 .716 .709 .703 .696 .689 .681 .673 .665 .656 .647 .637 .627 .616 .605 .592 .579 .564 .549 .531 .512 .49 .465 .436 .401 .358 .299 .211 .02 .02 .211 .299 .358 .401 .436 .465 .49 .512 .531 .549 .564 .579 .592 .605 .616 .627 .637 .647 .656 .665 .673 .681 .689 .696 .703 .709 .716 .722 .728 .734 .739 .745 .75 .755 .76 .765 .77 .774 .779 .783 .787 .791 .795 .799 .803 .807 .811 .814 .818 .821 .825 .828 .831 .835 .838 .841 .844 .847 .85 .853 .856 .858 .861 .864 .867 .869 .872 .874 .877 .879 .882 .884 .887 .889 .891 .894 .896 .898 .9 .902 .905 .907 .909 .911 .913 .915 .917 .919 .921 .923 .925 .927 .928 .93 .932 .934 .936 .937 .939 .941 .943 .944 .946 .948 .949 .951 .953 .954 .956 .957 .959 .961 .962 .964 .965 .967 .968 .97 .971 .972 .974 .975 .977 .978 .98 .981 .982"/></feComponentTransfer><feComposite operator="arithmetic" in="Q" in2="amp" k1="0" k2="0.73529" k3="0.70588" k4="-0.44118" result="x"/><feComponentTransfer in="x" result="y"><feFuncR type="table" tableValues=".004 .004 .004 .005 .005 .005 .005 .005 .006 .006 .006 .006 .007 .007 .007 .007 .008 .008 .008 .009 .009 .009 .01 .01 .011 .011 .011 .012 .012 .013 .013 .014 .014 .015 .015 .016 .017 .017 .018 .019 .019 .02 .021 .022 .022 .023 .024 .025 .026 .027 .028 .029 .03 .031 .032 .034 .035 .036 .037 .039 .04 .041 .043 .044 .046 .048 .049 .051 .053 .055 .056 .058 .06 .062 .064 .066 .069 .071 .073 .076 .078 .08 .083 .086 .088 .091 .094 .096 .099 .102 .105 .108 .111 .115 .118 .121 .124 .128 .131 .135 .139 .142 .146 .15 .153 .157 .161 .165 .169 .173 .178 .182 .186 .19 .195 .199 .204 .208 .213 .217 .222 .227 .231 .236 .241 .246 .251 .255 .26 .265 .27 .275 .281 .286 .291 .296 .301 .306 .312 .317 .322 .328 .333 .338 .344 .349 .355 .36 .366 .371 .377 .382 .388 .394 .399 .405 .41 .416 .422 .427 .433 .439 .445 .45 .456 .462 .468 .473 .479 .485 .491 .497 .503 .508 .514 .52 .526 .532 .538 .544 .549 .555 .561 .567 .573 .579 .585 .591 .597 .603 .609 .615 .621 .627 .633 .639 .644 .65 .656 .662 .668 .674 .68 .686 .692 .698 .704 .71 .716 .722 .728 .734 .74 .746 .752 .758 .764 .77 .777 .783 .789 .795 .801 .807 .813 .819 .825 .831 .837 .843 .849 .855 .861 .867 .873 .879 .885 .891 .897 .903 .909 .915 .921 .927 .933 .94 .946 .952 .958 .964 .97 .976 .982 .988 .994 1"/><feFuncG type="table" tableValues=".004 .004 .004 .005 .005 .005 .005 .005 .006 .006 .006 .006 .007 .007 .007 .007 .008 .008 .008 .009 .009 .009 .01 .01 .011 .011 .011 .012 .012 .013 .013 .014 .014 .015 .015 .016 .017 .017 .018 .019 .019 .02 .021 .022 .022 .023 .024 .025 .026 .027 .028 .029 .03 .031 .032 .034 .035 .036 .037 .039 .04 .041 .043 .044 .046 .048 .049 .051 .053 .055 .056 .058 .06 .062 .064 .066 .069 .071 .073 .076 .078 .08 .083 .086 .088 .091 .094 .096 .099 .102 .105 .108 .111 .115 .118 .121 .124 .128 .131 .135 .139 .142 .146 .15 .153 .157 .161 .165 .169 .173 .178 .182 .186 .19 .195 .199 .204 .208 .213 .217 .222 .227 .231 .236 .241 .246 .251 .255 .26 .265 .27 .275 .281 .286 .291 .296 .301 .306 .312 .317 .322 .328 .333 .338 .344 .349 .355 .36 .366 .371 .377 .382 .388 .394 .399 .405 .41 .416 .422 .427 .433 .439 .445 .45 .456 .462 .468 .473 .479 .485 .491 .497 .503 .508 .514 .52 .526 .532 .538 .544 .549 .555 .561 .567 .573 .579 .585 .591 .597 .603 .609 .615 .621 .627 .633 .639 .644 .65 .656 .662 .668 .674 .68 .686 .692 .698 .704 .71 .716 .722 .728 .734 .74 .746 .752 .758 .764 .77 .777 .783 .789 .795 .801 .807 .813 .819 .825 .831 .837 .843 .849 .855 .861 .867 .873 .879 .885 .891 .897 .903 .909 .915 .921 .927 .933 .94 .946 .952 .958 .964 .97 .976 .982 .988 .994 1"/><feFuncB type="table" tableValues=".004 .004 .004 .005 .005 .005 .005 .005 .006 .006 .006 .006 .007 .007 .007 .007 .008 .008 .008 .009 .009 .009 .01 .01 .011 .011 .011 .012 .012 .013 .013 .014 .014 .015 .015 .016 .017 .017 .018 .019 .019 .02 .021 .022 .022 .023 .024 .025 .026 .027 .028 .029 .03 .031 .032 .034 .035 .036 .037 .039 .04 .041 .043 .044 .046 .048 .049 .051 .053 .055 .056 .058 .06 .062 .064 .066 .069 .071 .073 .076 .078 .08 .083 .086 .088 .091 .094 .096 .099 .102 .105 .108 .111 .115 .118 .121 .124 .128 .131 .135 .139 .142 .146 .15 .153 .157 .161 .165 .169 .173 .178 .182 .186 .19 .195 .199 .204 .208 .213 .217 .222 .227 .231 .236 .241 .246 .251 .255 .26 .265 .27 .275 .281 .286 .291 .296 .301 .306 .312 .317 .322 .328 .333 .338 .344 .349 .355 .36 .366 .371 .377 .382 .388 .394 .399 .405 .41 .416 .422 .427 .433 .439 .445 .45 .456 .462 .468 .473 .479 .485 .491 .497 .503 .508 .514 .52 .526 .532 .538 .544 .549 .555 .561 .567 .573 .579 .585 .591 .597 .603 .609 .615 .621 .627 .633 .639 .644 .65 .656 .662 .668 .674 .68 .686 .692 .698 .704 .71 .716 .722 .728 .734 .74 .746 .752 .758 .764 .77 .777 .783 .789 .795 .801 .807 .813 .819 .825 .831 .837 .843 .849 .855 .861 .867 .873 .879 .885 .891 .897 .903 .909 .915 .921 .927 .933 .94 .946 .952 .958 .964 .97 .976 .982 .988 .994 1"/></feComponentTransfer><feComposite operator="arithmetic" in="lev" in2="y" k1="0" k2="1" k3="0.762826" k4="0" result="v"/><feComponentTransfer in="v"><feFuncR type="table" tableValues="1 1 1 1 1 1 1 1 1 1 1 1 1 1 1 1 1 1 .871 .871 .871 .871 .871 .871 .871 .871 .863 .849 .835 .821 .806 .792 .778 .763 .749 .735 .721 .706 .692 .678 .663 .644 .626 .608 .589 .571 .553 .534 .516 .498 .48 .461 .443 .423 .4 .377 .354 .331 .308 .284 .261 .238 .215 .194 .179 .164 .149 .133 .118 .103 .088 .073 .058 .043 .028 .013 0 0 0 0 0 0 0 0 0 0 0 0 0 0 0 0 0 0 0 0 0 0 0 0 0 0 0 0 0 0 0 0 0 0 0 0 0 0 0 0 0 0 0 0 .01 .026 .041 .056 .072 .087 .102 .118 .133 .149 .177 .221 .265 .309 .353 .397 .441 .485 .529 .573 .616 .66 .704 .748 .79 .822 .854 .886 .918 .95 .982 1 1 1 1 1 1 1 1 1 1 1 1 1 1 1 1 1 1 1 1 1 1 1 1 1 1 1 1 1 1 1 1 1 1 1 1 1 1 1 1 1 1 1 1 1 1 1 1 1 .998 .974 .95 .926 .902 .878 .854 .83 .806 .782 .758 .738 .724 .709 .695 .68 .666 .651 .637 .623 .608 .594 .579 .565 .55 .536 .521 .507 .492 .478 .471 .471 .471 .471 .471 .471 .471 .471 .471 .471 .471 .471 .471 .471 .471 .471 .471 .471 .471 .471 .471 .471 .471 .471 .471 .471"/><feFuncG type="table" tableValues="1 1 1 1 1 1 1 1 1 1 1 1 1 1 1 1 1 1 .871 .871 .871 .871 .871 .871 .871 .871 .863 .849 .835 .821 .806 .792 .778 .763 .749 .735 .721 .706 .692 .678 .663 .644 .626 .608 .589 .571 .553 .534 .516 .498 .48 .461 .443 .423 .4 .377 .354 .331 .308 .284 .261 .238 .215 .194 .179 .164 .149 .133 .118 .103 .088 .073 .058 .043 .028 .013 .003 .034 .065 .096 .126 .157 .188 .219 .25 .28 .311 .341 .372 .402 .432 .463 .493 .524 .553 .575 .597 .619 .641 .663 .686 .708 .73 .752 .774 .792 .807 .821 .836 .85 .865 .879 .894 .908 .923 .937 .952 .966 .981 .995 .999 .997 .995 .993 .991 .989 .987 .985 .983 .981 .981 .982 .984 .985 .987 .988 .989 .991 .992 .993 .995 .996 .998 .999 .998 .99 .981 .972 .963 .955 .946 .932 .912 .892 .872 .852 .832 .812 .792 .772 .752 .733 .713 .693 .673 .653 .633 .613 .593 .573 .553 .533 .513 .493 .473 .453 .433 .413 .393 .373 .353 .333 .313 .296 .278 .261 .243 .226 .208 .191 .173 .156 .138 .121 .103 .086 .069 .051 .034 .016 0 0 0 0 0 0 0 0 0 0 0 0 0 0 0 0 0 0 0 0 0 0 0 0 0 0 0 0 0 0 0 0 0 0 0 0 0 0 0 0 0 0 0 0 0 0 0 0 0 0 0 0 0 0 0 0"/><feFuncB type="table" tableValues="1 1 1 1 1 1 1 1 1 1 1 1 1 1 1 1 1 1 .918 .918 .918 .918 .918 .918 .918 .918 .917 .917 .916 .916 .915 .915 .914 .914 .913 .912 .912 .911 .911 .91 .91 .914 .917 .92 .923 .926 .929 .932 .935 .938 .941 .944 .947 .951 .956 .961 .966 .971 .976 .981 .986 .991 .996 1 1 1 1 1 1 1 1 1 1 1 1 1 .998 .976 .955 .934 .913 .892 .871 .85 .828 .807 .786 .752 .717 .681 .646 .61 .575 .54 .506 .48 .454 .428 .402 .376 .35 .325 .299 .273 .247 .227 .211 .195 .179 .163 .148 .132 .116 .1 .084 .069 .053 .037 .021 .005 0 0 0 0 0 0 0 0 0 0 0 0 0 0 0 0 0 0 0 0 0 0 0 0 0 0 0 0 0 0 0 0 0 0 0 0 0 0 0 0 0 0 0 0 0 0 0 0 0 0 0 0 0 0 0 0 0 0 0 0 0 0 0 0 0 0 0 0 0 0 0 0 0 0 0 0 0 0 0 0 .001 .02 .038 .057 .075 .094 .112 .131 .149 .168 .186 .205 .223 .242 .261 .279 .298 .316 .335 .354 .372 .391 .409 .428 .447 .465 .484 .503 .521 .54 .549 .549 .549 .549 .549 .549 .549 .549 .549 .549 .549 .549 .549 .549 .549 .549 .549 .549 .549 .549 .549 .549 .549 .549 .549 .549"/></feComponentTransfer></filter><filter id="fm" filterUnits="userSpaceOnUse" x="40" y="33" width="670" height="162" color-interpolation-filters="sRGB"><feGaussianBlur in="SourceGraphic" stdDeviation="3 0" result="src"/><feColorMatrix in="src" type="matrix" values="1 0 0 0 0 1 0 0 0 0 1 0 0 0 0 0 0 0 0 1" result="K"/><feTurbulence type="fractalNoise" baseFrequency="0.47 0.012" numOctaves="2" seed="40" result="t1"/><feColorMatrix in="t1" type="matrix" values="1 0 0 0 0 1 0 0 0 0 1 0 0 0 0 0 0 0 0 1" result="n1"/><feComponentTransfer in="n1" result="n1"><feFuncR type="gamma" exponent="2" amplitude="2" offset="0"/><feFuncG type="gamma" exponent="2" amplitude="2" offset="0"/><feFuncB type="gamma" exponent="2" amplitude="2" offset="0"/></feComponentTransfer><feTurbulence type="fractalNoise" baseFrequency="0.69 0.47" numOctaves="1" seed="45" result="t2"/><feColorMatrix in="t2" type="matrix" values="0 1 0 0 0 0 1 0 0 0 0 1 0 0 0 0 0 0 0 1" result="n2"/><feComposite operator="arithmetic" in="n1" in2="n2" k1="0" k2="0.75" k3="0.3" k4="-0.025" result="N"/><feComposite operator="arithmetic" in="K" in2="N" k1="0" k2="1.4" k3="1" k4="-.7" result="s"/><feColorMatrix in="s" type="matrix" values="0 0 0 0 1 0 0 0 0 1 0 0 0 0 1 -80 0 0 0 40.5"/></filter><filter id="fs" filterUnits="userSpaceOnUse" x="40" y="33" width="670" height="162" color-interpolation-filters="sRGB"><feGaussianBlur in="SourceGraphic" stdDeviation="3 0" result="src"/><feColorMatrix in="src" type="matrix" values="1 0 0 0 0 1 0 0 0 0 1 0 0 0 0 0 0 0 0 1" result="K"/><feTurbulence type="fractalNoise" baseFrequency="0.47 0.012" numOctaves="2" seed="77" result="t1"/><feColorMatrix in="t1" type="matrix" values="1 0 0 0 0 1 0 0 0 0 1 0 0 0 0 0 0 0 0 1" result="n1"/><feTurbulence type="fractalNoise" baseFrequency="0.69 0.79" numOctaves="1" seed="82" result="t2"/><feColorMatrix in="t2" type="matrix" values="0 1 0 0 0 0 1 0 0 0 0 1 0 0 0 0 0 0 0 1" result="n2"/><feComposite operator="arithmetic" in="n1" in2="n2" k1="0" k2="0" k3="1" k4="0" result="N"/><feComposite operator="arithmetic" in="K" in2="N" k1="0" k2="1.4" k3="1" k4="-.7" result="s"/><feColorMatrix in="s" type="matrix" values="0 0 0 0 1 0 0 0 0 1 0 0 0 0 1 -10 0 0 0 5.5"/></filter><filter id="fw" filterUnits="userSpaceOnUse" x="40" y="223" width="670" height="162" color-interpolation-filters="sRGB"><feGaussianBlur in="SourceGraphic" stdDeviation="3 0" result="src"/><feColorMatrix in="src" type="matrix" values="1 0 0 0 0 1 0 0 0 0 1 0 0 0 0 0 0 0 0 1" result="K"/><feTurbulence type="fractalNoise" baseFrequency="0.47 0.012" numOctaves="2" seed="60" result="t1"/><feColorMatrix in="t1" type="matrix" values="1 0 0 0 0 1 0 0 0 0 1 0 0 0 0 0 0 0 0 1" result="n1"/><feTurbulence type="fractalNoise" baseFrequency="0.69 0.81" numOctaves="1" seed="65" result="t2"/><feColorMatrix in="t2" type="matrix" values="0 1 0 0 0 0 1 0 0 0 0 1 0 0 0 0 0 0 0 1" result="n2"/><feComposite operator="arithmetic" in="n1" in2="n2" k1="0" k2="0" k3="1" k4="0" result="N"/><feComposite operator="arithmetic" in="K" in2="N" k1="0" k2="1.4" k3="1" k4="-.7" result="s"/><feColorMatrix in="s" type="matrix" values="0 0 0 0 1 0 0 0 0 1 0 0 0 0 1 -12 0 0 0 6.5"/></filter><clipPath id="cp0"><rect x="50" y="39" width="651" height="151"/></clipPath><clipPath id="cp1"><rect x="50" y="229" width="651" height="151"/></clipPath></defs><rect width="780" height="420" fill="#fff"/><g clip-path="url(#cp0)"><g filter="url(#f1)"><rect x="40" y="33" width="10" height="162" fill="url(#a0)"/><rect x="50" y="33" width="10" height="162" fill="url(#a1)"/><rect x="60" y="33" width="10" height="162" fill="url(#a2)"/><rect x="70" y="33" width="10" height="162" fill="url(#a3)"/><rect x="80" y="33" width="10" height="162" fill="url(#a4)"/><rect x="90" y="33" width="10" height="162" fill="url(#a5)"/><rect x="100" y="33" width="10" height="162" fill="url(#a6)"/><rect x="110" y="33" width="10" height="162" fill="url(#a7)"/><rect x="120" y="33" width="10" height="162" fill="url(#a8)"/><rect x="130" y="33" width="10" height="162" fill="url(#a9)"/><rect x="140" y="33" width="10" height="162" fill="url(#a10)"/><rect x="150" y="33" width="10" height="162" fill="url(#a11)"/><rect x="160" y="33" width="10" height="162" fill="url(#a12)"/><rect x="170" y="33" width="10" height="162" fill="url(#a13)"/><rect x="180" y="33" width="10" height="162" fill="url(#a14)"/><rect x="190" y="33" width="10" height="162" fill="url(#a15)"/><rect x="200" y="33" width="10" height="162" fill="url(#a16)"/><rect x="210" y="33" width="10" height="162" fill="url(#a17)"/><rect x="220" y="33" width="10" height="162" fill="url(#a18)"/><rect x="230" y="33" width="10" height="162" fill="url(#a19)"/><rect x="240" y="33" width="10" height="162" fill="url(#a20)"/><rect x="250" y="33" width="10" height="162" fill="url(#a21)"/><rect x="260" y="33" width="10" height="162" fill="url(#a22)"/><rect x="270" y="33" width="10" height="162" fill="url(#a23)"/><rect x="280" y="33" width="10" height="162" fill="url(#a24)"/><rect x="290" y="33" width="10" height="162" fill="url(#a25)"/><rect x="300" y="33" width="10" height="162" fill="url(#a26)"/><rect x="310" y="33" width="10" height="162" fill="url(#a27)"/><rect x="320" y="33" width="10" height="162" fill="url(#a28)"/><rect x="330" y="33" width="10" height="162" fill="url(#a29)"/><rect x="340" y="33" width="10" height="162" fill="url(#a30)"/><rect x="350" y="33" width="10" height="162" fill="url(#a31)"/><rect x="360" y="33" width="10" height="162" fill="url(#a32)"/><rect x="370" y="33" width="10" height="162" fill="url(#a33)"/><rect x="380" y="33" width="10" height="162" fill="url(#a34)"/><rect x="390" y="33" width="10" height="162" fill="url(#a35)"/><rect x="400" y="33" width="10" height="162" fill="url(#a36)"/><rect x="410" y="33" width="10" height="162" fill="url(#a37)"/><rect x="420" y="33" width="10" height="162" fill="url(#a38)"/><rect x="430" y="33" width="10" height="162" fill="url(#a39)"/><rect x="440" y="33" width="10" height="162" fill="url(#a40)"/><rect x="450" y="33" width="10" height="162" fill="url(#a41)"/><rect x="460" y="33" width="10" height="162" fill="url(#a42)"/><rect x="470" y="33" width="10" height="162" fill="url(#a43)"/><rect x="480" y="33" width="10" height="162" fill="url(#a44)"/><rect x="490" y="33" width="10" height="162" fill="url(#a45)"/><rect x="500" y="33" width="10" height="162" fill="url(#a46)"/><rect x="510" y="33" width="10" height="162" fill="url(#a47)"/><rect x="520" y="33" width="10" height="162" fill="url(#a48)"/><rect x="530" y="33" width="10" height="162" fill="url(#a49)"/><rect x="540" y="33" width="10" height="162" fill="url(#a50)"/><rect x="550" y="33" width="10" height="162" fill="url(#a51)"/><rect x="560" y="33" width="10" height="162" fill="url(#a52)"/><rect x="570" y="33" width="10" height="162" fill="url(#a53)"/><rect x="580" y="33" width="10" height="162" fill="url(#a54)"/><rect x="590" y="33" width="10" height="162" fill="url(#a55)"/><rect x="600" y="33" width="10" height="162" fill="url(#a56)"/><rect x="610" y="33" width="10" height="162" fill="url(#a57)"/><rect x="620" y="33" width="10" height="162" fill="url(#a58)"/><rect x="630" y="33" width="10" height="162" fill="url(#a59)"/><rect x="640" y="33" width="10" height="162" fill="url(#a60)"/><rect x="650" y="33" width="10" height="162" fill="url(#a61)"/><rect x="660" y="33" width="10" height="162" fill="url(#a62)"/><rect x="670" y="33" width="10" height="162" fill="url(#a63)"/><rect x="680" y="33" width="10" height="162" fill="url(#a64)"/><rect x="690" y="33" width="10" height="162" fill="url(#a65)"/><rect x="700" y="33" width="10" height="162" fill="url(#a66)"/></g><g filter="url(#fs)"><rect x="40" y="33" width="10" height="162" fill="url(#s0)"/><rect x="50" y="33" width="10" height="162" fill="url(#s1)"/><rect x="60" y="33" width="10" height="162" fill="url(#s2)"/><rect x="70" y="33" width="10" height="162" fill="url(#s3)"/><rect x="80" y="33" width="10" height="162" fill="url(#s4)"/><rect x="90" y="33" width="10" height="162" fill="url(#s5)"/><rect x="100" y="33" width="10" height="162" fill="url(#s6)"/><rect x="110" y="33" width="10" height="162" fill="url(#s7)"/><rect x="120" y="33" width="10" height="162" fill="url(#s8)"/><rect x="130" y="33" width="10" height="162" fill="url(#s9)"/><rect x="140" y="33" width="10" height="162" fill="url(#s10)"/><rect x="150" y="33" width="10" height="162" fill="url(#s11)"/><rect x="160" y="33" width="10" height="162" fill="url(#s12)"/><rect x="170" y="33" width="10" height="162" fill="url(#s13)"/><rect x="180" y="33" width="10" height="162" fill="url(#s14)"/><rect x="190" y="33" width="10" height="162" fill="url(#s15)"/><rect x="200" y="33" width="10" height="162" fill="url(#s16)"/><rect x="210" y="33" width="10" height="162" fill="url(#s17)"/><rect x="220" y="33" width="10" height="162" fill="url(#s18)"/><rect x="230" y="33" width="10" height="162" fill="url(#s19)"/><rect x="240" y="33" width="10" height="162" fill="url(#s20)"/><rect x="250" y="33" width="10" height="162" fill="url(#s21)"/><rect x="260" y="33" width="10" height="162" fill="url(#s22)"/><rect x="270" y="33" width="10" height="162" fill="url(#s23)"/><rect x="280" y="33" width="10" height="162" fill="url(#s24)"/><rect x="290" y="33" width="10" height="162" fill="url(#s25)"/><rect x="300" y="33" width="10" height="162" fill="url(#s26)"/><rect x="310" y="33" width="10" height="162" fill="url(#s27)"/><rect x="320" y="33" width="10" height="162" fill="url(#s28)"/><rect x="330" y="33" width="10" height="162" fill="url(#s29)"/><rect x="340" y="33" width="10" height="162" fill="url(#s30)"/><rect x="350" y="33" width="10" height="162" fill="url(#s31)"/><rect x="360" y="33" width="10" height="162" fill="url(#s32)"/><rect x="370" y="33" width="10" height="162" fill="url(#s33)"/><rect x="380" y="33" width="10" height="162" fill="url(#s34)"/><rect x="390" y="33" width="10" height="162" fill="url(#s35)"/><rect x="400" y="33" width="10" height="162" fill="url(#s36)"/><rect x="410" y="33" width="10" height="162" fill="url(#s37)"/><rect x="420" y="33" width="10" height="162" fill="url(#s38)"/><rect x="430" y="33" width="10" height="162" fill="url(#s39)"/><rect x="440" y="33" width="10" height="162" fill="url(#s40)"/><rect x="450" y="33" width="10" height="162" fill="url(#s41)"/><rect x="460" y="33" width="10" height="162" fill="url(#s42)"/><rect x="470" y="33" width="10" height="162" fill="url(#s43)"/><rect x="480" y="33" width="10" height="162" fill="url(#s44)"/><rect x="490" y="33" width="10" height="162" fill="url(#s45)"/><rect x="500" y="33" width="10" height="162" fill="url(#s46)"/><rect x="510" y="33" width="10" height="162" fill="url(#s47)"/><rect x="520" y="33" width="10" height="162" fill="url(#s48)"/><rect x="530" y="33" width="10" height="162" fill="url(#s49)"/><rect x="540" y="33" width="10" height="162" fill="url(#s50)"/><rect x="550" y="33" width="10" height="162" fill="url(#s51)"/><rect x="560" y="33" width="10" height="162" fill="url(#s52)"/><rect x="570" y="33" width="10" height="162" fill="url(#s53)"/><rect x="580" y="33" width="10" height="162" fill="url(#s54)"/><rect x="590" y="33" width="10" height="162" fill="url(#s55)"/><rect x="600" y="33" width="10" height="162" fill="url(#s56)"/><rect x="610" y="33" width="10" height="162" fill="url(#s57)"/><rect x="620" y="33" width="10" height="162" fill="url(#s58)"/><rect x="630" y="33" width="10" height="162" fill="url(#s59)"/><rect x="640" y="33" width="10" height="162" fill="url(#s60)"/><rect x="650" y="33" width="10" height="162" fill="url(#s61)"/><rect x="660" y="33" width="10" height="162" fill="url(#s62)"/><rect x="670" y="33" width="10" height="162" fill="url(#s63)"/><rect x="680" y="33" width="10" height="162" fill="url(#s64)"/><rect x="690" y="33" width="10" height="162" fill="url(#s65)"/><rect x="700" y="33" width="10" height="162" fill="url(#s66)"/></g><g filter="url(#fm)"><rect x="40" y="33" width="10" height="162" fill="url(#k0)"/><rect x="50" y="33" width="10" height="162" fill="url(#k1)"/><rect x="60" y="33" width="10" height="162" fill="url(#k2)"/><rect x="70" y="33" width="10" height="162" fill="url(#k3)"/><rect x="80" y="33" width="10" height="162" fill="url(#k4)"/><rect x="90" y="33" width="10" height="162" fill="url(#k5)"/><rect x="100" y="33" width="10" height="162" fill="url(#k6)"/><rect x="110" y="33" width="10" height="162" fill="url(#k7)"/><rect x="120" y="33" width="10" height="162" fill="url(#k8)"/><rect x="130" y="33" width="10" height="162" fill="url(#k9)"/><rect x="140" y="33" width="10" height="162" fill="url(#k10)"/><rect x="150" y="33" width="10" height="162" fill="url(#k11)"/><rect x="160" y="33" width="10" height="162" fill="url(#k12)"/><rect x="170" y="33" width="10" height="162" fill="url(#k13)"/><rect x="180" y="33" width="10" height="162" fill="url(#k14)"/><rect x="190" y="33" width="10" height="162" fill="url(#k15)"/><rect x="200" y="33" width="10" height="162" fill="url(#k16)"/><rect x="210" y="33" width="10" height="162" fill="url(#k17)"/><rect x="220" y="33" width="10" height="162" fill="url(#k18)"/><rect x="230" y="33" width="10" height="162" fill="url(#k19)"/><rect x="240" y="33" width="10" height="162" fill="url(#k20)"/><rect x="250" y="33" width="10" height="162" fill="url(#k21)"/><rect x="260" y="33" width="10" height="162" fill="url(#k22)"/><rect x="270" y="33" width="10" height="162" fill="url(#k23)"/><rect x="280" y="33" width="10" height="162" fill="url(#k24)"/><rect x="290" y="33" width="10" height="162" fill="url(#k25)"/><rect x="300" y="33" width="10" height="162" fill="url(#k26)"/><rect x="310" y="33" width="10" height="162" fill="url(#k27)"/><rect x="320" y="33" width="10" height="162" fill="url(#k28)"/><rect x="330" y="33" width="10" height="162" fill="url(#k29)"/><rect x="340" y="33" width="10" height="162" fill="url(#k30)"/><rect x="350" y="33" width="10" height="162" fill="url(#k31)"/><rect x="360" y="33" width="10" height="162" fill="url(#k32)"/><rect x="370" y="33" width="10" height="162" fill="url(#k33)"/><rect x="380" y="33" width="10" height="162" fill="url(#k34)"/><rect x="390" y="33" width="10" height="162" fill="url(#k35)"/><rect x="400" y="33" width="10" height="162" fill="url(#k36)"/><rect x="410" y="33" width="10" height="162" fill="url(#k37)"/><rect x="420" y="33" width="10" height="162" fill="url(#k38)"/><rect x="430" y="33" width="10" height="162" fill="url(#k39)"/><rect x="440" y="33" width="10" height="162" fill="url(#k40)"/><rect x="450" y="33" width="10" height="162" fill="url(#k41)"/><rect x="460" y="33" width="10" height="162" fill="url(#k42)"/><rect x="470" y="33" width="10" height="162" fill="url(#k43)"/><rect x="480" y="33" width="10" height="162" fill="url(#k44)"/><rect x="490" y="33" width="10" height="162" fill="url(#k45)"/><rect x="500" y="33" width="10" height="162" fill="url(#k46)"/><rect x="510" y="33" width="10" height="162" fill="url(#k47)"/><rect x="520" y="33" width="10" height="162" fill="url(#k48)"/><rect x="530" y="33" width="10" height="162" fill="url(#k49)"/><rect x="540" y="33" width="10" height="162" fill="url(#k50)"/><rect x="550" y="33" width="10" height="162" fill="url(#k51)"/><rect x="560" y="33" width="10" height="162" fill="url(#k52)"/><rect x="570" y="33" width="10" height="162" fill="url(#k53)"/><rect x="580" y="33" width="10" height="162" fill="url(#k54)"/><rect x="590" y="33" width="10" height="162" fill="url(#k55)"/><rect x="600" y="33" width="10" height="162" fill="url(#k56)"/><rect x="610" y="33" width="10" height="162" fill="url(#k57)"/><rect x="620" y="33" width="10" height="162" fill="url(#k58)"/><rect x="630" y="33" width="10" height="162" fill="url(#k59)"/><rect x="640" y="33" width="10" height="162" fill="url(#k60)"/><rect x="650" y="33" width="10" height="162" fill="url(#k61)"/><rect x="660" y="33" width="10" height="162" fill="url(#k62)"/><rect x="670" y="33" width="10" height="162" fill="url(#k63)"/><rect x="680" y="33" width="10" height="162" fill="url(#k64)"/><rect x="690" y="33" width="10" height="162" fill="url(#k65)"/><rect x="700" y="33" width="10" height="162" fill="url(#k66)"/></g><g shape-rendering="crispEdges"><rect x="587" y="145" width="1" height="1" fill="#0000ff"/><rect x="587" y="146" width="1" height="1" fill="#b4f000"/><rect x="587" y="147" width="1" height="1" fill="#ff2800"/><rect x="587" y="148" width="1" height="1" fill="#00a082"/><rect x="599" y="145" width="1" height="1" fill="#00dc28"/><rect x="599" y="146" width="1" height="1" fill="#ff2800"/><rect x="604" y="144" width="1" height="1" fill="#0000ff"/><rect x="604" y="145" width="1" height="1" fill="#0000ff"/><rect x="604" y="146" width="1" height="1" fill="#b4f000"/><rect x="604" y="147" width="1" height="1" fill="#ff2800"/><rect x="604" y="148" width="1" height="1" fill="#fff000"/><rect x="604" y="149" width="1" height="1" fill="#00dc28"/><rect x="605" y="144" width="1" height="1" fill="#0000ff"/><rect x="605" y="145" width="1" height="1" fill="#00a082"/><rect x="605" y="146" width="1" height="1" fill="#fff000"/><rect x="605" y="147" width="1" height="1" fill="#ff6000"/><rect x="605" y="148" width="1" height="1" fill="#fff000"/><rect x="605" y="149" width="1" height="1" fill="#00dc28"/><rect x="606" y="145" width="1" height="1" fill="#0000ff"/><rect x="606" y="146" width="1" height="1" fill="#fff000"/><rect x="606" y="147" width="1" height="1" fill="#ff2800"/><rect x="606" y="148" width="1" height="1" fill="#b4f000"/><rect x="606" y="149" width="1" height="1" fill="#00dc28"/><rect x="608" y="145" width="1" height="1" fill="#0000ff"/><rect x="608" y="146" width="1" height="1" fill="#ff2800"/><rect x="608" y="147" width="1" height="1" fill="#ffa000"/><rect x="608" y="148" width="1" height="1" fill="#ff2800"/><rect x="608" y="149" width="1" height="1" fill="#00dc28"/><rect x="609" y="145" width="1" height="1" fill="#ffa000"/><rect x="609" y="146" width="1" height="1" fill="#ffa000"/><rect x="609" y="147" width="1" height="1" fill="#fff000"/><rect x="609" y="148" width="1" height="1" fill="#fff000"/><rect x="609" y="149" width="1" height="1" fill="#00dc28"/><rect x="610" y="144" width="1" height="1" fill="#ffa000"/><rect x="610" y="145" width="1" height="1" fill="#ffa000"/><rect x="610" y="146" width="1" height="1" fill="#fff000"/><rect x="610" y="147" width="1" height="1" fill="#fff000"/><rect x="610" y="148" width="1" height="1" fill="#00dc28"/><rect x="610" y="149" width="1" height="1" fill="#00dc28"/><rect x="615" y="143" width="1" height="1" fill="#0000ff"/><rect x="615" y="144" width="1" height="1" fill="#0000ff"/><rect x="615" y="145" width="1" height="1" fill="#0000ff"/><rect x="615" y="146" width="1" height="1" fill="#ffa000"/><rect x="615" y="147" width="1" height="1" fill="#ff2800"/><rect x="615" y="148" width="1" height="1" fill="#ff6000"/><rect x="615" y="149" width="1" height="1" fill="#00a082"/><rect x="623" y="144" width="1" height="1" fill="#5050ff"/><rect x="623" y="145" width="1" height="1" fill="#5050ff"/><rect x="623" y="146" width="1" height="1" fill="#ffa000"/><rect x="623" y="147" width="1" height="1" fill="#ff2800"/><rect x="623" y="148" width="1" height="1" fill="#0000ff"/><rect x="623" y="149" width="1" height="1" fill="#0000ff"/><rect x="236" y="146" width="2" height="2" fill="#00dc28"/><rect x="236" y="156" width="2" height="1" fill="#b4f000"/><rect x="236" y="158" width="2" height="2" fill="#00dc28"/><rect x="236" y="165" width="1" height="1" fill="#0000ff"/><rect x="236" y="166" width="1" height="1" fill="#0000ff"/><rect x="236" y="167" width="1" height="1" fill="#5050ff"/><rect x="236" y="168" width="1" height="1" fill="#0000ff"/><rect x="236" y="169" width="1" height="1" fill="#0000ff"/><rect x="236" y="170" width="1" height="1" fill="#0000ff"/><rect x="115" y="187" width="11" height="2" fill="#32e614"/><rect x="117" y="186" width="7" height="3" fill="#8cf000"/><rect x="118" y="187" width="5" height="2" fill="#c8f000"/><rect x="119" y="188" width="3" height="1" fill="#f0f000"/></g></g><g clip-path="url(#cp1)"><g filter="url(#f2)"><rect x="40" y="223" width="10" height="162" fill="url(#b0)"/><rect x="50" y="223" width="10" height="162" fill="url(#b1)"/><rect x="60" y="223" width="10" height="162" fill="url(#b2)"/><rect x="70" y="223" width="10" height="162" fill="url(#b3)"/><rect x="80" y="223" width="10" height="162" fill="url(#b4)"/><rect x="90" y="223" width="10" height="162" fill="url(#b5)"/><rect x="100" y="223" width="10" height="162" fill="url(#b6)"/><rect x="110" y="223" width="10" height="162" fill="url(#b7)"/><rect x="120" y="223" width="10" height="162" fill="url(#b8)"/><rect x="130" y="223" width="10" height="162" fill="url(#b9)"/><rect x="140" y="223" width="10" height="162" fill="url(#b10)"/><rect x="150" y="223" width="10" height="162" fill="url(#b11)"/><rect x="160" y="223" width="10" height="162" fill="url(#b12)"/><rect x="170" y="223" width="10" height="162" fill="url(#b13)"/><rect x="180" y="223" width="10" height="162" fill="url(#b14)"/><rect x="190" y="223" width="10" height="162" fill="url(#b15)"/><rect x="200" y="223" width="10" height="162" fill="url(#b16)"/><rect x="210" y="223" width="10" height="162" fill="url(#b17)"/><rect x="220" y="223" width="10" height="162" fill="url(#b18)"/><rect x="230" y="223" width="10" height="162" fill="url(#b19)"/><rect x="240" y="223" width="10" height="162" fill="url(#b20)"/><rect x="250" y="223" width="10" height="162" fill="url(#b21)"/><rect x="260" y="223" width="10" height="162" fill="url(#b22)"/><rect x="270" y="223" width="10" height="162" fill="url(#b23)"/><rect x="280" y="223" width="10" height="162" fill="url(#b24)"/><rect x="290" y="223" width="10" height="162" fill="url(#b25)"/><rect x="300" y="223" width="10" height="162" fill="url(#b26)"/><rect x="310" y="223" width="10" height="162" fill="url(#b27)"/><rect x="320" y="223" width="10" height="162" fill="url(#b28)"/><rect x="330" y="223" width="10" height="162" fill="url(#b29)"/><rect x="340" y="223" width="10" height="162" fill="url(#b30)"/><rect x="350" y="223" width="10" height="162" fill="url(#b31)"/><rect x="360" y="223" width="10" height="162" fill="url(#b32)"/><rect x="370" y="223" width="10" height="162" fill="url(#b33)"/><rect x="380" y="223" width="10" height="162" fill="url(#b34)"/><rect x="390" y="223" width="10" height="162" fill="url(#b35)"/><rect x="400" y="223" width="10" height="162" fill="url(#b36)"/><rect x="410" y="223" width="10" height="162" fill="url(#b37)"/><rect x="420" y="223" width="10" height="162" fill="url(#b38)"/><rect x="430" y="223" width="10" height="162" fill="url(#b39)"/><rect x="440" y="223" width="10" height="162" fill="url(#b40)"/><rect x="450" y="223" width="10" height="162" fill="url(#b41)"/><rect x="460" y="223" width="10" height="162" fill="url(#b42)"/><rect x="470" y="223" width="10" height="162" fill="url(#b43)"/><rect x="480" y="223" width="10" height="162" fill="url(#b44)"/><rect x="490" y="223" width="10" height="162" fill="url(#b45)"/><rect x="500" y="223" width="10" height="162" fill="url(#b46)"/><rect x="510" y="223" width="10" height="162" fill="url(#b47)"/><rect x="520" y="223" width="10" height="162" fill="url(#b48)"/><rect x="530" y="223" width="10" height="162" fill="url(#b49)"/><rect x="540" y="223" width="10" height="162" fill="url(#b50)"/><rect x="550" y="223" width="10" height="162" fill="url(#b51)"/><rect x="560" y="223" width="10" height="162" fill="url(#b52)"/><rect x="570" y="223" width="10" height="162" fill="url(#b53)"/><rect x="580" y="223" width="10" height="162" fill="url(#b54)"/><rect x="590" y="223" width="10" height="162" fill="url(#b55)"/><rect x="600" y="223" width="10" height="162" fill="url(#b56)"/><rect x="610" y="223" width="10" height="162" fill="url(#b57)"/><rect x="620" y="223" width="10" height="162" fill="url(#b58)"/><rect x="630" y="223" width="10" height="162" fill="url(#b59)"/><rect x="640" y="223" width="10" height="162" fill="url(#b60)"/><rect x="650" y="223" width="10" height="162" fill="url(#b61)"/><rect x="660" y="223" width="10" height="162" fill="url(#b62)"/><rect x="670" y="223" width="10" height="162" fill="url(#b63)"/><rect x="680" y="223" width="10" height="162" fill="url(#b64)"/><rect x="690" y="223" width="10" height="162" fill="url(#b65)"/><rect x="700" y="223" width="10" height="162" fill="url(#b66)"/></g><g filter="url(#fw)"><rect x="40" y="223" width="10" height="162" fill="url(#w0)"/><rect x="50" y="223" width="10" height="162" fill="url(#w1)"/><rect x="60" y="223" width="10" height="162" fill="url(#w2)"/><rect x="70" y="223" width="10" height="162" fill="url(#w3)"/><rect x="80" y="223" width="10" height="162" fill="url(#w4)"/><rect x="90" y="223" width="10" height="162" fill="url(#w5)"/><rect x="100" y="223" width="10" height="162" fill="url(#w6)"/><rect x="110" y="223" width="10" height="162" fill="url(#w7)"/><rect x="120" y="223" width="10" height="162" fill="url(#w8)"/><rect x="130" y="223" width="10" height="162" fill="url(#w9)"/><rect x="140" y="223" width="10" height="162" fill="url(#w10)"/><rect x="150" y="223" width="10" height="162" fill="url(#w11)"/><rect x="160" y="223" width="10" height="162" fill="url(#w12)"/><rect x="170" y="223" width="10" height="162" fill="url(#w13)"/><rect x="180" y="223" width="10" height="162" fill="url(#w14)"/><rect x="190" y="223" width="10" height="162" fill="url(#w15)"/><rect x="200" y="223" width="10" height="162" fill="url(#w16)"/><rect x="210" y="223" width="10" height="162" fill="url(#w17)"/><rect x="220" y="223" width="10" height="162" fill="url(#w18)"/><rect x="230" y="223" width="10" height="162" fill="url(#w19)"/><rect x="240" y="223" width="10" height="162" fill="url(#w20)"/><rect x="250" y="223" width="10" height="162" fill="url(#w21)"/><rect x="260" y="223" width="10" height="162" fill="url(#w22)"/><rect x="270" y="223" width="10" height="162" fill="url(#w23)"/><rect x="280" y="223" width="10" height="162" fill="url(#w24)"/><rect x="290" y="223" width="10" height="162" fill="url(#w25)"/><rect x="300" y="223" width="10" height="162" fill="url(#w26)"/><rect x="310" y="223" width="10" height="162" fill="url(#w27)"/><rect x="320" y="223" width="10" height="162" fill="url(#w28)"/><rect x="330" y="223" width="10" height="162" fill="url(#w29)"/><rect x="340" y="223" width="10" height="162" fill="url(#w30)"/><rect x="350" y="223" width="10" height="162" fill="url(#w31)"/><rect x="360" y="223" width="10" height="162" fill="url(#w32)"/><rect x="370" y="223" width="10" height="162" fill="url(#w33)"/><rect x="380" y="223" width="10" height="162" fill="url(#w34)"/><rect x="390" y="223" width="10" height="162" fill="url(#w35)"/><rect x="400" y="223" width="10" height="162" fill="url(#w36)"/><rect x="410" y="223" width="10" height="162" fill="url(#w37)"/><rect x="420" y="223" width="10" height="162" fill="url(#w38)"/><rect x="430" y="223" width="10" height="162" fill="url(#w39)"/><rect x="440" y="223" width="10" height="162" fill="url(#w40)"/><rect x="450" y="223" width="10" height="162" fill="url(#w41)"/><rect x="460" y="223" width="10" height="162" fill="url(#w42)"/><rect x="470" y="223" width="10" height="162" fill="url(#w43)"/><rect x="480" y="223" width="10" height="162" fill="url(#w44)"/><rect x="490" y="223" width="10" height="162" fill="url(#w45)"/><rect x="500" y="223" width="10" height="162" fill="url(#w46)"/><rect x="510" y="223" width="10" height="162" fill="url(#w47)"/><rect x="520" y="223" width="10" height="162" fill="url(#w48)"/><rect x="530" y="223" width="10" height="162" fill="url(#w49)"/><rect x="540" y="223" width="10" height="162" fill="url(#w50)"/><rect x="550" y="223" width="10" height="162" fill="url(#w51)"/><rect x="560" y="223" width="10" height="162" fill="url(#w52)"/><rect x="570" y="223" width="10" height="162" fill="url(#w53)"/><rect x="580" y="223" width="10" height="162" fill="url(#w54)"/><rect x="590" y="223" width="10" height="162" fill="url(#w55)"/><rect x="600" y="223" width="10" height="162" fill="url(#w56)"/><rect x="610" y="223" width="10" height="162" fill="url(#w57)"/><rect x="620" y="223" width="10" height="162" fill="url(#w58)"/><rect x="630" y="223" width="10" height="162" fill="url(#w59)"/><rect x="640" y="223" width="10" height="162" fill="url(#w60)"/><rect x="650" y="223" width="10" height="162" fill="url(#w61)"/><rect x="660" y="223" width="10" height="162" fill="url(#w62)"/><rect x="670" y="223" width="10" height="162" fill="url(#w63)"/><rect x="680" y="223" width="10" height="162" fill="url(#w64)"/><rect x="690" y="223" width="10" height="162" fill="url(#w65)"/><rect x="700" y="223" width="10" height="162" fill="url(#w66)"/></g><g shape-rendering="crispEdges"><rect x="598" y="336" width="1" height="1" fill="#ffa000"/><rect x="599" y="335" width="1" height="1" fill="#fff000"/><rect x="599" y="336" width="1" height="1" fill="#ffa000"/><rect x="600" y="336" width="1" height="1" fill="#fff000"/><rect x="601" y="335" width="1" height="1" fill="#ffa000"/><rect x="601" y="336" width="1" height="1" fill="#fff000"/><rect x="601" y="337" width="1" height="1" fill="#ffa000"/><rect x="602" y="336" width="1" height="1" fill="#fff000"/><rect x="603" y="335" width="1" height="1" fill="#b4f000"/><rect x="603" y="336" width="1" height="1" fill="#fff000"/><rect x="604" y="336" width="1" height="1" fill="#fff000"/><rect x="604" y="337" width="1" height="1" fill="#ffa000"/><rect x="605" y="337" width="1" height="1" fill="#ff2800"/><rect x="606" y="336" width="1" height="1" fill="#ffa000"/><rect x="607" y="336" width="1" height="1" fill="#fff000"/><rect x="607" y="337" width="1" height="1" fill="#ffa000"/><rect x="608" y="335" width="1" height="1" fill="#ffa000"/><rect x="608" y="336" width="1" height="1" fill="#fff000"/><rect x="608" y="337" width="1" height="1" fill="#ff2800"/><rect x="609" y="336" width="1" height="1" fill="#ffa000"/><rect x="610" y="336" width="1" height="1" fill="#fff000"/><rect x="613" y="335" width="1" height="1" fill="#00dc28"/><rect x="613" y="336" width="1" height="1" fill="#fff000"/><rect x="614" y="336" width="1" height="1" fill="#ffa000"/><rect x="614" y="337" width="1" height="1" fill="#ffa000"/><rect x="620" y="333" width="1" height="1" fill="#fff000"/><rect x="620" y="334" width="1" height="1" fill="#ffa000"/><rect x="621" y="335" width="1" height="1" fill="#fff000"/><rect x="621" y="336" width="1" height="1" fill="#b4f000"/><rect x="580" y="337" width="1" height="1" fill="#ffa000"/><rect x="593" y="331" width="1" height="1" fill="#ffa000"/><rect x="628" y="336" width="1" height="1" fill="#ffa000"/><rect x="632" y="337" width="1" height="1" fill="#b4f000"/><rect x="602" y="334" width="1" height="1" fill="#00dc28"/><rect x="605" y="335" width="1" height="1" fill="#00dc28"/><rect x="611" y="337" width="1" height="1" fill="#00dc28"/><rect x="88" y="341" width="1" height="1" fill="#ff2800"/><rect x="93" y="340" width="1" height="1" fill="#ffa000"/><rect x="99" y="341" width="1" height="1" fill="#fff000"/><rect x="104" y="342" width="1" height="1" fill="#ff2800"/><rect x="108" y="341" width="1" height="1" fill="#ffa000"/><rect x="113" y="340" width="1" height="1" fill="#fff000"/><rect x="117" y="341" width="1" height="1" fill="#ff2800"/><rect x="121" y="341" width="1" height="1" fill="#ffa000"/><rect x="126" y="342" width="1" height="1" fill="#fff000"/><rect x="131" y="341" width="1" height="1" fill="#ff2800"/><rect x="136" y="341" width="1" height="1" fill="#ffa000"/><rect x="96" y="342" width="1" height="1" fill="#fff000"/><rect x="111" y="342" width="1" height="1" fill="#ffa000"/><rect x="124" y="340" width="1" height="1" fill="#ff2800"/><rect x="115" y="377" width="11" height="2" fill="#32e614"/><rect x="117" y="376" width="7" height="3" fill="#8cf000"/><rect x="118" y="377" width="5" height="2" fill="#c8f000"/><rect x="119" y="378" width="3" height="1" fill="#f0f000"/></g></g><g shape-rendering="crispEdges" stroke="#000" stroke-width="1" fill="none"><rect x="50.5" y="39.5" width="650" height="150"/><path d="M51 177.5h5M700 177.5h-5M51 164.5h5M700 164.5h-5M51 152.5h5M700 152.5h-5M51 139.5h5M700 139.5h-5M51 127.5h5M700 127.5h-5M51 114.5h5M700 114.5h-5M51 102.5h5M700 102.5h-5M51 89.5h5M700 89.5h-5M51 77.5h5M700 77.5h-5M51 64.5h5M700 64.5h-5M51 52.5h5M700 52.5h-5M158.5 189v-5M158.5 40v5M266.5 189v-5M266.5 40v5M375.5 189v-5M375.5 40v5M483.5 189v-5M483.5 40v5M591.5 189v-5M591.5 40v5"/><rect x="754.5" y="39.5" width="16" height="150" fill="url(#cb)"/></g><text x="46.5" y="194.3" text-anchor="end">0</text><text x="46.5" y="181.8" text-anchor="end">1</text><text x="46.5" y="169.3" text-anchor="end">2</text><text x="46.5" y="156.8" text-anchor="end">3</text><text x="46.5" y="144.3" text-anchor="end">4</text><text x="46.5" y="131.8" text-anchor="end">5</text><text x="46.5" y="119.3" text-anchor="end">6</text><text x="46.5" y="106.8" text-anchor="end">7</text><text x="46.5" y="94.3" text-anchor="end">8</text><text x="46.5" y="81.8" text-anchor="end">9</text><text x="46.5" y="69.3" text-anchor="end">10</text><text x="46.5" y="56.8" text-anchor="end">11</text><text x="46.5" y="44.3" text-anchor="end">12</text><text x="49.2" y="203.5" text-anchor="middle">00:00</text><text x="157.533" y="203.5" text-anchor="middle">04:00</text><text x="265.867" y="203.5" text-anchor="middle">08:00</text><text x="374.2" y="203.5" text-anchor="middle">12:00</text><text x="482.533" y="203.5" text-anchor="middle">16:00</text><text x="590.867" y="203.5" text-anchor="middle">20:00</text><text x="699.2" y="203.5" text-anchor="middle">00:00</text><text x="375.5" y="222" text-anchor="middle" textLength="58.5">Time (UTC)</text><text transform="translate(27,115.5) rotate(-90)" text-anchor="middle" textLength="61">Height (km)</text><text x="730" y="194.6">10<tspan dy="-5" font-size="9">-7</tspan></text><text x="730" y="144.6">10<tspan dy="-5" font-size="9">-6</tspan></text><text x="730" y="94.6">10<tspan dy="-5" font-size="9">-5</tspan></text><text x="730" y="44.6">10<tspan dy="-5" font-size="9">-4</tspan></text><text transform="translate(722,114) rotate(-90)" text-anchor="middle">m<tspan dy="-4" font-size="9">-1</tspan><tspan dy="4"> sr</tspan><tspan dy="-4" font-size="9">-1</tspan></text><g shape-rendering="crispEdges" stroke="#000" stroke-width="1" fill="none"><rect x="50.5" y="229.5" width="650" height="150"/><path d="M51 367.5h5M700 367.5h-5M51 354.5h5M700 354.5h-5M51 342.5h5M700 342.5h-5M51 329.5h5M700 329.5h-5M51 317.5h5M700 317.5h-5M51 304.5h5M700 304.5h-5M51 292.5h5M700 292.5h-5M51 279.5h5M700 279.5h-5M51 267.5h5M700 267.5h-5M51 254.5h5M700 254.5h-5M51 242.5h5M700 242.5h-5M158.5 379v-5M158.5 230v5M266.5 379v-5M266.5 230v5M375.5 379v-5M375.5 230v5M483.5 379v-5M483.5 230v5M591.5 379v-5M591.5 230v5"/><rect x="754.5" y="229.5" width="16" height="150" fill="url(#cb)"/></g><text x="46.5" y="384.3" text-anchor="end">0</text><text x="46.5" y="371.8" text-anchor="end">1</text><text x="46.5" y="359.3" text-anchor="end">2</text><text x="46.5" y="346.8" text-anchor="end">3</text><text x="46.5" y="334.3" text-anchor="end">4</text><text x="46.5" y="321.8" text-anchor="end">5</text><text x="46.5" y="309.3" text-anchor="end">6</text><text x="46.5" y="296.8" text-anchor="end">7</text><text x="46.5" y="284.3" text-anchor="end">8</text><text x="46.5" y="271.8" text-anchor="end">9</text><text x="46.5" y="259.3" text-anchor="end">10</text><text x="46.5" y="246.8" text-anchor="end">11</text><text x="46.5" y="234.3" text-anchor="end">12</text><text x="49.2" y="393.5" text-anchor="middle">00:00</text><text x="157.533" y="393.5" text-anchor="middle">04:00</text><text x="265.867" y="393.5" text-anchor="middle">08:00</text><text x="374.2" y="393.5" text-anchor="middle">12:00</text><text x="482.533" y="393.5" text-anchor="middle">16:00</text><text x="590.867" y="393.5" text-anchor="middle">20:00</text><text x="699.2" y="393.5" text-anchor="middle">00:00</text><text x="375.5" y="412" text-anchor="middle" textLength="58.5">Time (UTC)</text><text transform="translate(27,305.5) rotate(-90)" text-anchor="middle" textLength="61">Height (km)</text><text x="730" y="384.6">10<tspan dy="-5" font-size="9">-7</tspan></text><text x="730" y="334.6">10<tspan dy="-5" font-size="9">-6</tspan></text><text x="730" y="284.6">10<tspan dy="-5" font-size="9">-5</tspan></text><text x="730" y="234.6">10<tspan dy="-5" font-size="9">-4</tspan></text><text transform="translate(722,304) rotate(-90)" text-anchor="middle">m<tspan dy="-4" font-size="9">-1</tspan><tspan dy="4"> sr</tspan><tspan dy="-4" font-size="9">-1</tspan></text><text x="53.5" y="33" textLength="73.5">18 May 2017</text><text class="b" x="56.5" y="55.5" textLength="207">Attenuated backscatter coefficient</text><text class="b" x="56.5" y="245.5" textLength="237">Raw attenuated backscatter coefficient</text><text class="b" x="4" y="413" textLength="166">Gual Pahari CL51 ceilometer</text></svg></body></html>
